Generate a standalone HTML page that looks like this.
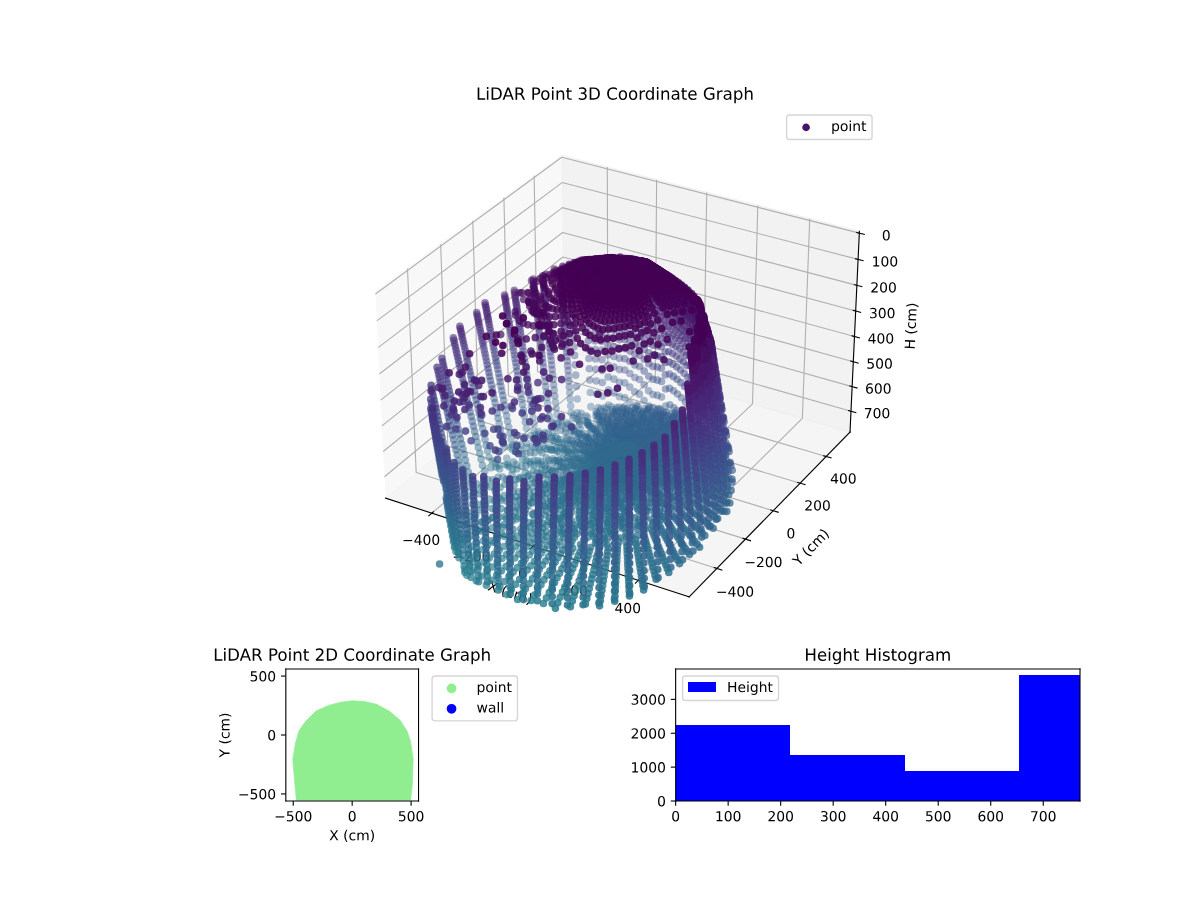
<!DOCTYPE html>
<html><head><meta charset="utf-8"><title>LiDAR Point Graphs</title><style>html,body{margin:0;padding:0;background:#fff;font-family:"Liberation Sans",sans-serif}svg{display:block}</style></head><body>
<svg width="1200" height="900" viewBox="0 0 864 648">
<defs>
<style type="text/css">*{stroke-linejoin:round}</style>
</defs>
<g id="figure_1">
<g id="patch_1">
<path d="M 0 648
L 864 648
L 864 0
L 0 0
z
" style="fill: #ffffff"/>
</g>
<g id="patch_2">
<path d="M 252.72 457.92
L 632.88 457.92
L 632.88 77.76
L 252.72 77.76
z
" style="fill: #ffffff"/>
</g>
<g id="pane3d_1">
<g id="patch_3">
<path d="M 270.252972 210.28506
L 404.455451 111.951293
L 406.092304 251.611507
L 277.550821 358.622367
" style="fill: #f2f2f2; opacity: 0.5; stroke: #f2f2f2; stroke-linejoin: miter"/>
</g>
</g>
<g id="pane3d_2">
<g id="patch_4">
<path d="M 404.455451 111.951293
L 618.766281 166.533927
L 612.009988 311.104854
L 406.092304 251.611507
" style="fill: #e6e6e6; opacity: 0.5; stroke: #e6e6e6; stroke-linejoin: miter"/>
</g>
</g>
<g id="pane3d_3">
<g id="patch_5">
<path d="M 277.550821 358.622367
L 496.12531 429.770374
L 612.009988 311.104854
L 406.092304 251.611507
" style="fill: #ececec; opacity: 0.5; stroke: #ececec; stroke-linejoin: miter"/>
</g>
</g>
<g id="grid3d_1">
<g id="Line3DCollection_1">
<path d="M 310.93676 369.489797
L 437.66829 260.734381
L 437.263356 120.307109
" style="fill: none; stroke: #b0b0b0; stroke-width: 0.8"/>
<path d="M 347.080576 381.254942
L 471.802367 270.596334
L 472.751577 129.345572
" style="fill: none; stroke: #b0b0b0; stroke-width: 0.8"/>
<path d="M 383.888085 393.236124
L 506.509634 280.623892
L 508.859638 138.541902
" style="fill: none; stroke: #b0b0b0; stroke-width: 0.8"/>
<path d="M 421.377734 405.43935
L 541.804652 290.821262
L 545.60392 147.900271
" style="fill: none; stroke: #b0b0b0; stroke-width: 0.8"/>
<path d="M 459.568666 417.87085
L 577.702479 301.192794
L 583.00139 157.424999
" style="fill: none; stroke: #b0b0b0; stroke-width: 0.8"/>
</g>
</g>
<g id="grid3d_2">
<g id="Line3DCollection_2">
<path d="M 293.392906 193.329808
L 299.649288 340.22538
L 516.124182 409.291597
" style="fill: none; stroke: #b0b0b0; stroke-width: 0.8"/>
<path d="M 317.262119 175.840193
L 322.472684 321.224889
L 536.745739 388.175191
" style="fill: none; stroke: #b0b0b0; stroke-width: 0.8"/>
<path d="M 340.395406 158.889812
L 344.620042 302.787201
L 556.72414 367.717376
" style="fill: none; stroke: #b0b0b0; stroke-width: 0.8"/>
<path d="M 362.826284 142.454104
L 366.120959 284.887675
L 576.089012 347.887813
" style="fill: none; stroke: #b0b0b0; stroke-width: 0.8"/>
<path d="M 384.586267 126.509979
L 387.003331 267.503088
L 594.868188 328.658
" style="fill: none; stroke: #b0b0b0; stroke-width: 0.8"/>
</g>
</g>
<g id="grid3d_3">
<g id="Line3DCollection_3">
<path d="M 618.70413 167.863834
L 404.470479 113.233505
L 270.320211 211.651759
" style="fill: none; stroke: #b0b0b0; stroke-width: 0.8"/>
<path d="M 617.82117 186.757385
L 404.684034 131.454529
L 271.275233 231.063703
" style="fill: none; stroke: #b0b0b0; stroke-width: 0.8"/>
<path d="M 616.947294 205.456561
L 404.8955 149.497386
L 272.22004 250.268012
" style="fill: none; stroke: #b0b0b0; stroke-width: 0.8"/>
<path d="M 616.082362 223.964346
L 405.10491 167.364677
L 273.154795 269.268
" style="fill: none; stroke: #b0b0b0; stroke-width: 0.8"/>
<path d="M 615.226237 242.283663
L 405.312291 185.058952
L 274.079658 288.066911
" style="fill: none; stroke: #b0b0b0; stroke-width: 0.8"/>
<path d="M 614.378787 260.417377
L 405.517674 202.582713
L 274.994784 306.667921
" style="fill: none; stroke: #b0b0b0; stroke-width: 0.8"/>
<path d="M 613.539879 278.368293
L 405.721087 219.938411
L 275.900327 325.074137
" style="fill: none; stroke: #b0b0b0; stroke-width: 0.8"/>
<path d="M 612.709386 296.139162
L 405.922559 237.128453
L 276.796436 343.288604
" style="fill: none; stroke: #b0b0b0; stroke-width: 0.8"/>
</g>
</g>
<g id="axis3d_1">
<g id="line2d_1">
<path d="M 277.550821 358.622367
L 496.12531 429.770374
" style="fill: none; stroke: #000000; stroke-width: 0.8; stroke-linecap: square"/>
</g>
<g id="xtick_1">
<g id="line2d_2">
<path d="M 312.042892 368.540564
L 308.719614 371.392454
" style="fill: none; stroke: #000000; stroke-width: 0.8; stroke-linecap: square"/>
</g>
<g id="text_1">
<!-- −400 -->
<g transform="translate(289.473596 392.335025) scale(0.1 -0.1)">
<defs>
<path id="DejaVuSans-2212" d="M 678 2272
L 4684 2272
L 4684 1741
L 678 1741
L 678 2272
z
" transform="scale(0.015625)"/>
<path id="DejaVuSans-34" d="M 2419 4116
L 825 1625
L 2419 1625
L 2419 4116
z
M 2253 4666
L 3047 4666
L 3047 1625
L 3713 1625
L 3713 1100
L 3047 1100
L 3047 0
L 2419 0
L 2419 1100
L 313 1100
L 313 1709
L 2253 4666
z
" transform="scale(0.015625)"/>
<path id="DejaVuSans-30" d="M 2034 4250
Q 1547 4250 1301 3770
Q 1056 3291 1056 2328
Q 1056 1369 1301 889
Q 1547 409 2034 409
Q 2525 409 2770 889
Q 3016 1369 3016 2328
Q 3016 3291 2770 3770
Q 2525 4250 2034 4250
z
M 2034 4750
Q 2819 4750 3233 4129
Q 3647 3509 3647 2328
Q 3647 1150 3233 529
Q 2819 -91 2034 -91
Q 1250 -91 836 529
Q 422 1150 422 2328
Q 422 3509 836 4129
Q 1250 4750 2034 4750
z
" transform="scale(0.015625)"/>
</defs>
<use href="#DejaVuSans-2212"/>
<use href="#DejaVuSans-34" transform="translate(83.789062 0)"/>
<use href="#DejaVuSans-30" transform="translate(147.412109 0)"/>
<use href="#DejaVuSans-30" transform="translate(211.035156 0)"/>
</g>
</g>
</g>
<g id="xtick_2">
<g id="line2d_3">
<path d="M 348.169993 380.288364
L 344.896892 383.192402
" style="fill: none; stroke: #000000; stroke-width: 0.8; stroke-linecap: square"/>
</g>
<g id="text_2">
<!-- −200 -->
<g transform="translate(325.653964 404.274148) scale(0.1 -0.1)">
<defs>
<path id="DejaVuSans-32" d="M 1228 531
L 3431 531
L 3431 0
L 469 0
L 469 531
Q 828 903 1448 1529
Q 2069 2156 2228 2338
Q 2531 2678 2651 2914
Q 2772 3150 2772 3378
Q 2772 3750 2511 3984
Q 2250 4219 1831 4219
Q 1534 4219 1204 4116
Q 875 4013 500 3803
L 500 4441
Q 881 4594 1212 4672
Q 1544 4750 1819 4750
Q 2544 4750 2975 4387
Q 3406 4025 3406 3419
Q 3406 3131 3298 2873
Q 3191 2616 2906 2266
Q 2828 2175 2409 1742
Q 1991 1309 1228 531
z
" transform="scale(0.015625)"/>
</defs>
<use href="#DejaVuSans-2212"/>
<use href="#DejaVuSans-32" transform="translate(83.789062 0)"/>
<use href="#DejaVuSans-30" transform="translate(147.412109 0)"/>
<use href="#DejaVuSans-30" transform="translate(211.035156 0)"/>
</g>
</g>
</g>
<g id="xtick_3">
<g id="line2d_4">
<path d="M 384.959982 392.251723
L 381.739471 395.209351
" style="fill: none; stroke: #000000; stroke-width: 0.8; stroke-linecap: square"/>
</g>
<g id="text_3">
<!-- 0 -->
<g transform="translate(373.053026 416.433159) scale(0.1 -0.1)">
<use href="#DejaVuSans-30"/>
</g>
</g>
</g>
<g id="xtick_4">
<g id="line2d_5">
<path d="M 422.431274 404.436628
L 419.265875 407.449344
" style="fill: none; stroke: #000000; stroke-width: 0.8; stroke-linecap: square"/>
</g>
<g id="text_4">
<!-- 200 -->
<g transform="translate(404.222173 428.818189) scale(0.1 -0.1)">
<use href="#DejaVuSans-32"/>
<use href="#DejaVuSans-30" transform="translate(63.623047 0)"/>
<use href="#DejaVuSans-30" transform="translate(127.246094 0)"/>
</g>
</g>
</g>
<g id="xtick_5">
<g id="line2d_6">
<path d="M 460.602972 416.84929
L 457.495319 419.918647
" style="fill: none; stroke: #000000; stroke-width: 0.8; stroke-linecap: square"/>
</g>
<g id="text_5">
<!-- 400 -->
<g transform="translate(442.458025 441.435599) scale(0.1 -0.1)">
<use href="#DejaVuSans-34"/>
<use href="#DejaVuSans-30" transform="translate(63.623047 0)"/>
<use href="#DejaVuSans-30" transform="translate(127.246094 0)"/>
</g>
</g>
</g>
<g id="text_6">
<!-- X (cm) -->
<g transform="translate(350.613529 424.771398) rotate(-341.969455) scale(0.1 -0.1)">
<defs>
<path id="DejaVuSans-58" d="M 403 4666
L 1081 4666
L 2241 2931
L 3406 4666
L 4084 4666
L 2584 2425
L 4184 0
L 3506 0
L 2194 1984
L 872 0
L 191 0
L 1856 2491
L 403 4666
z
" transform="scale(0.015625)"/>
<path id="DejaVuSans-20" transform="scale(0.015625)"/>
<path id="DejaVuSans-28" d="M 1984 4856
Q 1566 4138 1362 3434
Q 1159 2731 1159 2009
Q 1159 1288 1364 580
Q 1569 -128 1984 -844
L 1484 -844
Q 1016 -109 783 600
Q 550 1309 550 2009
Q 550 2706 781 3412
Q 1013 4119 1484 4856
L 1984 4856
z
" transform="scale(0.015625)"/>
<path id="DejaVuSans-63" d="M 3122 3366
L 3122 2828
Q 2878 2963 2633 3030
Q 2388 3097 2138 3097
Q 1578 3097 1268 2742
Q 959 2388 959 1747
Q 959 1106 1268 751
Q 1578 397 2138 397
Q 2388 397 2633 464
Q 2878 531 3122 666
L 3122 134
Q 2881 22 2623 -34
Q 2366 -91 2075 -91
Q 1284 -91 818 406
Q 353 903 353 1747
Q 353 2603 823 3093
Q 1294 3584 2113 3584
Q 2378 3584 2631 3529
Q 2884 3475 3122 3366
z
" transform="scale(0.015625)"/>
<path id="DejaVuSans-6d" d="M 3328 2828
Q 3544 3216 3844 3400
Q 4144 3584 4550 3584
Q 5097 3584 5394 3201
Q 5691 2819 5691 2113
L 5691 0
L 5113 0
L 5113 2094
Q 5113 2597 4934 2840
Q 4756 3084 4391 3084
Q 3944 3084 3684 2787
Q 3425 2491 3425 1978
L 3425 0
L 2847 0
L 2847 2094
Q 2847 2600 2669 2842
Q 2491 3084 2119 3084
Q 1678 3084 1418 2786
Q 1159 2488 1159 1978
L 1159 0
L 581 0
L 581 3500
L 1159 3500
L 1159 2956
Q 1356 3278 1631 3431
Q 1906 3584 2284 3584
Q 2666 3584 2933 3390
Q 3200 3197 3328 2828
z
" transform="scale(0.015625)"/>
<path id="DejaVuSans-29" d="M 513 4856
L 1013 4856
Q 1481 4119 1714 3412
Q 1947 2706 1947 2009
Q 1947 1309 1714 600
Q 1481 -109 1013 -844
L 513 -844
Q 928 -128 1133 580
Q 1338 1288 1338 2009
Q 1338 2731 1133 3434
Q 928 4138 513 4856
z
" transform="scale(0.015625)"/>
</defs>
<use href="#DejaVuSans-58"/>
<use href="#DejaVuSans-20" transform="translate(68.505859 0)"/>
<use href="#DejaVuSans-28" transform="translate(100.292969 0)"/>
<use href="#DejaVuSans-63" transform="translate(139.306641 0)"/>
<use href="#DejaVuSans-6d" transform="translate(194.287109 0)"/>
<use href="#DejaVuSans-29" transform="translate(291.699219 0)"/>
</g>
</g>
</g>
<g id="axis3d_2">
<g id="line2d_7">
<path d="M 612.009988 311.104854
L 496.12531 429.770374
" style="fill: none; stroke: #000000; stroke-width: 0.8; stroke-linecap: square"/>
</g>
<g id="xtick_6">
<g id="line2d_8">
<path d="M 514.298548 408.709129
L 519.780241 410.458061
" style="fill: none; stroke: #000000; stroke-width: 0.8; stroke-linecap: square"/>
</g>
<g id="text_7">
<!-- −400 -->
<g transform="translate(515.49067 429.591965) scale(0.1 -0.1)">
<use href="#DejaVuSans-2212"/>
<use href="#DejaVuSans-34" transform="translate(83.789062 0)"/>
<use href="#DejaVuSans-30" transform="translate(147.412109 0)"/>
<use href="#DejaVuSans-30" transform="translate(211.035156 0)"/>
</g>
</g>
</g>
<g id="xtick_7">
<g id="line2d_9">
<path d="M 534.940145 387.611028
L 540.361591 389.304976
" style="fill: none; stroke: #000000; stroke-width: 0.8; stroke-linecap: square"/>
</g>
<g id="text_8">
<!-- −200 -->
<g transform="translate(535.918658 408.259775) scale(0.1 -0.1)">
<use href="#DejaVuSans-2212"/>
<use href="#DejaVuSans-32" transform="translate(83.789062 0)"/>
<use href="#DejaVuSans-30" transform="translate(147.412109 0)"/>
<use href="#DejaVuSans-30" transform="translate(211.035156 0)"/>
</g>
</g>
</g>
<g id="xtick_8">
<g id="line2d_10">
<path d="M 554.938234 367.170667
L 560.300495 368.812185
" style="fill: none; stroke: #000000; stroke-width: 0.8; stroke-linecap: square"/>
</g>
<g id="text_9">
<!-- 0 -->
<g transform="translate(566.261442 387.593351) scale(0.1 -0.1)">
<use href="#DejaVuSans-30"/>
</g>
</g>
</g>
<g id="xtick_9">
<g id="line2d_11">
<path d="M 574.322444 347.357761
L 579.62657 348.949245
" style="fill: none; stroke: #000000; stroke-width: 0.8; stroke-linecap: square"/>
</g>
<g id="text_10">
<!-- 200 -->
<g transform="translate(579.081222 367.562007) scale(0.1 -0.1)">
<use href="#DejaVuSans-32"/>
<use href="#DejaVuSans-30" transform="translate(63.623047 0)"/>
<use href="#DejaVuSans-30" transform="translate(127.246094 0)"/>
</g>
</g>
</g>
<g id="xtick_10">
<g id="line2d_12">
<path d="M 593.120615 328.143855
L 598.367644 329.687558
" style="fill: none; stroke: #000000; stroke-width: 0.8; stroke-linecap: square"/>
</g>
<g id="text_11">
<!-- 400 -->
<g transform="translate(597.682951 348.136911) scale(0.1 -0.1)">
<use href="#DejaVuSans-34"/>
<use href="#DejaVuSans-30" transform="translate(63.623047 0)"/>
<use href="#DejaVuSans-30" transform="translate(127.246094 0)"/>
</g>
</g>
</g>
<g id="text_12">
<!-- Y (cm) -->
<g transform="translate(575.075775 407.921094) rotate(-45.67927) scale(0.1 -0.1)">
<defs>
<path id="DejaVuSans-59" d="M -13 4666
L 666 4666
L 1959 2747
L 3244 4666
L 3922 4666
L 2272 2222
L 2272 0
L 1638 0
L 1638 2222
L -13 4666
z
" transform="scale(0.015625)"/>
</defs>
<use href="#DejaVuSans-59"/>
<use href="#DejaVuSans-20" transform="translate(61.083984 0)"/>
<use href="#DejaVuSans-28" transform="translate(92.871094 0)"/>
<use href="#DejaVuSans-63" transform="translate(131.884766 0)"/>
<use href="#DejaVuSans-6d" transform="translate(186.865234 0)"/>
<use href="#DejaVuSans-29" transform="translate(284.277344 0)"/>
</g>
</g>
</g>
<g id="axis3d_3">
<g id="line2d_13">
<path d="M 612.009988 311.104854
L 618.766281 166.533927
" style="fill: none; stroke: #000000; stroke-width: 0.8; stroke-linecap: square"/>
</g>
<g id="xtick_11">
<g id="line2d_14">
<path d="M 616.900727 167.403959
L 622.3155 168.784746
" style="fill: none; stroke: #000000; stroke-width: 0.8; stroke-linecap: square"/>
</g>
<g id="text_13">
<!-- 0 -->
<g transform="translate(634.933428 173.022584) scale(0.1 -0.1)">
<use href="#DejaVuSans-30"/>
</g>
</g>
</g>
<g id="xtick_12">
<g id="line2d_15">
<path d="M 616.027458 186.291969
L 621.413111 187.689389
" style="fill: none; stroke: #000000; stroke-width: 0.8; stroke-linecap: square"/>
</g>
<g id="text_14">
<!-- 100 -->
<g transform="translate(627.58979 191.886713) scale(0.1 -0.1)">
<defs>
<path id="DejaVuSans-31" d="M 794 531
L 1825 531
L 1825 4091
L 703 3866
L 703 4441
L 1819 4666
L 2450 4666
L 2450 531
L 3481 531
L 3481 0
L 794 0
L 794 531
z
" transform="scale(0.015625)"/>
</defs>
<use href="#DejaVuSans-31"/>
<use href="#DejaVuSans-30" transform="translate(63.623047 0)"/>
<use href="#DejaVuSans-30" transform="translate(127.246094 0)"/>
</g>
</g>
</g>
<g id="xtick_13">
<g id="line2d_16">
<path d="M 615.163169 204.985741
L 620.520012 206.39938
" style="fill: none; stroke: #000000; stroke-width: 0.8; stroke-linecap: square"/>
</g>
<g id="text_15">
<!-- 200 -->
<g transform="translate(626.618725 210.557197) scale(0.1 -0.1)">
<use href="#DejaVuSans-32"/>
<use href="#DejaVuSans-30" transform="translate(63.623047 0)"/>
<use href="#DejaVuSans-30" transform="translate(127.246094 0)"/>
</g>
</g>
</g>
<g id="xtick_14">
<g id="line2d_17">
<path d="M 614.307722 223.488257
L 619.636063 224.91771
" style="fill: none; stroke: #000000; stroke-width: 0.8; stroke-linecap: square"/>
</g>
<g id="text_16">
<!-- 300 -->
<g transform="translate(625.657576 229.037005) scale(0.1 -0.1)">
<defs>
<path id="DejaVuSans-33" d="M 2597 2516
Q 3050 2419 3304 2112
Q 3559 1806 3559 1356
Q 3559 666 3084 287
Q 2609 -91 1734 -91
Q 1441 -91 1130 -33
Q 819 25 488 141
L 488 750
Q 750 597 1062 519
Q 1375 441 1716 441
Q 2309 441 2620 675
Q 2931 909 2931 1356
Q 2931 1769 2642 2001
Q 2353 2234 1838 2234
L 1294 2234
L 1294 2753
L 1863 2753
Q 2328 2753 2575 2939
Q 2822 3125 2822 3475
Q 2822 3834 2567 4026
Q 2313 4219 1838 4219
Q 1578 4219 1281 4162
Q 984 4106 628 3988
L 628 4550
Q 988 4650 1302 4700
Q 1616 4750 1894 4750
Q 2613 4750 3031 4423
Q 3450 4097 3450 3541
Q 3450 3153 3228 2886
Q 3006 2619 2597 2516
z
" transform="scale(0.015625)"/>
</defs>
<use href="#DejaVuSans-33"/>
<use href="#DejaVuSans-30" transform="translate(63.623047 0)"/>
<use href="#DejaVuSans-30" transform="translate(127.246094 0)"/>
</g>
</g>
</g>
<g id="xtick_15">
<g id="line2d_18">
<path d="M 613.460983 241.802437
L 618.761122 243.247309
" style="fill: none; stroke: #000000; stroke-width: 0.8; stroke-linecap: square"/>
</g>
<g id="text_17">
<!-- 400 -->
<g transform="translate(624.706194 247.329042) scale(0.1 -0.1)">
<use href="#DejaVuSans-34"/>
<use href="#DejaVuSans-30" transform="translate(63.623047 0)"/>
<use href="#DejaVuSans-30" transform="translate(127.246094 0)"/>
</g>
</g>
</g>
<g id="xtick_16">
<g id="line2d_19">
<path d="M 612.62282 259.931141
L 617.895053 261.391048
" style="fill: none; stroke: #000000; stroke-width: 0.8; stroke-linecap: square"/>
</g>
<g id="text_18">
<!-- 500 -->
<g transform="translate(623.76443 265.436156) scale(0.1 -0.1)">
<defs>
<path id="DejaVuSans-35" d="M 691 4666
L 3169 4666
L 3169 4134
L 1269 4134
L 1269 2991
Q 1406 3038 1543 3061
Q 1681 3084 1819 3084
Q 2600 3084 3056 2656
Q 3513 2228 3513 1497
Q 3513 744 3044 326
Q 2575 -91 1722 -91
Q 1428 -91 1123 -41
Q 819 9 494 109
L 494 744
Q 775 591 1075 516
Q 1375 441 1709 441
Q 2250 441 2565 725
Q 2881 1009 2881 1497
Q 2881 1984 2565 2268
Q 2250 2553 1709 2553
Q 1456 2553 1204 2497
Q 953 2441 691 2322
L 691 4666
z
" transform="scale(0.015625)"/>
</defs>
<use href="#DejaVuSans-35"/>
<use href="#DejaVuSans-30" transform="translate(63.623047 0)"/>
<use href="#DejaVuSans-30" transform="translate(127.246094 0)"/>
</g>
</g>
</g>
<g id="xtick_17">
<g id="line2d_20">
<path d="M 611.793102 277.877173
L 617.037722 279.351739
" style="fill: none; stroke: #000000; stroke-width: 0.8; stroke-linecap: square"/>
</g>
<g id="text_19">
<!-- 600 -->
<g transform="translate(622.832139 283.361136) scale(0.1 -0.1)">
<defs>
<path id="DejaVuSans-36" d="M 2113 2584
Q 1688 2584 1439 2293
Q 1191 2003 1191 1497
Q 1191 994 1439 701
Q 1688 409 2113 409
Q 2538 409 2786 701
Q 3034 994 3034 1497
Q 3034 2003 2786 2293
Q 2538 2584 2113 2584
z
M 3366 4563
L 3366 3988
Q 3128 4100 2886 4159
Q 2644 4219 2406 4219
Q 1781 4219 1451 3797
Q 1122 3375 1075 2522
Q 1259 2794 1537 2939
Q 1816 3084 2150 3084
Q 2853 3084 3261 2657
Q 3669 2231 3669 1497
Q 3669 778 3244 343
Q 2819 -91 2113 -91
Q 1303 -91 875 529
Q 447 1150 447 2328
Q 447 3434 972 4092
Q 1497 4750 2381 4750
Q 2619 4750 2861 4703
Q 3103 4656 3366 4563
z
" transform="scale(0.015625)"/>
</defs>
<use href="#DejaVuSans-36"/>
<use href="#DejaVuSans-30" transform="translate(63.623047 0)"/>
<use href="#DejaVuSans-30" transform="translate(127.246094 0)"/>
</g>
</g>
</g>
<g id="xtick_18">
<g id="line2d_21">
<path d="M 610.971702 295.64328
L 616.188997 297.132138
" style="fill: none; stroke: #000000; stroke-width: 0.8; stroke-linecap: square"/>
</g>
<g id="text_20">
<!-- 700 -->
<g transform="translate(621.909178 301.106717) scale(0.1 -0.1)">
<defs>
<path id="DejaVuSans-37" d="M 525 4666
L 3525 4666
L 3525 4397
L 1831 0
L 1172 0
L 2766 4134
L 525 4134
L 525 4666
z
" transform="scale(0.015625)"/>
</defs>
<use href="#DejaVuSans-37"/>
<use href="#DejaVuSans-30" transform="translate(63.623047 0)"/>
<use href="#DejaVuSans-30" transform="translate(127.246094 0)"/>
</g>
</g>
</g>
<g id="text_21">
<!-- H (cm) -->
<g transform="translate(658.561219 251.728954) rotate(-87.324319) scale(0.1 -0.1)">
<defs>
<path id="DejaVuSans-48" d="M 628 4666
L 1259 4666
L 1259 2753
L 3553 2753
L 3553 4666
L 4184 4666
L 4184 0
L 3553 0
L 3553 2222
L 1259 2222
L 1259 0
L 628 0
L 628 4666
z
" transform="scale(0.015625)"/>
</defs>
<use href="#DejaVuSans-48"/>
<use href="#DejaVuSans-20" transform="translate(75.195312 0)"/>
<use href="#DejaVuSans-28" transform="translate(106.982422 0)"/>
<use href="#DejaVuSans-63" transform="translate(145.996094 0)"/>
<use href="#DejaVuSans-6d" transform="translate(200.976562 0)"/>
<use href="#DejaVuSans-29" transform="translate(298.388672 0)"/>
</g>
</g>
</g>
<g id="axes_1">
<defs>
<path id="C0_0_6719e13be9" d="M 0 2.236068
C 0.593012 2.236068 1.161816 2.000462 1.581139 1.581139
C 2.000462 1.161816 2.236068 0.593012 2.236068 -0
C 2.236068 -0.593012 2.000462 -1.161816 1.581139 -1.581139
C 1.161816 -2.000462 0.593012 -2.236068 0 -2.236068
C -0.593012 -2.236068 -1.161816 -2.000462 -1.581139 -1.581139
C -2.000462 -1.161816 -2.236068 -0.593012 -2.236068 0
C -2.236068 0.593012 -2.000462 1.161816 -1.581139 1.581139
C -1.161816 2.000462 -0.593012 2.236068 0 2.236068
z
"/>
</defs><g stroke-width="5.47" stroke-linecap="round" fill="none"><path d="M411.2 297.1h0M403.3 301.4h0M397.2 303.4h0M418.4 297.6h0M415.2 301.5h0M384.5 305.4h0M408 304.4h0M423 300.5h0M379 308.3h0M400.1 307.9h0" stroke="#31678e" stroke-opacity="0.36"/><path d="M415.6 297.3h0M400.9 298.7h0M398.3 304.8h0M395.4 299.6h0M412.5 301.2h0M404.5 304.7h0M421.8 299.4h0M383.9 300.8h0" stroke="#31678e" stroke-opacity="0.36"/><path d="M413.1 299h0M401.7 304.6h0" stroke="#31678e" stroke-opacity="0.36"/><path d="M417.2 299.9h0M400.7 305.3h0" stroke="#31678e" stroke-opacity="0.36"/><path d="M416.4 302.6h0M404.9 306.5h0" stroke="#31678e" stroke-opacity="0.36"/><path d="M425.4 292.8h0M430.8 293.4h0M410.9 292.1h0M438.2 291.6h0M400.4 293.9h0M394.9 295h0M444 293.5h0M435.1 296.5h0" stroke="#33638d" stroke-opacity="0.36"/><path d="M432.6 294.3h0M440.2 292.9h0M445.7 293.1h0M394.3 290.5h0" stroke="#33638d" stroke-opacity="0.36"/><path d="M435.6 293.4h0M429.1 296.3h0M440.9 294.9h0" stroke="#33638d" stroke-opacity="0.36"/><path d="M436.7 294.5h0M429.7 297.6h0" stroke="#33638d" stroke-opacity="0.36"/><path d="M432.2 295.9h0" stroke="#33638d" stroke-opacity="0.36"/><path d="M430.4 298.1h0" stroke="#33638d" stroke-opacity="0.36"/><path d="M415.6 287.3h0M410.5 287.3h0M433.9 285.2h0M425 282.6h0M399.9 289.4h0M453.4 290h0M446 285.6h0" stroke="#355e8d" stroke-opacity="0.36"/><path d="M429.6 283.7h0M410.2 282.8h0" stroke="#355e8d" stroke-opacity="0.36"/><path d="M384.5 310.5h0M378 314.7h0" stroke="#2f6c8e" stroke-opacity="0.36"/><path d="M387.6 310.5h0M382 313.7h0" stroke="#2f6c8e" stroke-opacity="0.36"/><path d="M429.1 299.4h0M449 293.3h0M443.8 294.9h0M437 297.4h0M458.3 291.9h0M383.2 296.4h0M377.5 299.5h0M453.9 296.3h0M447.9 298.4h0M433.7 303h0M440.8 302.1h0M463.6 296.3h0M365.5 303.3h0M452.4 301.3h0M437.8 306h0M447.7 304.1h0M460.9 301.3h0M359.4 305h0" stroke="#33628d" stroke-opacity="0.41"/><path d="M431.6 299.2h0M441 296.3h0M448.3 294.1h0M455.3 293.4h0M376.9 295.3h0M437.1 301.8h0M460 295.4h0M444.3 300.5h0M451.1 298.7h0M466.3 295.9h0M457.1 299.7h0M441.1 304.9h0M448.9 303.2h0M364.8 299.3h0M463.5 300.8h0" stroke="#33628d" stroke-opacity="0.41"/><path d="M430.8 300.3h0M443 296.6h0M450.4 294.6h0M459.3 292.6h0M438 300h0M454.5 297.7h0M447.8 299.8h0M434.4 304.2h0M462.4 297h0M444.1 303.4h0M451.7 302.8h0M438.4 307.2h0M456.7 302.6h0" stroke="#33628d" stroke-opacity="0.41"/><path d="M445 296.1h0M435.1 299.5h0M451.6 294.4h0M457.5 294h0M440.2 299.4h0M445.3 301.7h0M450.3 300.2h0M437.5 304.6h0M462.2 297.7h0M456.9 301.1h0M443.5 306.4h0" stroke="#33628d" stroke-opacity="0.41"/><path d="M434.2 299.8h0M441.8 297.5h0M448.7 296.2h0M457.4 294.7h0M445.5 301.7h0M454.8 299.1h0M440.1 303.8h0M461.9 298.4h0M452.4 304.2h0" stroke="#33628d" stroke-opacity="0.41"/><path d="M443.2 297.9h0M433.4 301.6h0M452.9 295.7h0M459 295.4h0M450 301.6h0M438.5 305.7h0M465.9 297.3h0M455.1 301.9h0M445.4 305.9h0" stroke="#33628d" stroke-opacity="0.41"/><path d="M447.1 297.2h0M432.6 302.7h0M440.2 300.8h0M457.1 296.9h0M445.4 303.1h0M466.3 298.9h0M453.9 303.3h0M442.1 307.5h0" stroke="#33628d" stroke-opacity="0.41"/><path d="M448.4 297.6h0M437.7 303h0M456.8 298.3h0M443.3 305h0M449.1 304.5h0M464.1 300.1h0" stroke="#33628d" stroke-opacity="0.41"/><path d="M444.1 299.2h0M451.2 297.3h0M437.2 304.7h0M461.4 299.1h0" stroke="#33628d" stroke-opacity="0.41"/><path d="M451.2 298.7h0M450.9 300.1h0M454.1 300.5h0M460.1 299.8h0M441.7 306.2h0M458 302.6h0M440 308.1h0" stroke="#33628d" stroke-opacity="0.41"/><path d="M409.3 305.6h0M417.3 303.9h0M378.2 303.8h0M403.4 309.8h0M423.1 303.7h0M430 302.1h0M412.9 309h0M367.2 311.7h0M418.2 309.3h0M426.9 308.5h0M408.2 314.5h0M361.1 313.2h0M432.4 307.4h0M422.1 312.3h0M416.8 314.3h0M438.6 308.6h0" stroke="#31678e" stroke-opacity="0.41"/><path d="M421.4 303h0M410.7 306.6h0M407.2 311.3h0M431.8 304.5h0M424.6 306.8h0M413.8 310.4h0M366.3 307.4h0M418.8 312.8h0M360.3 309h0M408.6 316.5h0M436.1 308.1h0M430 310.2h0" stroke="#31678e" stroke-opacity="0.41"/><path d="M417.4 305.6h0M407.6 308.8h0M412.4 307.4h0M422.5 304.5h0M432.2 305.9h0M413.1 313.1h0M427.1 308.8h0" stroke="#31678e" stroke-opacity="0.41"/><path d="M423.6 305.2h0M411.3 310.2h0M417.2 312h0M428.5 309.3h0M435 307.8h0M410.9 316.8h0" stroke="#31678e" stroke-opacity="0.41"/><path d="M423.3 305.8h0M413.6 310.6h0M425.5 311.5h0M436.1 308.9h0" stroke="#31678e" stroke-opacity="0.41"/><path d="M424.1 306.6h0M416.9 312.2h0M429.1 311.1h0" stroke="#31678e" stroke-opacity="0.41"/><path d="M426.7 306.9h0" stroke="#31678e" stroke-opacity="0.41"/><path d="M425.4 308.1h0" stroke="#31678e" stroke-opacity="0.41"/><path d="M442.1 282.9h0M449.8 286.4h0M399.5 285.1h0M393.8 286.3h0M382.6 292.3h0M463.7 288.4h0M467.3 292.3h0M376.2 291.3h0M474 294.2h0M479.3 292.3h0M470.8 298.2h0M364 295.5h0" stroke="#355e8d" stroke-opacity="0.41"/><path d="M382 288.2h0M464.2 294.2h0M470.2 293.4h0M375.6 287.5h0M475.4 294.6h0M471.2 298.4h0" stroke="#355e8d" stroke-opacity="0.41"/><path d="M467.6 293.8h0M472.4 295.4h0" stroke="#355e8d" stroke-opacity="0.41"/><path d="M467.1 294.5h0M474.8 296.1h0" stroke="#355e8d" stroke-opacity="0.41"/><path d="M466.1 295.1h0M472.2 297h0" stroke="#355e8d" stroke-opacity="0.41"/><path d="M469.4 296.4h0" stroke="#355e8d" stroke-opacity="0.41"/><path d="M385.4 313.2h0M392.4 311.4h0M398.1 311.4h0M369.2 320.4h0M379.1 319.2h0M362.9 322h0M392.7 317.2h0M374.8 323.8h0M401.3 316h0M385.2 322.2h0M392.7 323h0" stroke="#2f6d8e" stroke-opacity="0.41"/><path d="M388.4 312.4h0M394.7 311.9h0M368 316.2h0M372.3 320.3h0M400.2 314.4h0M362 317.5h0M379.5 322.4h0M388 322.2h0M375.9 326.6h0M404.7 318.6h0M396 322.1h0" stroke="#2f6d8e" stroke-opacity="0.41"/><path d="M387.4 314.1h0M392.6 314.5h0M375.1 320.5h0M383.1 321.3h0M398.3 317.1h0M403.5 316.4h0M391.4 321.2h0M378.8 326.6h0" stroke="#2f6d8e" stroke-opacity="0.41"/><path d="M389 315.3h0M397.1 314.8h0M402.1 318.6h0M382 325.9h0M388.6 324.2h0" stroke="#2f6d8e" stroke-opacity="0.41"/><path d="M396.8 315.8h0" stroke="#2f6d8e" stroke-opacity="0.41"/><path d="M399.8 318.3h0" stroke="#2f6d8e" stroke-opacity="0.41"/><path d="M438.1 280.8h0M415 278.3h0M409.9 278.5h0M399 280.9h0M433.7 275.4h0M424.6 273.6h0M393.4 282.2h0M446 275.2h0M457 282.1h0M453.5 278.7h0M381.4 284.4h0M467 281.4h0M375 283.8h0M473.3 284.7h0" stroke="#38588c" stroke-opacity="0.41"/><path d="M429.3 274.3h0M409.6 274.4h0M398.6 277h0M392.9 278.4h0M460.4 283.8h0M449.8 275.7h0M380.9 280.7h0M470.2 284h0M374.4 280.2h0M476.3 285.8h0" stroke="#38588c" stroke-opacity="0.41"/><path d="M367.3 321.8h0M371.1 325h0M354.4 331.7h0M364.9 330h0" stroke="#2d718e" stroke-opacity="0.41"/><path d="M368.9 323.7h0M356.8 333.4h0M352.1 329.2h0" stroke="#2d718e" stroke-opacity="0.41"/><path d="M414.5 270.1h0M409.3 270.5h0M437.9 271.4h0M398.2 273.2h0M424.3 265.5h0M433.6 266.7h0M392.5 274.6h0M391.6 267.6h0M380.4 277.1h0M457.1 271.8h0M463.8 277h0M379.4 270.3h0M373.8 276.8h0" stroke="#3b528b" stroke-opacity="0.41"/><path d="M442.1 273h0M409 266.8h0M429 265.9h0M397.9 269.6h0M392.1 271.1h0M453.5 268.9h0M460.5 273.2h0M379.8 273.7h0" stroke="#3b528b" stroke-opacity="0.41"/><path d="M414.1 262.7h0M408.7 263.3h0M397.5 266.1h0M437.8 263h0M446 266.1h0M424 258.1h0M433.4 259h0M391.3 264.3h0M396.9 259.5h0" stroke="#3e4c8a" stroke-opacity="0.41"/><path d="M442 264.3h0M408.5 259.9h0M428.8 258.4h0M397.2 262.8h0M449.8 266.4h0M390.9 261.1h0" stroke="#3e4c8a" stroke-opacity="0.41"/><path d="M413.7 255.9h0M408.2 256.6h0M437.7 255.5h0M423.8 251.5h0M396.5 256.4h0M446 258h0M433.3 252h0M407.8 250.5h0" stroke="#404688" stroke-opacity="0.41"/><path d="M408 253.5h0M428.6 251.6h0M442 256.6h0" stroke="#404688" stroke-opacity="0.41"/><path d="M413.3 249.7h0" stroke="#414287" stroke-opacity="0.41"/><path d="M431.2 311.2h0M418.2 315.3h0M436.1 310.4h0M412.2 318h0M423.5 315.2h0M441.7 310.5h0M350.1 320.5h0M429 317h0M435.6 315.4h0M420.1 320.5h0M440.5 315.4h0M447.8 315.3h0M344.4 322.2h0M424.7 323.3h0M434.5 320.6h0M419.8 325.5h0M443.2 319.6h0" stroke="#31678e" stroke-opacity="0.46"/><path d="M421.7 314.7h0M429.5 312.6h0M415.8 316.9h0M438 310.4h0M411.2 319.7h0M434.6 314.3h0M443.6 312.8h0M349.2 316.4h0M423 319.4h0M429.9 318.2h0M417.1 323.5h0M440.8 317.6h0M448 316h0M434.2 320.8h0M427.2 323h0M343.5 318.2h0M422.6 325.5h0" stroke="#31678e" stroke-opacity="0.46"/><path d="M421.6 314.7h0M431.1 312.9h0M436.7 311.7h0M416.3 318.8h0M442.6 313.1h0M426.7 318.8h0M434.7 316.3h0M421.7 321.4h0M431.8 320.8h0M446.1 317.1h0M440.4 319.3h0M451.1 317h0M421.5 326.4h0" stroke="#31678e" stroke-opacity="0.46"/><path d="M422.9 315.7h0M429.7 314.2h0M439 311.4h0M413.6 319.8h0M444.8 313.9h0M436.4 316.6h0M423.9 321h0M431.8 318.8h0M419.1 323.9h0M441.7 318.7h0M450 316.4h0M428.8 323.9h0" stroke="#31678e" stroke-opacity="0.46"/><path d="M433.7 313.1h0M425.4 315.8h0M441.2 312.1h0M418.3 319.3h0M423.8 321.7h0M438.4 317.2h0M430.5 319.8h0M445.4 315.9h0M434.9 322.3h0M450.1 317.8h0" stroke="#31678e" stroke-opacity="0.46"/><path d="M424 316.9h0M431.9 314.6h0M437 313.1h0M418.1 320.1h0M442.5 314.6h0M429 319h0M437 318.4h0M421 324.5h0M447.7 316.7h0M433.5 323h0" stroke="#31678e" stroke-opacity="0.46"/><path d="M428.2 315.6h0M439.2 312.9h0M433.6 315.3h0M420.7 319.3h0M414.7 321.3h0M445.2 314.5h0M426.7 320.5h0M438.5 318.7h0M431.7 322.6h0M449.6 317.2h0M424.9 325.4h0" stroke="#31678e" stroke-opacity="0.46"/><path d="M425 318.1h0M438.5 313.9h0M444.7 315.3h0M434 319h0M439.3 320.4h0" stroke="#31678e" stroke-opacity="0.46"/><path d="M441.5 313.5h0M435.6 317.5h0M428.1 321.5h0M445.2 318.1h0" stroke="#31678e" stroke-opacity="0.46"/><path d="M439.6 315h0M440.6 316.1h0M443.9 315.6h0M441.4 316.5h0M444.8 316.8h0M443.6 317.2h0M443 317.4h0M430.3 321.6h0M438 319.5h0M444.5 318.3h0M443 318.9h0M436.4 321h0M448.9 317.2h0M445.9 318.6h0M447 318.3h0M441 320.6h0" stroke="#31678e" stroke-opacity="0.46"/><path d="M462.8 301.4h0M469.5 299.5h0M448.8 306h0M455.6 304h0M442 308.9h0M358.6 301.1h0M453.2 309h0M466.1 305.2h0M447.8 311.1h0M475.6 302.4h0M461.5 307.3h0M348.3 312.4h0M457.8 311.4h0M473.1 306.9h0M452 314.1h0M479.5 305.7h0M465.5 311h0" stroke="#33638d" stroke-opacity="0.46"/><path d="M461.7 302.1h0M445 307.4h0M451 305.7h0M467.4 300.7h0M456.3 305.4h0M472.8 300.5h0M462 307.4h0M448.2 311.7h0M470.1 305.6h0M454.1 311.2h0M475.9 304.5h0M347.5 308.6h0M467 309.8h0M458.8 313.2h0M451.5 315.6h0M480.9 306.8h0M475.7 309.8h0" stroke="#33638d" stroke-opacity="0.46"/><path d="M445.9 307.2h0M454.7 304.7h0M459.7 303.4h0M471.1 299.9h0M465.8 301.9h0M450.9 308.5h0M475.8 302.5h0M459.3 308.5h0M446.4 312.8h0M467.5 307.3h0M453.7 312.6h0M472.6 307.7h0M464 311.3h0M479 307.6h0M458.7 314.8h0M469.2 311.9h0" stroke="#33638d" stroke-opacity="0.46"/><path d="M442.8 308.7h0M459.3 304.1h0M450.1 307.2h0M469.6 301.2h0M465.2 303.3h0M455.1 306.8h0M474.3 303.7h0M447.3 312.6h0M461.7 309h0M452.6 311.9h0M469 306.9h0M457.7 313h0M477.1 308.5h0M467.2 311.8h0" stroke="#33638d" stroke-opacity="0.46"/><path d="M443.8 309.2h0M463.6 303.1h0M453.8 306.2h0M458.7 305.5h0M468.8 302.6h0M449.4 308.7h0M454.3 311.2h0M477.2 304.2h0M465.5 308.3h0M447.8 313.9h0M461 310.4h0M471.4 308.1h0M453.8 316.3h0M480.1 308.6h0" stroke="#33638d" stroke-opacity="0.46"/><path d="M447.4 308.3h0M452.2 307h0M459.9 304.9h0M472.2 302h0M467.3 303.8h0M456.9 309.1h0M450.7 312.8h0M476.6 305.9h0M469.1 308.8h0M462.7 310.8h0M456 314.3h0" stroke="#33638d" stroke-opacity="0.46"/><path d="M444.2 309.8h0M462.3 304.4h0M455.8 306.8h0M470.4 303.1h0M449.6 310.1h0M459.7 310.2h0M467.5 308.1h0M454 312.6h0M475 307h0M449.8 315.7h0M464.3 312.3h0" stroke="#33638d" stroke-opacity="0.46"/><path d="M453.4 307.6h0M444.1 310.5h0M459.6 306.3h0M465.5 305h0M471.7 304.4h0M448.3 313.1h0M456.1 312h0M465.3 310h0M477.4 306.5h0M470.8 310.8h0M461.4 313.9h0" stroke="#33638d" stroke-opacity="0.46"/><path d="M448 309.6h0M454.2 308.3h0M462.3 305.9h0M469 304.3h0M452.2 313.4h0M460.3 311.9h0M475.9 307.7h0M468.4 310.4h0" stroke="#33638d" stroke-opacity="0.46"/><path d="M444.4 311.1h0M457.8 307.7h0M445.8 311.5h0M456.3 308.3h0M451.3 309.9h0M463.9 306.2h0M467.5 305.5h0M454.4 309.7h0M465.1 306.5h0M454.8 309.7h0M452.3 310.5h0M450.4 311.4h0M463.3 307.7h0M472.9 304.9h0M462.1 309h0M457.6 310.6h0M448.9 314.4h0M450.7 314.2h0M470.8 308.7h0M451.3 314.9h0M456 313.5h0M461 312h0M454.5 314.1h0M474 308.6h0M453 315.5h0M456.8 314.4h0M455.1 314.9h0M462.7 312.6h0M460.3 313.6h0M455 315.7h0M462.8 313.5h0M466.7 312.5h0M473.5 310.5h0M459.2 314.9h0M463.3 313.8h0M465.7 313h0" stroke="#33638d" stroke-opacity="0.46"/><path d="M477.6 297h0M482.3 291.4h0M363.3 291.8h0M487 295.6h0M357.9 297.3h0M484.1 300.1h0M491.5 298.6h0M478.9 303.2h0M486.8 304.4h0M495.5 302.1h0M346.6 304.9h0" stroke="#355e8d" stroke-opacity="0.46"/><path d="M479.7 296.9h0M474.3 299.3h0M485.2 293.6h0M487.7 298.1h0M357.1 293.7h0M483.1 301.6h0M492.9 299.7h0M489.3 304.1h0M497.9 301.8h0" stroke="#355e8d" stroke-opacity="0.46"/><path d="M476.5 298.3h0M486.1 297.2h0M481.3 302.5h0M490.9 300.4h0M486.9 304.5h0" stroke="#355e8d" stroke-opacity="0.46"/><path d="M475.8 298.9h0M483 298.5h0M488.4 300.9h0M481.9 305.1h0M495.1 301.7h0M488.3 305.9h0" stroke="#355e8d" stroke-opacity="0.46"/><path d="M478.4 298.2h0M485.7 299h0M482 303h0M490.8 302.9h0M486.4 306.6h0" stroke="#355e8d" stroke-opacity="0.46"/><path d="M475.8 300.7h0M480.7 299.2h0M488.5 300.9h0M482 305.2h0M493.5 302.8h0" stroke="#355e8d" stroke-opacity="0.46"/><path d="M478.3 299.9h0M484.6 300.4h0M493.7 303.1h0M483.4 306.4h0" stroke="#355e8d" stroke-opacity="0.46"/><path d="M477.9 301.7h0M484.5 302.5h0" stroke="#355e8d" stroke-opacity="0.46"/><path d="M487 302.1h0" stroke="#355e8d" stroke-opacity="0.46"/><path d="M484.8 305.2h0" stroke="#355e8d" stroke-opacity="0.46"/><path d="M390.5 258.1h0M396.2 253.5h0M449.8 258.3h0M389.8 252.2h0M378 261h0M457.1 254.9h0M377.1 255.2h0M371.3 261.2h0M463.9 258.7h0M470.2 263.8h0M476.2 265.1h0M358.4 265.9h0" stroke="#404688" stroke-opacity="0.46"/><path d="M453.5 260.3h0M390.2 255.1h0M377.5 258.1h0M460.6 255.9h0M467.1 261.9h0M370.8 258.3h0M473.3 264.3h0" stroke="#404688" stroke-opacity="0.46"/><path d="M406.7 319.2h0M384.7 326.1h0M394.3 323.6h0M351.1 324.8h0M400.7 322.7h0M346.4 330.6h0M406.3 324.4h0M384.4 331.7h0M412.3 323.6h0M393.3 329.7h0M417.4 325.7h0M390.2 334.4h0M398.9 331.8h0M405.8 329.9h0" stroke="#2e6d8e" stroke-opacity="0.46"/><path d="M408.7 319.7h0M396.8 323.7h0M390.1 326h0M403.6 322.2h0M387.2 331.6h0M409 324.9h0M345.4 326.3h0M398.2 330.4h0M414.7 326.3h0M392.6 335.1h0" stroke="#2e6d8e" stroke-opacity="0.46"/><path d="M397.2 324.1h0M405.3 323.2h0M389.5 332.4h0M410.1 326.2h0M395.2 331.4h0M400.2 331.6h0" stroke="#2e6d8e" stroke-opacity="0.46"/><path d="M399.1 324h0M407.7 323.3h0M413.7 325.1h0M387.6 334h0M401.4 331.7h0M408.4 329.6h0M395.6 334.1h0" stroke="#2e6d8e" stroke-opacity="0.46"/><path d="M401 324.9h0M408 325.5h0M402.8 331.5h0" stroke="#2e6d8e" stroke-opacity="0.46"/><path d="M402.7 326.3h0M412.1 326.8h0" stroke="#2e6d8e" stroke-opacity="0.46"/><path d="M378.9 267.1h0M457.1 262.8h0M467.1 270.9h0M463.8 267.2h0M372.8 270.3h0M371.8 264.1h0M360.1 274.9h0M479.1 269.8h0M359 268.9h0M353.8 277.1h0" stroke="#3d4c8a" stroke-opacity="0.46"/><path d="M378.4 264h0M460.5 263.9h0M372.3 267.1h0M359.5 271.8h0M482 269.3h0" stroke="#3d4c8a" stroke-opacity="0.46"/><path d="M407.6 247.6h0M423.6 245.4h0M395.9 250.6h0M437.7 248.8h0M413 244h0M433.2 245.7h0M446 250.9h0M389.5 249.4h0M395.4 245.1h0M453.6 252.8h0M376.7 252.5h0M453.6 246.1h0M370.4 255.6h0M375.9 247.2h0M460.6 248.8h0M467.1 254h0M369.5 250.2h0" stroke="#424086" stroke-opacity="0.46"/><path d="M428.5 245.4h0M407.4 244.8h0M441.9 249.7h0M395.7 247.8h0M449.9 251h0M389.2 246.7h0M376.3 249.8h0M457.2 247.9h0M369.9 252.9h0M463.9 251.2h0M470.2 255.7h0" stroke="#424086" stroke-opacity="0.46"/><path d="M373.3 273.5h0M470.2 273.1h0M479.2 280.1h0M476.3 274.6h0M361.3 281.3h0M485 281.4h0M355.1 283.4h0M490.7 286.4h0" stroke="#3b528b" stroke-opacity="0.46"/><path d="M473.3 273.7h0M360.7 278.1h0M482.1 279.5h0M487.8 283.7h0M354.4 280.2h0" stroke="#3b528b" stroke-opacity="0.46"/><path d="M359.2 335h0M353.5 336.8h0M369.6 332.7h0M364.2 334.6h0M376.4 330.9h0M347.4 335.1h0M381.4 332.3h0M369 338h0M358.6 343.6h0M378.2 340.1h0" stroke="#2c728e" stroke-opacity="0.46"/><path d="M357.1 336.2h0M349.1 339.1h0M365.7 334.7h0M378.9 331.6h0M371.8 334.4h0M384.6 334.8h0M361.9 343.5h0M368.7 341.6h0" stroke="#2c728e" stroke-opacity="0.46"/><path d="M359.7 337.6h0M366.6 336.2h0M375.8 335.7h0M382.1 334h0" stroke="#2c728e" stroke-opacity="0.46"/><path d="M378.8 335.3h0M372.1 337.7h0" stroke="#2c728e" stroke-opacity="0.46"/><path d="M362.6 288.2h0M356.4 290.1h0M493.5 289.5h0" stroke="#39578c" stroke-opacity="0.46"/><path d="M362 284.7h0M355.7 286.7h0" stroke="#39578c" stroke-opacity="0.46"/><path d="M407.2 242.1h0M423.4 239.8h0M412.6 238.6h0M428.3 239.8h0M437.6 242.7h0M395.1 242.5h0M406.8 236.9h0M388.9 244.1h0M446 244.5h0M394.6 237.4h0M437.5 237.1h0M388.3 239.1h0M446 238.7h0M375.6 244.7h0M453.6 240.1h0M369.1 247.7h0M374.8 239.8h0" stroke="#443983" stroke-opacity="0.46"/><path d="M407 239.5h0M433 240h0M441.9 243.4h0M394.9 239.9h0M388.6 241.6h0M449.9 244.5h0M441.8 237.8h0M449.9 238.7h0M375.2 242.2h0M457.2 241.7h0" stroke="#443983" stroke-opacity="0.46"/><path d="M388 236.7h0" stroke="#443983" stroke-opacity="0.46"/><path d="M423.2 234.7h0M406.6 234.5h0M412.3 233.6h0M428.2 234.5h0M394.4 235h0M406.1 227.6h0M437.5 232h0M432.9 229.8h0M387.8 234.3h0M393.7 228.2h0M445.9 233.4h0" stroke="#46337f" stroke-opacity="0.46"/><path d="M406.5 232.1h0M432.9 234.7h0M423 229.8h0M412.1 229h0M394.1 232.7h0M428 229.7h0M441.8 232.6h0M387.5 232h0" stroke="#46337f" stroke-opacity="0.46"/><path d="M406.3 229.8h0M393.9 230.4h0M387.2 229.8h0" stroke="#46337f" stroke-opacity="0.46"/><path d="M351.3 345.5h0M343.4 348.6h0" stroke="#2b768e" stroke-opacity="0.46"/><path d="M354.8 345.5h0M339.3 348.6h0" stroke="#2b768e" stroke-opacity="0.46"/><path d="M406 225.4h0M411.8 224.6h0M422.8 225.4h0M427.9 225.2h0M393.5 226h0M437.4 227.3h0M387 227.6h0M405.6 219.6h0" stroke="#472c7b" stroke-opacity="0.46"/><path d="M405.8 223.3h0M432.8 225.3h0M411.6 220.4h0M422.7 221.1h0M393.2 223.9h0M441.8 227.8h0" stroke="#472c7b" stroke-opacity="0.46"/><path d="M405.7 221.2h0" stroke="#472c7b" stroke-opacity="0.46"/><path d="M449.9 233.4h0M374.5 237.4h0M457.2 236.1h0M367.9 240.3h0M464 238.8h0M366.7 233.4h0M470.2 242.4h0M470.2 236.8h0M476 243.4h0M353.9 242.6h0M481.5 246.6h0M475.9 237.8h0" stroke="#46337f" stroke-opacity="0.51"/><path d="M453.6 234.6h0M374.1 235.1h0M460.7 236.8h0M367.5 238h0M467.1 241h0M467.1 235.5h0M473.1 242.8h0M353.5 240.3h0M473.1 237.2h0" stroke="#46337f" stroke-opacity="0.51"/><path d="M373.8 232.8h0M367.1 235.7h0M353.1 238h0" stroke="#46337f" stroke-opacity="0.51"/><path d="M471.5 311.3h0M453 317h0M482.4 308.1h0M342.6 314.3h0M461.5 314.9h0M476.5 310.5h0M466.9 314.8h0M457.3 319.8h0M473.4 316.1h0M487.6 311.7h0M481.8 314h0M463.4 319.8h0M469.5 319.8h0M478 318.5h0M492.1 314.3h0M462.9 324.8h0M484.4 318.4h0M333.3 323.4h0M473.3 322.9h0" stroke="#33638d" stroke-opacity="0.51"/><path d="M473.9 310.7h0M456.9 316h0M465.5 313.9h0M483.3 309.1h0M341.7 310.6h0M470.3 315.4h0M461.8 318.2h0M479.1 313.5h0M489.4 313.1h0M475.5 317.8h0M467.5 320.6h0M461.6 323.2h0M484 316.7h0M494.6 315.8h0" stroke="#33638d" stroke-opacity="0.51"/><path d="M457 316h0M469.6 312.2h0M478.4 309.6h0M462.8 315.5h0M486.6 310.1h0M474.6 314.3h0M469.4 317.5h0M459 321h0M479.8 314.8h0M464.3 321.4h0M473.9 319.8h0M486 316.1h0M469.1 323h0M492.6 316.3h0" stroke="#33638d" stroke-opacity="0.51"/><path d="M453.9 317.1h0M459.5 315.9h0M472.4 312h0M466.1 314.3h0M481.4 310h0M477.2 314.3h0M463.2 319.5h0M469.9 318.3h0M487.4 313.8h0M482 317.3h0M476.1 319.7h0M467 323.2h0" stroke="#33638d" stroke-opacity="0.51"/><path d="M453.4 317.8h0M458.5 316.5h0M464 315.2h0M475.3 312h0M469.5 314.5h0M484.7 310.9h0M473.9 316.8h0M463.8 320.4h0M481.5 315.8h0M469.8 320.9h0M488 315.5h0M478.3 319.8h0M464.9 325.4h0" stroke="#33638d" stroke-opacity="0.51"/><path d="M455.3 317.3h0M468.7 313.9h0M462.3 316.3h0M478 312h0M485.6 312.5h0M459.3 321.3h0M467.9 319.1h0M473.4 318.4h0M479.8 317.4h0M490.1 314.9h0M463.9 323.6h0M471.2 322.9h0" stroke="#33638d" stroke-opacity="0.51"/><path d="M456 317.5h0M471.2 313.4h0M461.3 316.7h0M480 311.4h0M467.1 317.8h0M476.1 316.6h0M459.7 321.8h0M485.4 314.5h0M471.7 319.9h0M465.9 322.7h0M482.4 318.9h0M490.5 316.8h0M477.4 321.5h0" stroke="#33638d" stroke-opacity="0.51"/><path d="M457 317.8h0M473.4 312.9h0M464.9 315.8h0M482.8 311.8h0M461.2 320.4h0M477.9 315.6h0M472.3 318.5h0M467.7 321.1h0M486.5 317.8h0" stroke="#33638d" stroke-opacity="0.51"/><path d="M458.9 317.5h0M471.7 314h0M466 316.7h0M480.9 312.6h0M460.1 322.4h0M477.5 317.1h0M471.6 319.5h0M465.9 322.8h0M488.5 317.3h0" stroke="#33638d" stroke-opacity="0.51"/><path d="M458.9 317.5h0M455 318.9h0M460.6 317.4h0M455.8 319.1h0M476.1 312.9h0M457.4 318.8h0M463.5 317.1h0M457.6 318.9h0M463.8 317.3h0M468.2 316.1h0M472.5 314.8h0M466.2 316.8h0M459.6 319h0M461.9 318.3h0M459.8 319.1h0M464.3 317.8h0M470.7 315.9h0M468.8 316.7h0M475.3 315.2h0M460.7 319.8h0M458.5 320.6h0M471.4 316.7h0M460.9 320h0M465.3 318.9h0M483.7 313.3h0M465.6 319.2h0M468 319.1h0M465.9 319.8h0M461.9 321.3h0M459.9 322.1h0M483.5 315.1h0M479.5 316.5h0M465.4 321.1h0M462.3 322.1h0M463.5 322.1h0M461.6 323.2h0M463.7 323h0M470 321.5h0M480.2 318.6h0M464.9 323.6h0M468 322.8h0M472.1 321.6h0M475.3 321.3h0M474.3 321.6h0M476.3 321.2h0M464.9 324.9h0M471.2 323.6h0M467 324.9h0M467 325h0" stroke="#33638d" stroke-opacity="0.51"/><path d="M427.8 221h0M393 221.9h0M386.7 225.5h0M445.9 228.6h0M437.4 223h0M373.5 230.6h0M453.7 229.7h0M449.9 224.1h0M372.6 224.6h0M460.7 231.7h0M366.4 231.2h0M365.4 225.2h0M467.1 230.6h0M352.6 235.8h0" stroke="#472c7b" stroke-opacity="0.51"/><path d="M432.7 221.1h0M386.5 223.4h0M441.8 223.5h0M449.9 228.6h0M373.2 228.4h0M457.2 231.1h0M453.7 225.2h0M464 233.5h0M366 229h0M460.7 227h0M470.1 231.8h0" stroke="#472c7b" stroke-opacity="0.51"/><path d="M386.3 221.7h0M445.9 224.1h0M372.8 226.3h0M457.3 226.4h0M365.7 226.9h0M464 228.7h0" stroke="#472c7b" stroke-opacity="0.51"/><path d="M438 321.7h0M431.1 323.9h0M446 319.3h0M423.5 327h0M452.4 318.5h0M435.2 326.6h0M444.1 323.9h0M429.4 328.6h0M449.3 323h0M456.7 321.6h0M335.1 331.3h0M440.4 328.1h0M453.3 326.1h0M434.2 332.1h0M446.1 328.7h0M461.8 324.3h0M458.2 327.7h0M443 332.6h0" stroke="#31678e" stroke-opacity="0.51"/><path d="M444.5 319.8h0M427.2 325.4h0M436.6 322.9h0M450.8 318.5h0M432.6 326.4h0M455.6 320h0M442.2 324.3h0M448.7 323h0M425.6 330.4h0M438.2 328.4h0M430.6 331.1h0M454 324.9h0M445.8 327.7h0M459.4 323.5h0M334.2 327.3h0M435.2 333h0M442 332.1h0M451.7 329.4h0" stroke="#31678e" stroke-opacity="0.51"/><path d="M444.3 319.9h0M449.2 318.6h0M433.3 324h0M439.3 322.6h0M425.6 327.1h0M454.2 320.4h0M443.8 325h0M448.9 323.7h0M430.2 329.8h0M436 328.3h0M458.2 323.5h0M441 330.2h0M446.7 329h0M454.3 326.9h0M434.1 333.5h0M462.8 325.3h0" stroke="#31678e" stroke-opacity="0.51"/><path d="M448.9 318.7h0M440.8 321.2h0M429.3 325.6h0M435 323.9h0M453.9 318.7h0M424.9 328.7h0M446.7 323.5h0M439.4 326.8h0M432.5 329.3h0M452 323.3h0M457.5 322.4h0M444.1 328.3h0M429.6 333.5h0M449.8 327.9h0M437.4 332h0M456.3 327.2h0M462.8 325.7h0" stroke="#31678e" stroke-opacity="0.51"/><path d="M446.7 319.8h0M442 321.7h0M453.6 318.6h0M428 326.8h0M434.6 325h0M450.7 323h0M440.8 327.1h0M446.4 325.9h0M455.6 323.4h0M432.9 331.1h0M460.8 324.9h0M452 327.8h0M438.7 332h0M444.1 331h0" stroke="#31678e" stroke-opacity="0.51"/><path d="M448 319.5h0M438.8 323.1h0M430.4 326.4h0M453.1 320.2h0M444 324.4h0M449 324.5h0M428.3 331h0M434.7 329.1h0M457.8 322.8h0M439.7 329.3h0M446.2 328.8h0M454.4 326.4h0M433 333.9h0M460.5 327.1h0" stroke="#31678e" stroke-opacity="0.51"/><path d="M443.7 320.9h0M450 319.3h0M436.7 324.5h0M431 326.3h0M456.4 320.4h0M447.6 323.9h0M442.1 326h0M435.2 329.8h0M430.1 332.6h0M454.2 325.1h0M459.6 324.5h0M446.6 329h0M440.7 330.9h0M451.7 329.4h0" stroke="#31678e" stroke-opacity="0.51"/><path d="M446.3 320.7h0M452 319.3h0M441.3 322.6h0M433.5 325.8h0M427.4 328.2h0M438.6 327.2h0M457 321.9h0M449.7 324.5h0M444.9 326h0M432.3 331.3h0M454.4 326.2h0M441.2 331.5h0M460.8 325.4h0M448.9 329.5h0M436.3 334.5h0" stroke="#31678e" stroke-opacity="0.51"/><path d="M445.7 320.8h0M450.9 320h0M441 323.3h0M434.7 326.6h0M455.8 321.1h0M427.9 329.9h0M447.5 325.5h0M439.2 328.5h0M453.2 325.7h0M432 332.9h0M458.6 325.1h0M444.2 329.9h0M436.9 333.5h0M449.7 329.9h0" stroke="#31678e" stroke-opacity="0.51"/><path d="M444.3 321.4h0M448.4 320.2h0M449.4 320h0M450.4 320h0M446.9 321.2h0M447.2 321.1h0M444.6 322h0M443 322.8h0M449.9 320.7h0M452.7 320.1h0M446.7 322h0M440 324.1h0M446 322.2h0M445.3 322.5h0M448.1 321.7h0M448.8 321.6h0M436.6 325.4h0M451.6 320.8h0M442.5 323.6h0M438.5 325h0M450.3 321.5h0M450.7 321.5h0M447.4 322.5h0M447.7 322.5h0M438.9 325.3h0M445.1 323.4h0M454.7 320.6h0M449.5 322.2h0M451.8 321.6h0M441.6 324.8h0M440.5 325.3h0M452.4 321.7h0M446.2 323.6h0M452.5 321.7h0M447.9 323.2h0M445.8 323.8h0M437.5 326.4h0M450.9 322.3h0M431.7 328.2h0M436.7 326.9h0M454.4 321.4h0M449.8 323h0M453.5 322h0M440.4 326.1h0M447.4 324h0M455 321.7h0M446 324.5h0M443.2 325.5h0M451.1 323.1h0M445.2 324.9h0M433.8 328.6h0M451.5 323.2h0M453 322.8h0M449.9 323.7h0M453.2 322.8h0M445.4 325.3h0M454.5 322.5h0M447.1 324.8h0M446.9 324.9h0M446.5 325.1h0M442.4 326.4h0M448.1 324.6h0M448.5 324.5h0M449.3 324.5h0M454.9 322.8h0M441.4 327.1h0M451.4 324h0M444.9 326.1h0M443.9 326.4h0M452.9 323.7h0M450.2 324.6h0M455.3 323h0M447.8 325.4h0M451.7 324.2h0M446.8 325.7h0M450.4 324.6h0M448.5 325.3h0M450.5 324.7h0M444.3 326.7h0M453.2 324h0M437 329h0M449.2 325.3h0M443.5 327.1h0M442.8 327.4h0M453.4 324.1h0M446.3 326.4h0M453.5 324.2h0M447.6 326.2h0M447.4 326.2h0M451.3 325h0M447.4 326.2h0M450 325.4h0M448.1 326.1h0M448.2 326h0M442.6 327.8h0M451.4 325.1h0M448.4 326h0M437.5 329.4h0M448.6 326h0M455.9 323.8h0M445.7 326.9h0M450.2 325.5h0M455.9 323.8h0M453.7 324.5h0M458 323.1h0M446.5 326.7h0M446.4 326.8h0M441.4 328.4h0M449 326h0M449 326.1h0M451.6 325.3h0M449.1 326.1h0M444.9 327.4h0M451.7 325.3h0M445.5 327.3h0M434.6 330.7h0M449.3 326.1h0M446.1 327.1h0M451.8 325.5h0M444.7 327.7h0M449.6 326.3h0M443.6 328.1h0M439.1 329.6h0M449.7 326.3h0M449.7 326.4h0M456.2 324.4h0M452 325.7h0M457.3 324.1h0M449.8 326.5h0M441.9 328.9h0M441.4 329.2h0M452.1 325.9h0M436.9 330.6h0M449.9 326.6h0M455.3 324.9h0M450 326.7h0M450 326.8h0M446.3 327.9h0M443.6 328.8h0M451.1 326.5h0M445.8 328.1h0M453.2 325.8h0M459.5 323.9h0M451.1 326.6h0M455.4 325.2h0M445.3 328.4h0M457.5 324.7h0M443.1 329.2h0M445.8 328.3h0M451.2 326.7h0M450.1 327.1h0M444.8 328.9h0M450.1 327.3h0M438.7 330.8h0M443.8 329.3h0M450.1 327.3h0M455.4 325.7h0M452.3 326.8h0M436.6 331.6h0M450.1 327.4h0M444.9 329h0M450 327.6h0M457.6 325.2h0M445 329.1h0M450 327.6h0M452.2 326.9h0M441.7 330.3h0M449.9 327.7h0M442.8 329.9h0M452.2 327.1h0M442.9 330h0M439.5 331.1h0M449.7 328h0M452.2 327.3h0M456.5 326h0M452.1 327.5h0M445.5 329.6h0M447 329.1h0M445.6 329.6h0M447.3 329.1h0M443.2 330.4h0M447.4 329.1h0M444.4 330h0M445.7 329.6h0M447.5 329.1h0M448.9 328.7h0M447.6 329.1h0M448.8 328.7h0M456.5 326.4h0M447.9 329h0M448.5 328.9h0M454.3 327.1h0M448.1 329h0M448.3 328.9h0M448.3 329h0M451.9 327.9h0M441 331.3h0M450.5 328.4h0M450.5 328.4h0M458.6 326h0M450.2 328.7h0M446.4 329.8h0M446.4 329.8h0M450.2 328.7h0M451.7 328.2h0M456.4 326.8h0M454.2 327.5h0M442.4 331.1h0M443.7 330.8h0M451.7 328.3h0M436.6 333h0M438.9 332.3h0M458.6 326.2h0M442.5 331.2h0M431.9 334.5h0M449.9 328.9h0M445.1 330.4h0M449.8 329h0M454.1 327.7h0M449.6 329.1h0M443.9 330.9h0M439 332.4h0M445.6 330.6h0M460.7 325.9h0M453.9 328.2h0M452.4 328.7h0M453.8 328.3h0M440.5 332.4h0M446.2 330.7h0M458.5 326.9h0M456.2 327.6h0M446.7 330.7h0M437.1 333.7h0M452.2 329h0M447 330.7h0M440.8 332.6h0M447.3 330.6h0M447.3 330.6h0M445.1 331.3h0M449.6 329.9h0M432.4 335.3h0M447.8 330.6h0M453.4 328.8h0M458.3 327.3h0M448 330.5h0M443.7 331.9h0M438.5 333.5h0M456 328.1h0M448.9 330.3h0M448.8 330.3h0M448.5 330.4h0M434.9 334.6h0M434.9 334.6h0M455.9 328.2h0M442.4 332.4h0M445.7 331.4h0M444 332h0M451.1 329.9h0M432.7 335.7h0M450.8 330.1h0M460.4 327.2h0M450.6 330.3h0M454.2 329.2h0" stroke="#31678e" stroke-opacity="0.51"/><path d="M345.8 301.3h0M490.6 305.5h0M499.7 304.1h0M485.5 308.7h0M340.9 306.9h0M495.3 308.6h0M505.3 307.5h0M491.4 312.4h0M500.2 311.9h0M505 313.2h0" stroke="#355e8d" stroke-opacity="0.51"/><path d="M493.3 305.7h0M487.7 308.2h0M503.1 305.5h0M340.1 303.4h0M499.3 309.6h0M493.4 311.7h0M504.3 310.6h0M498.8 314.7h0M509.2 312.1h0" stroke="#355e8d" stroke-opacity="0.51"/><path d="M497.9 305h0M492.2 307.5h0M503.3 308.2h0M497.3 310.3h0M508.4 309.4h0M496.7 315.3h0M502.9 313.7h0" stroke="#355e8d" stroke-opacity="0.51"/><path d="M496 305.8h0M490.3 308.4h0M501.1 306.3h0M495.3 311h0M502.2 311.3h0M507.1 312.6h0" stroke="#355e8d" stroke-opacity="0.51"/><path d="M494.1 306.7h0M488.5 309.2h0M499.2 307.1h0M494.1 313.7h0M506.3 310h0M500.8 314.2h0" stroke="#355e8d" stroke-opacity="0.51"/><path d="M497.2 307.8h0M491.4 310.2h0M496.1 313.1h0" stroke="#355e8d" stroke-opacity="0.51"/><path d="M493.4 309.4h0M501.3 308.9h0" stroke="#355e8d" stroke-opacity="0.51"/><path d="M489.5 310.9h0M498.2 312.5h0" stroke="#355e8d" stroke-opacity="0.51"/><path d="M496.4 293.2h0M345 297.8h0M501.8 296.7h0M339.3 299.9h0M507 299.6h0" stroke="#38578c" stroke-opacity="0.51"/><path d="M344.3 294.4h0M499 292.2h0M504.4 296.6h0M338.5 296.6h0" stroke="#38578c" stroke-opacity="0.51"/><path d="M460.6 242.4h0M368.7 245.1h0M467.1 247.1h0M473.2 249.1h0M355.3 249.9h0M354.4 245h0M481.6 253.1h0M349.2 254.7h0M478.8 246.7h0M348.2 249.7h0M487 256.3h0" stroke="#443a83" stroke-opacity="0.51"/><path d="M463.9 244.6h0M368.3 242.7h0M470.2 248.6h0M476.1 249.7h0M354.9 247.4h0M484.3 254.6h0M348.7 252.2h0" stroke="#443a83" stroke-opacity="0.51"/><path d="M338.2 344h0M364.9 345h0M384.1 339.2h0M389.9 338.4h0M374.5 343.7h0M379.9 342.9h0M370.2 349.2h0M334 348h0M394.5 341.9h0M385.9 344.7h0M382.3 348.6h0M394.5 346.9h0M388.8 349.3h0M373.2 354.1h0" stroke="#2c728e" stroke-opacity="0.51"/><path d="M386.8 340.1h0M337.1 339.7h0M371.2 345.2h0M380.7 342.4h0M363.6 348.7h0M391.7 342.6h0M333 343.7h0M396.9 343.9h0M385.3 347.5h0M379.4 350.8h0M369.7 353.9h0M391.7 348.3h0" stroke="#2c728e" stroke-opacity="0.51"/><path d="M373.6 344.9h0M367 347.4h0M388.9 341.1h0M382.9 344.6h0" stroke="#2c728e" stroke-opacity="0.51"/><path d="M376.8 344.2h0" stroke="#2c728e" stroke-opacity="0.51"/><path d="M405.4 218h0M411.3 216.5h0M422.5 217.2h0M392.9 220.2h0M427.7 217h0M386.1 220.1h0M437.3 218.9h0M405 212h0M392.2 214h0M432.6 213.4h0M445.9 220h0M385.4 213.9h0M441.7 215.6h0M372.3 223h0M453.7 221h0M449.9 216.2h0M371.4 216.6h0M365.1 223.5h0M460.7 222.8h0M364.3 218.7h0M467.1 226.1h0" stroke="#482576" stroke-opacity="0.51"/><path d="M405.3 216.5h0M392.7 218.6h0M411.1 212.7h0M432.6 217.1h0M422.4 213.4h0M427.6 213.3h0M385.9 218.5h0M441.7 219.4h0M392.1 212.5h0M437.3 215.1h0M449.9 220h0M445.9 216.2h0M372.1 221.3h0M457.3 222.2h0M364.9 221.9h0M464 224.3h0" stroke="#482576" stroke-opacity="0.51"/><path d="M405.2 214.9h0M392.6 217.1h0M385.7 216.9h0M371.9 219.7h0M453.7 217.2h0M364.6 220.3h0M460.7 218.9h0" stroke="#482576" stroke-opacity="0.51"/><path d="M405.1 213.4h0M392.4 215.5h0M385.6 215.4h0M371.6 218.1h0M457.3 218.3h0" stroke="#482576" stroke-opacity="0.51"/><path d="M410.4 330.7h0M403.6 332.9h0M415.3 330.1h0M392.7 337.8h0M422.6 329h0M398 338.9h0M336.1 335.4h0M408.6 336.6h0M413.7 335.3h0M423 334.1h0M427.7 332.6h0M399.7 343.7h0M418 338.4h0M405.3 342.6h0M332 339.4h0M413.2 340.7h0" stroke="#2f6c8e" stroke-opacity="0.51"/><path d="M412.8 330.6h0M405.9 333.3h0M420 330h0M401 336h0M395.4 338.4h0M416.3 334.1h0M410.6 336.2h0M425.9 332.1h0M407.8 341.4h0M422.9 336.9h0M430.8 334.8h0M402.9 344.5h0M416.6 340.4h0" stroke="#2f6c8e" stroke-opacity="0.51"/><path d="M408.7 332.1h0M413.9 330.8h0M403.6 335.9h0M423.4 330.2h0M397.3 339.4h0M418.7 333.4h0M408 338.7h0M415.3 338.4h0M427.5 335h0M423.1 338.8h0" stroke="#2f6c8e" stroke-opacity="0.51"/><path d="M416.3 330.5h0M411.1 332.3h0M406.1 336.1h0M423.6 332.1h0M400 339.7h0M415.6 336.1h0M421.1 337.4h0M428.4 335.5h0M410.7 341.7h0" stroke="#2f6c8e" stroke-opacity="0.51"/><path d="M417.6 330.1h0M411.3 334.7h0M405.4 337.1h0M425.3 332.7h0M418.1 335.1h0M411.4 341.5h0M430.1 336.1h0M425.3 337.7h0M418 340.2h0" stroke="#2f6c8e" stroke-opacity="0.51"/><path d="M418.4 331.6h0M413.1 335.6h0M402.7 339.1h0M425.3 336.1h0M420.5 337.7h0M430.3 336.5h0" stroke="#2f6c8e" stroke-opacity="0.51"/><path d="M420.8 331.1h0M423.6 336.9h0M418.7 338.6h0" stroke="#2f6c8e" stroke-opacity="0.51"/><path d="M421.1 333.5h0M426 336.3h0" stroke="#2f6c8e" stroke-opacity="0.51"/><path d="M420.6 334.9h0M427.9 337.2h0" stroke="#2f6c8e" stroke-opacity="0.51"/><path d="M428 337.3h0" stroke="#2f6c8e" stroke-opacity="0.51"/><path d="M349.6 349.6h0M341.6 353.3h0M335.1 352.5h0M337.2 357.3h0M360 351.1h0M340.2 363.1h0M352.1 359.9h0M363 356.8h0" stroke="#2a778e" stroke-opacity="0.51"/><path d="M346.6 350.9h0M353.1 350.4h0M344.4 363.2h0" stroke="#2a778e" stroke-opacity="0.51"/><path d="M345.2 355.5h0M356.4 352.9h0M348.3 362h0" stroke="#2a778e" stroke-opacity="0.51"/><path d="M473.2 256.2h0M356.8 257.7h0M481.8 260.7h0M355.8 252.4h0M478.9 253.4h0M350.3 259.9h0" stroke="#424086" stroke-opacity="0.51"/><path d="M476.1 256.9h0M356.3 255h0M484.5 262.2h0M349.7 257.3h0" stroke="#424086" stroke-opacity="0.51"/><path d="M357.9 263.1h0M479 261h0M352 268.2h0M350.8 262.6h0M487.2 264.1h0M492.6 268.8h0M340.1 275.8h0" stroke="#404587" stroke-opacity="0.51"/><path d="M357.3 260.4h0M351.4 265.4h0M489.9 266.2h0M495.2 271.7h0" stroke="#404587" stroke-opacity="0.51"/><path d="M353.1 274h0M484.8 271h0M490.3 275.5h0M495.8 281.5h0M341.4 281.7h0M501 284.9h0" stroke="#3d4c8a" stroke-opacity="0.51"/><path d="M352.5 271.1h0M487.5 273.1h0M493 278.3h0M498.2 280.9h0M340.8 278.7h0" stroke="#3d4c8a" stroke-opacity="0.51"/><path d="M404.9 210.5h0M410.9 209.2h0M422.3 209.8h0M391.9 211h0M427.5 209.8h0M404.5 204.9h0M432.5 209.9h0M385.2 212.4h0M437.2 211.5h0M391.4 205.3h0M384.5 206.5h0M445.9 212.6h0M441.7 208.6h0M437.2 205.6h0M371.2 215h0M453.7 213.6h0M449.9 209.3h0M364.1 217.1h0M370.3 209h0" stroke="#481e70" stroke-opacity="0.51"/><path d="M404.8 209.1h0M410.7 205.7h0M391.8 209.6h0M422.2 206.4h0M427.5 206.4h0M385 210.9h0M441.7 212h0M432.5 206.6h0M437.2 208.2h0M449.9 212.7h0M445.9 209.2h0M370.9 213.5h0M457.3 214.7h0M363.8 215.5h0" stroke="#481e70" stroke-opacity="0.51"/><path d="M404.7 207.7h0M410.7 204.4h0M391.7 208.1h0M422.1 205.1h0M427.4 205.1h0M384.9 209.4h0M432.4 205.3h0M437.2 206.9h0M445.9 207.9h0M370.7 211.9h0" stroke="#481e70" stroke-opacity="0.51"/><path d="M404.6 206.3h0M391.5 206.7h0M384.7 208h0M441.7 207.3h0M370.5 210.4h0M449.9 208.1h0" stroke="#481e70" stroke-opacity="0.51"/><path d="M343.5 291.1h0M342.1 284.7h0M337.8 293.3h0" stroke="#3b528b" stroke-opacity="0.51"/><path d="M342.8 287.9h0M337 290.2h0" stroke="#3b528b" stroke-opacity="0.51"/><path d="M404.4 203.6h0M410.6 203.1h0M422.1 203.8h0M427.4 203.8h0M391.2 203.9h0M432.4 204h0M404.1 198.4h0M410.3 198h0M384.4 205.1h0M421.9 198.9h0M390.7 198.5h0M441.7 206.1h0M427.2 197.8h0M437.1 201.9h0M432.3 198h0" stroke="#48186a" stroke-opacity="0.51"/><path d="M404.3 202.3h0M410.5 201.8h0M422 202.6h0M427.4 202.6h0M391.1 202.6h0M404 197.1h0M432.4 202.8h0M410.2 196.7h0M384.2 203.7h0M437.2 204.3h0M421.8 196.5h0M445.9 206.7h0M437.1 198.4h0M441.6 201.2h0" stroke="#48186a" stroke-opacity="0.51"/><path d="M404.2 201h0M410.4 200.5h0M422 201.3h0M427.3 201.4h0M391 201.2h0M432.4 201.6h0M384 202.3h0M437.2 203.1h0M445.9 205.4h0" stroke="#48186a" stroke-opacity="0.51"/><path d="M404.2 199.7h0M410.4 199.2h0M422 200.1h0M427.3 200.1h0M390.8 199.9h0M432.4 200.4h0M383.9 201h0M441.7 204.8h0" stroke="#48186a" stroke-opacity="0.51"/><path d="M421.9 197.7h0M427.3 199h0M432.3 199.2h0M437.1 200.7h0M441.7 203.6h0" stroke="#48186a" stroke-opacity="0.51"/><path d="M437.1 199.6h0M441.6 202.4h0" stroke="#48186a" stroke-opacity="0.51"/><path d="M445.9 204.2h0" stroke="#48186a" stroke-opacity="0.51"/><path d="M403.9 195.9h0M410.1 195.5h0M421.8 195.3h0M427.2 196.6h0M432.3 196.9h0" stroke="#471265" stroke-opacity="0.51"/><path d="M403.8 194.7h0M410.1 194.3h0M421.8 194.2h0M427.2 195.5h0M432.3 195.8h0" stroke="#471265" stroke-opacity="0.51"/><path d="M410 193.1h0M421.7 193.1h0M427.2 194.4h0" stroke="#471265" stroke-opacity="0.51"/><path d="M421.7 191.9h0M427.1 193.3h0" stroke="#471265" stroke-opacity="0.51"/><path d="M421.7 190.8h0" stroke="#471265" stroke-opacity="0.51"/><path d="M432.3 194.7h0M427.1 192.2h0M437.1 197.3h0M445.9 198.6h0M437 192h0M441.6 194.7h0M453.7 200.8h0M449.9 195.7h0M460.7 202.5h0M393.1 197.5h0M457.3 196.7h0M467 204.1h0M463.9 198.7h0M382.7 202h0" stroke="#471063" stroke-opacity="0.55"/><path d="M432.2 193.6h0M427.1 191.1h0M437.1 196.2h0M437 191h0M445.9 197.5h0M441.6 193.6h0M453.7 199.8h0M449.9 193.7h0M460.7 201.4h0M457.3 195.8h0M467 203h0" stroke="#471063" stroke-opacity="0.55"/><path d="M432.2 192.5h0M427.1 190h0M437.1 195.1h0M441.6 197.9h0M449.9 199.9h0M441.6 192.6h0M445.9 195.4h0M457.3 201.9h0M453.7 196.7h0M464 203.7h0M460.7 197.4h0" stroke="#471063" stroke-opacity="0.55"/><path d="M432.2 191.5h0M437.1 194.1h0M441.6 196.8h0M449.9 198.8h0M441.6 191.6h0M457.3 200.8h0M449.9 192.8h0M457.3 194.8h0M464 202.7h0M463.9 197.7h0" stroke="#471063" stroke-opacity="0.55"/><path d="M432.2 190.4h0M437.1 193h0M441.6 195.7h0M449.9 197.8h0M445.9 192.4h0M457.3 199.7h0M453.7 193.8h0M463.9 201.6h0M460.7 195.5h0" stroke="#471063" stroke-opacity="0.55"/><path d="M445.9 196.4h0M453.7 198.7h0M460.7 200.4h0M467 202h0" stroke="#471063" stroke-opacity="0.55"/><path d="M445.9 194.4h0M453.7 197.7h0M460.7 199.4h0" stroke="#471063" stroke-opacity="0.55"/><path d="M445.9 193.4h0M449.9 196.7h0M457.3 198.7h0M463.9 200.6h0" stroke="#471063" stroke-opacity="0.55"/><path d="M449.9 194.7h0M457.3 197.7h0M463.9 199.6h0" stroke="#471063" stroke-opacity="0.55"/><path d="M453.7 195.7h0M453.7 194.7h0M460.7 198.4h0M460.7 196.5h0" stroke="#471063" stroke-opacity="0.55"/><path d="M359.6 358.6h0M366.8 357.3h0M349.6 363.8h0M329.5 365.5h0M357.9 364h0M370.5 360.6h0M375.5 362.8h0M368.7 365.4h0M327.3 370.7h0M380.3 363.9h0M354.8 372.5h0" stroke="#2a768e" stroke-opacity="0.55"/><path d="M356.1 360.7h0M367.8 357.8h0M346.1 367.1h0M328.4 360.9h0M354.4 366.2h0M374.4 360.6h0M360.6 366.1h0M365.5 367.5h0M326.3 366.1h0" stroke="#2a768e" stroke-opacity="0.55"/><path d="M360.8 360.1h0M371.5 357.7h0M356.8 367.1h0M365.4 367.2h0M372.6 365h0" stroke="#2a768e" stroke-opacity="0.55"/><path d="M364.8 360.8h0" stroke="#2a768e" stroke-opacity="0.55"/><path d="M449.6 330.8h0M440.5 333.6h0M462.6 326.8h0M455.4 329h0M331 335.4h0M434.8 336.2h0M445.4 335.4h0M467.9 328.8h0M460.6 332h0M454 334.3h0M439 339.2h0M444.2 340.3h0M465.7 333.7h0M449.2 339.4h0M459.3 337.2h0M471.2 333.7h0M454.8 339.8h0" stroke="#31688e" stroke-opacity="0.55"/><path d="M439.2 334h0M455.4 329.1h0M445.3 332.2h0M464.8 326.3h0M450.2 331.3h0M330.1 331.4h0M460.7 330.6h0M437 338.6h0M443.6 337.1h0M455.7 334.1h0M469.4 330h0M448.7 336.5h0M461.3 335.7h0M441.6 342.1h0M467.3 334.4h0M447.2 341.5h0M453.3 339.6h0M473.1 334.1h0M458.7 340.4h0" stroke="#31688e" stroke-opacity="0.55"/><path d="M440.7 333.7h0M457.9 328.4h0M445.7 332.2h0M450.9 330.9h0M434.9 336.3h0M464.4 327.4h0M456.4 333.6h0M441.5 338.6h0M448.8 336.4h0M469 330.7h0M461.9 333h0M454.1 338.4h0M445.4 341.8h0M461.1 337.9h0M474.2 334.1h0M467.5 336.7h0" stroke="#31688e" stroke-opacity="0.55"/><path d="M453.7 329.7h0M442.2 333.3h0M462.5 327.1h0M437.1 335.1h0M447.2 332.2h0M459.3 330.9h0M467.8 329.2h0M451.4 334.7h0M443.6 338.7h0M464.2 333h0M456.6 335.4h0M448.7 339.6h0M470.2 333.6h0M461.6 337.5h0M475.3 334h0M444.9 343.5h0M455.4 340.4h0" stroke="#31688e" stroke-opacity="0.55"/><path d="M453.6 329.9h0M446.1 332.2h0M460.1 328h0M441.4 334h0M436.6 336.1h0M466.4 327.6h0M451.2 335.6h0M458.5 334h0M441.2 339.5h0M446.7 338.4h0M463.8 333.4h0M470.8 331.3h0M455.7 338.5h0M445.7 343.4h0M467 337.1h0M451.9 341.8h0M472.7 336.1h0" stroke="#31688e" stroke-opacity="0.55"/><path d="M444.4 332.9h0M452.8 330.5h0M438.7 335h0M459.8 328.6h0M465.9 328.7h0M449.5 334.7h0M457.1 333h0M444.3 338.7h0M462.6 334.6h0M468.6 332.9h0M456.1 338.3h0M449.1 341.1h0" stroke="#31688e" stroke-opacity="0.55"/><path d="M446.8 332.2h0M457.4 329.2h0M452.5 330.8h0M462.2 327.9h0M439.3 335.3h0M444.2 337.1h0M467.2 330.2h0M451.8 336.2h0M457.6 334.7h0M442.9 342h0M464 335.5h0M449.3 341h0M472 334.1h0M456.1 340.9h0" stroke="#31688e" stroke-opacity="0.55"/><path d="M444.6 333h0M449.6 331.5h0M457.2 329.4h0M439.5 335.4h0M464.2 328h0M454.7 334.7h0M461.4 333.5h0M445.3 338.6h0M468.4 331.6h0M450.3 339.1h0M465.3 336.5h0M457.1 339.5h0" stroke="#31688e" stroke-opacity="0.55"/><path d="M447.7 332.1h0M455.7 330h0M461.9 328.6h0M441.4 335h0M453.2 334.7h0M446.6 336.9h0M466.3 331.6h0M441.6 340.4h0M459.9 334.8h0M450.7 340.6h0M465.2 336.6h0M470.5 335.9h0" stroke="#31688e" stroke-opacity="0.55"/><path d="M447.9 332h0M448.5 331.9h0M449.2 331.7h0M443.3 333.6h0M452.2 331h0M451.6 331.4h0M455.5 330.2h0M444.4 333.8h0M450.5 332h0M459.5 329.2h0M444.9 333.8h0M437 336.4h0M443.1 334.5h0M454.8 330.9h0M446 333.8h0M446.1 333.8h0M443.8 334.6h0M451.7 332.1h0M454.2 331.4h0M459 330h0M442.1 335.2h0M446.9 333.7h0M454.1 331.5h0M450.9 332.6h0M447.4 333.7h0M457.3 330.6h0M453.7 331.8h0M450.2 332.9h0M448.2 333.5h0M449.4 333.2h0M449 333.3h0M461.4 329.5h0M439.5 336.4h0M453.2 332.1h0M457 331h0M456.8 331.2h0M441.6 336h0M438.4 337h0M443.7 335.4h0M463.5 329.4h0M451 333.3h0M440.3 336.6h0M444.7 335.4h0M465.8 329h0M455.7 332.2h0M442.9 336.2h0M455.6 332.3h0M437.9 337.9h0M446 335.4h0M446.3 335.3h0M463.1 330.2h0M452.3 333.5h0M452 333.7h0M455 332.8h0M447.2 335.2h0M458.5 331.8h0M448.2 335h0M450.6 334.3h0M465.4 329.7h0M440.1 337.5h0M449.4 334.7h0M458.4 331.9h0M454.3 333.2h0M442.5 337h0M438.9 338.2h0M461 331.4h0M462.3 331.3h0M441.4 337.8h0M445.1 337h0M464.4 331.2h0M463 331.7h0M459.9 332.7h0M447.4 336.7h0M449.7 336.2h0M454.3 335.8h0M456.9 335.1h0M453.5 336.3h0M447.3 338.3h0M452.2 336.8h0M451.1 337.2h0M448.8 338h0M449.5 337.8h0M441.8 340.4h0M459.5 335.2h0M466.2 333.2h0M452.6 337.5h0M459 335.5h0M443.6 340.4h0M455 337.1h0M454.8 337.3h0M446.1 340.1h0M469.7 332.8h0M446.8 340h0M452.6 338.3h0M456.7 337.1h0M461.3 335.7h0M463.5 335.9h0M444.7 341.9h0M457.9 338.1h0M468.9 335.2h0M459.8 338.8h0M446.6 343.2h0M453.4 341.2h0M448.6 342.8h0M450.1 342.4h0M463 338.4h0M462.6 338.7h0" stroke="#31688e" stroke-opacity="0.55"/><path d="M469.1 324.8h0M479.5 321.6h0M485.7 319.8h0M332.4 319.7h0M491.9 318.6h0M475.3 324.5h0M498.3 319.7h0M483.3 325.1h0M329.2 327.5h0M472.1 328.8h0M489.6 324.6h0M480 329.4h0M495.8 324.7h0M502.2 324.3h0M486.3 329.3h0M476.1 332.8h0" stroke="#33638d" stroke-opacity="0.55"/><path d="M481.6 321h0M469.1 324.9h0M487.7 319.4h0M475.4 323.3h0M494 318.1h0M500.4 319.3h0M491.9 322.8h0M485.4 325.1h0M474.2 328.6h0M328.3 323.8h0M480.5 328.2h0M497.9 324.6h0M504.3 324.2h0M490.7 328.4h0M477.7 333.7h0" stroke="#33638d" stroke-opacity="0.55"/><path d="M473.3 323.7h0M483.6 320.7h0M489.8 319h0M466.8 326.4h0M496 317.7h0M479.4 324.2h0M494 322.5h0M471.6 329.7h0M487.4 325.5h0M500.3 321.9h0M482.4 328.6h0M477.6 330.1h0M506.5 324.1h0M497.4 327.1h0M487.8 330.7h0" stroke="#33638d" stroke-opacity="0.55"/><path d="M473.2 324.2h0M479.5 322.4h0M468.8 326.3h0M485.7 321.5h0M492 320.6h0M476.4 328.1h0M483 326.6h0M498.2 322.1h0M472.8 331.4h0M489.1 326.9h0M495.3 327.1h0M480 333.4h0M501.6 327.1h0" stroke="#33638d" stroke-opacity="0.55"/><path d="M471.1 324.9h0M481.6 322h0M487.8 321.3h0M477.2 325.1h0M494.1 320.3h0M485.1 326.5h0M473.2 330.6h0M491.6 324.9h0M502.5 321.6h0M479 331.5h0M499.5 327.1h0" stroke="#33638d" stroke-opacity="0.55"/><path d="M477.4 323.6h0M483.6 322.3h0M470.7 326.7h0M489.9 321h0M496.2 320h0M476 329.2h0M487.2 326h0M493.7 324.8h0M500 324.4h0M483.9 330h0" stroke="#33638d" stroke-opacity="0.55"/><path d="M472.9 326.1h0M468.3 327.9h0M487.8 322.2h0M481.4 324.2h0M496.1 322.3h0M491.2 326.8h0M474.5 332h0M481.3 331.1h0" stroke="#33638d" stroke-opacity="0.55"/><path d="M470.7 326.8h0M477.1 325.7h0M483.5 324h0M489.8 323h0M493.2 327.1h0M478.8 331.9h0M483.6 330.5h0" stroke="#33638d" stroke-opacity="0.55"/><path d="M474.9 326.4h0M470.2 328.3h0M485.6 323.7h0M488.2 329.6h0M482.4 333h0" stroke="#33638d" stroke-opacity="0.55"/><path d="M479.1 325.6h0M472.4 327.8h0M481.3 325.2h0M474.5 327.8h0M478.6 327.5h0M478.4 328.1h0M475.9 329.5h0" stroke="#33638d" stroke-opacity="0.55"/><path d="M347.7 247.3h0M478.7 240.8h0M484.1 247.9h0M346.3 240.2h0M484 242h0M489 245.2h0M334.9 252.1h0M493.8 249.5h0" stroke="#46327f" stroke-opacity="0.55"/><path d="M347.2 244.9h0M481.4 240.7h0M486.5 243.5h0M491.4 247.2h0M334.4 249.7h0" stroke="#46327f" stroke-opacity="0.55"/><path d="M346.7 242.6h0" stroke="#46327f" stroke-opacity="0.55"/><path d="M449.9 206.8h0M441.6 200.1h0M445.9 203.1h0M457.3 208.8h0M453.7 203h0M464 210.7h0M460.7 204.7h0M470 213.1h0M467 206.2h0M475.5 214.3h0" stroke="#48176a" stroke-opacity="0.55"/><path d="M441.6 199h0M449.9 205.6h0M445.9 201.9h0M457.3 207.6h0M453.7 201.9h0M464 209.4h0M460.7 203.6h0M470 211.9h0M467 205.1h0" stroke="#48176a" stroke-opacity="0.55"/><path d="M449.9 204.4h0M445.9 200.8h0M453.7 207.7h0M460.7 209.3h0M457.3 204.1h0M467.1 212.1h0M464 204.8h0M472.8 213.6h0M470 207.2h0" stroke="#48176a" stroke-opacity="0.55"/><path d="M449.9 203.2h0M445.9 199.6h0M453.7 206.5h0M460.7 208.1h0M457.3 202.9h0M467.1 210.9h0M472.8 212.4h0M470 206.1h0" stroke="#48176a" stroke-opacity="0.55"/><path d="M449.9 202.1h0M453.7 205.3h0M460.7 206.9h0M467.1 209.7h0M472.8 211.2h0" stroke="#48176a" stroke-opacity="0.55"/><path d="M449.9 201h0M453.7 204.2h0M460.7 205.8h0M467 208.5h0" stroke="#48176a" stroke-opacity="0.55"/><path d="M457.3 206.4h0M464 208.2h0M470 210.7h0" stroke="#48176a" stroke-opacity="0.55"/><path d="M457.3 205.2h0M464 207.1h0M470 209.5h0" stroke="#48176a" stroke-opacity="0.55"/><path d="M464 205.9h0M470 208.3h0" stroke="#48176a" stroke-opacity="0.55"/><path d="M467 207.4h0" stroke="#48176a" stroke-opacity="0.55"/><path d="M453.7 210.3h0M363.6 214h0M460.7 215.2h0M467.1 218.2h0M349.9 221.3h0M472.9 219.7h0M478.3 222.6h0M475.6 215.6h0" stroke="#481e6f" stroke-opacity="0.55"/><path d="M453.7 209h0M363.3 212.4h0M464 216.6h0M460.7 211.9h0M470.1 219.3h0M349.5 219.6h0M475.7 220.3h0M472.9 214.9h0" stroke="#481e6f" stroke-opacity="0.55"/><path d="M457.3 211.3h0M464 213.2h0M470 215.8h0M349.2 218h0M475.6 216.9h0" stroke="#481e6f" stroke-opacity="0.55"/><path d="M457.3 210h0M464 211.9h0M470 214.4h0M478.2 219h0" stroke="#481e6f" stroke-opacity="0.55"/><path d="M460.7 210.6h0M467.1 214.8h0M472.9 216.2h0" stroke="#481e6f" stroke-opacity="0.55"/><path d="M467.1 213.4h0" stroke="#481e6f" stroke-opacity="0.55"/><path d="M430.6 336.9h0M414.5 342h0M425.8 338.5h0M406.8 344.8h0M421.1 340.5h0M435.8 338.1h0M412.5 346.5h0M430 342.3h0M423.5 344.8h0M417.9 346.6h0M409.1 350.9h0M435.3 343.2h0M415.4 351.1h0M428.4 347.4h0M440.4 343.8h0M326.5 352.1h0M422.3 350.8h0" stroke="#2f6c8e" stroke-opacity="0.55"/><path d="M415.8 341.7h0M409.5 344.1h0M428.6 338.2h0M421.2 340.7h0M404.2 346h0M434.5 337.4h0M426.9 343h0M412.5 348.6h0M421.4 346.2h0M438.5 340.9h0M432.5 343.3h0M417.1 350.7h0M443.2 343.7h0M427.2 349.2h0M413.1 354.1h0" stroke="#2f6c8e" stroke-opacity="0.55"/><path d="M413.3 342.7h0M430.1 338.1h0M424 340.2h0M408.5 345.3h0M419 342.1h0M436.5 339.4h0M415.3 347.7h0M428.4 343.9h0M423 346h0M410.7 350.5h0M433.3 344.7h0M440 343.8h0M419.1 351.9h0" stroke="#2f6c8e" stroke-opacity="0.55"/><path d="M432.7 337.3h0M424.1 340.4h0M406 346.4h0M411.6 345.2h0M417.3 344h0M437.4 339.7h0M430.9 342.7h0M419.9 348.2h0M424.8 347h0M413.2 352.6h0M437.6 345.4h0M432 348.4h0" stroke="#2f6c8e" stroke-opacity="0.55"/><path d="M433.3 337.8h0M427 340h0M422.1 341.8h0M414.5 344.7h0M407.1 348.4h0M436.7 341.5h0M432.1 344.3h0M427.3 345.8h0M421.6 347.9h0M414.9 352.2h0M440.6 345.5h0" stroke="#2f6c8e" stroke-opacity="0.55"/><path d="M431.5 339.3h0M426.7 341.3h0M417.4 344.2h0M412.6 346.6h0M439.2 341h0M417.2 349.3h0M430 345.8h0M422.7 348.5h0M435.5 346.1h0" stroke="#2f6c8e" stroke-opacity="0.55"/><path d="M429 340.2h0M424.2 342.3h0M433.9 339.4h0M415.4 345.9h0M410.2 347.9h0M439.5 342h0M429.3 346.6h0M420.6 350h0M435.5 346.1h0" stroke="#2f6c8e" stroke-opacity="0.55"/><path d="M433.1 339h0M420.6 344h0M427.8 342.2h0M411.2 349.1h0M437.3 342.6h0M426.2 347.7h0M431.4 346.2h0" stroke="#2f6c8e" stroke-opacity="0.55"/><path d="M429.2 340.4h0M434.4 339.7h0M424.7 342.8h0M419.8 344.9h0M436.4 344.3h0M424.8 349.5h0" stroke="#2f6c8e" stroke-opacity="0.55"/><path d="M431.2 340.4h0M422.3 343.9h0M433 341.3h0M435.3 341.1h0M433.9 341.7h0M425.1 344.5h0M434 342.8h0M429.3 344.3h0M437.6 342.7h0M437.2 344.4h0M440.8 345.5h0M433.8 347.7h0" stroke="#2f6c8e" stroke-opacity="0.55"/><path d="M376.6 353.7h0M392.7 348.9h0M401.3 346.5h0M386.9 351h0M398.3 350.5h0M405 350.3h0M390.2 354.9h0M384.3 357.6h0M327.4 356.4h0M378.8 361.5h0M409.6 353.1h0M399.2 356.9h0M390.5 360.8h0M405.6 356.9h0" stroke="#2c728e" stroke-opacity="0.55"/><path d="M398.6 347.5h0M380.9 353.6h0M390.2 351.2h0M375.1 357.7h0M404 348.8h0M396.4 353.3h0M387.5 356.7h0M381.4 359.1h0M402.8 354.4h0M409.1 352.7h0M392.7 358.7h0" stroke="#2c728e" stroke-opacity="0.55"/><path d="M395.9 348.8h0M378.1 355.9h0M384.5 354h0M392.4 352.4h0M401.4 350h0M388.1 357.6h0M383 361.8h0M406.9 354.4h0M396.3 358.1h0M401.9 357.5h0" stroke="#2c728e" stroke-opacity="0.55"/><path d="M400.7 348.7h0M395.1 351h0M376.9 357.6h0M405.3 350.6h0M390.7 355.8h0M384.4 357.8h0M401 354.4h0M408.6 355.7h0" stroke="#2c728e" stroke-opacity="0.55"/><path d="M398.6 351.2h0M393.9 355.1h0M383.1 361.9h0" stroke="#2c728e" stroke-opacity="0.55"/><path d="M403.3 352.7h0" stroke="#2c728e" stroke-opacity="0.55"/><path d="M473.1 232.2h0M352.2 233.5h0M478.6 235.5h0M345.8 238h0M483.8 236.8h0M488.7 239.8h0" stroke="#472c7a" stroke-opacity="0.55"/><path d="M351.8 231.3h0M475.9 232.8h0M345.4 235.7h0M481.2 235.5h0M486.3 238.2h0" stroke="#472c7a" stroke-opacity="0.55"/><path d="M351.5 229.6h0M344.9 233.5h0" stroke="#472c7a" stroke-opacity="0.55"/><path d="M464 220.3h0M470.1 227.2h0M351.1 227.9h0M475.8 228.2h0M350.2 222.9h0M344.6 231.8h0M481.1 230.9h0M343.5 226.7h0M486.1 233.4h0" stroke="#482676" stroke-opacity="0.55"/><path d="M467.1 222h0M473 227.6h0M350.8 226.2h0M478.5 230.8h0M344.2 230.1h0M343.2 225h0M483.6 232h0" stroke="#482676" stroke-opacity="0.55"/><path d="M470.1 223.1h0M350.5 224.6h0M475.7 224.1h0M343.9 228.3h0M481 226.6h0" stroke="#482676" stroke-opacity="0.55"/><path d="M473 223.5h0M478.4 226.5h0M483.5 227.8h0" stroke="#482676" stroke-opacity="0.55"/><path d="M339.5 272.9h0M497.6 271.3h0M334.3 278.2h0M502.5 275.3h0M333 272.6h0" stroke="#404588" stroke-opacity="0.55"/><path d="M338.9 270.1h0M500.2 274.9h0M333.7 275.4h0M505 277.8h0" stroke="#404588" stroke-opacity="0.55"/><path d="M489.6 258.3h0M338.3 267.4h0M494.7 263.2h0M337.1 262.1h0M499.6 266.4h0M332.4 269.9h0" stroke="#433f85" stroke-opacity="0.55"/><path d="M492.1 260.6h0M337.7 264.7h0M497 263.1h0M331.8 267.2h0M501.8 266.9h0" stroke="#433f85" stroke-opacity="0.55"/><path d="M336.3 287.1h0M503.4 285.1h0M335 281.1h0M508.2 288.8h0" stroke="#3d4d8a" stroke-opacity="0.55"/><path d="M335.6 284h0M505.9 287.8h0" stroke="#3d4d8a" stroke-opacity="0.55"/><path d="M509.5 300.4h0M512.4 307h0M329.9 309.1h0M325.8 313.2h0" stroke="#38588c" stroke-opacity="0.55"/><path d="M514.4 306.2h0M329.1 305.7h0" stroke="#38588c" stroke-opacity="0.55"/><path d="M516.6 308.5h0" stroke="#38588c" stroke-opacity="0.55"/><path d="M498.1 317.3h0M331.5 316.1h0M504.4 316h0M510.8 314.7h0M515.4 317h0M504.6 321.4h0M327.5 320.2h0M511.1 320.7h0" stroke="#355e8d" stroke-opacity="0.55"/><path d="M500.2 316.9h0M506.5 315.6h0M512.9 314.3h0M330.7 312.5h0M506.7 321.2h0M513.3 320.4h0M326.6 316.6h0" stroke="#355e8d" stroke-opacity="0.55"/><path d="M502.3 316.4h0M508.7 315.1h0M513.3 317.3h0M508.9 320.9h0M517.7 320h0" stroke="#355e8d" stroke-opacity="0.55"/><path d="M502.5 319h0M508.9 318h0M515.5 320.2h0M508.6 323.9h0" stroke="#355e8d" stroke-opacity="0.55"/><path d="M504.6 318.7h0M511.1 317.6h0M510.8 323.8h0" stroke="#355e8d" stroke-opacity="0.55"/><path d="M506.8 318.3h0" stroke="#355e8d" stroke-opacity="0.55"/><path d="M332.2 369.3h0M338.4 371.9h0M328.4 375.5h0M333 377.9h0" stroke="#297b8e" stroke-opacity="0.55"/><path d="M336.6 368.6h0M342.6 370.6h0M337.7 377.1h0" stroke="#297b8e" stroke-opacity="0.55"/><path d="M333.6 371.4h0M341.2 373.5h0" stroke="#297b8e" stroke-opacity="0.55"/><path d="M432.2 189.4h0M422.4 189.2h0M441.6 190.6h0M449.9 191.8h0M410.1 190.8h0M415.4 189.6h0M399.2 193.8h0M457.3 193.9h0" stroke="#460a5d" stroke-opacity="0.55"/><path d="M437 190h0M428 188.5h0M445.9 191.4h0M453.7 192.8h0M442.1 187.5h0M460.7 194.6h0" stroke="#460a5d" stroke-opacity="0.55"/><path d="M437 189h0M445.9 190.5h0M453.7 191.9h0M425.4 187.8h0M460.7 193.7h0" stroke="#460a5d" stroke-opacity="0.55"/><path d="M441.6 189.7h0M433.1 188h0M449.9 190.9h0M457.3 193h0" stroke="#460a5d" stroke-opacity="0.55"/><path d="M441.6 188.7h0M449.9 190h0M457.3 192.1h0" stroke="#460a5d" stroke-opacity="0.55"/><path d="M445.9 189.5h0M437.8 187.6h0M453.7 191h0" stroke="#460a5d" stroke-opacity="0.55"/><path d="M445.9 188.6h0M453.7 190.1h0" stroke="#460a5d" stroke-opacity="0.55"/><path d="M449.9 188.6h0M457.3 191.2h0" stroke="#460a5d" stroke-opacity="0.55"/><path d="M457.3 190.3h0" stroke="#460a5d" stroke-opacity="0.55"/><path d="M486.7 249.5h0M491.8 253.5h0M336.5 259.5h0M335.4 254.5h0M496.5 256h0M331.2 264.6h0" stroke="#453882" stroke-opacity="0.55"/><path d="M489.3 251.3h0M494.3 255.9h0M336 257h0M499 259h0" stroke="#453882" stroke-opacity="0.55"/><path d="M511 294.6h0M328.4 302.4h0" stroke="#3b528b" stroke-opacity="0.55"/><path d="M327.6 299.2h0" stroke="#3b528b" stroke-opacity="0.55"/><path d="M472.8 210h0M478.2 216.3h0M478 210.3h0M483.1 217.7h0M482.8 211.8h0M487.7 220.4h0" stroke="#48176a" stroke-opacity="0.60"/><path d="M472.8 208.9h0M475.5 213h0M480.7 216.6h0M480.5 210.7h0M485.4 219h0M485.1 213h0M489.9 221.9h0" stroke="#48176a" stroke-opacity="0.60"/><path d="M472.8 207.8h0M478.1 215.1h0M478 209.2h0M483 216.5h0M487.6 219.1h0" stroke="#48176a" stroke-opacity="0.60"/><path d="M475.5 211.8h0M480.6 215.4h0M485.4 217.7h0M489.8 220.6h0" stroke="#48176a" stroke-opacity="0.60"/><path d="M475.5 210.7h0M480.6 214.2h0M485.3 216.5h0" stroke="#48176a" stroke-opacity="0.60"/><path d="M475.5 209.5h0M478.1 213.8h0M483 215.2h0M487.6 217.8h0" stroke="#48176a" stroke-opacity="0.60"/><path d="M475.4 208.4h0M478.1 212.6h0M482.9 214h0M487.5 216.6h0" stroke="#48176a" stroke-opacity="0.60"/><path d="M478.1 211.5h0M482.9 212.9h0M487.4 215.5h0" stroke="#48176a" stroke-opacity="0.60"/><path d="M480.5 213h0M485.3 215.3h0" stroke="#48176a" stroke-opacity="0.60"/><path d="M480.5 211.8h0M485.2 214.1h0" stroke="#48176a" stroke-opacity="0.60"/><path d="M428.8 349.7h0M325.5 347.9h0M423.6 351.4h0M443.9 345.3h0M438.5 347.2h0M417.5 353.8h0M433.4 351.5h0M448.8 347.7h0M324.4 357.3h0M422.2 356.8h0M443.2 350.4h0M429.5 355.1h0M438.3 352.6h0M434.4 356.4h0M454 351.2h0M429.1 360.1h0M444.1 355.6h0M449.8 354.3h0" stroke="#2f6d8e" stroke-opacity="0.60"/><path d="M420.4 352.5h0M445.2 345.1h0M438.6 347.2h0M426.3 351.2h0M414.8 355.1h0M432.8 349.5h0M443.3 350.4h0M449.6 349.1h0M420.5 358.7h0M427.1 356.8h0M435.1 354.5h0M323.6 353.1h0M446.8 355h0M454.2 352.9h0M438.9 358.1h0M433.4 360.2h0M428.5 362.1h0" stroke="#2f6d8e" stroke-opacity="0.60"/><path d="M436.3 348h0M418.4 354.2h0M423.8 352.7h0M443.8 347h0M431.6 351.3h0M450.5 348.9h0M439.8 352.5h0M446.1 351.7h0M424.5 358.5h0M431.8 356.3h0M453.7 353h0M442.2 357.7h0" stroke="#2f6d8e" stroke-opacity="0.60"/><path d="M440.2 347.2h0M435.5 348.9h0M428 351.7h0M421.4 354.2h0M445.9 346.6h0M433 353.4h0M443.1 352.2h0M449 351h0M437.9 354.5h0M429.5 357.1h0M423.1 359.3h0M444.4 357.3h0" stroke="#2f6d8e" stroke-opacity="0.60"/><path d="M434.4 349.7h0M446.2 346.6h0M440.6 349h0M429.1 353h0M417.9 356.6h0M451.2 350.4h0M442.7 354h0M428.7 359.1h0" stroke="#2f6d8e" stroke-opacity="0.60"/><path d="M439.2 349h0M427.5 353.7h0M444.4 348.6h0M421.4 356.6h0M435.3 352.6h0M445.2 353.6h0M451.8 351.9h0M424.3 360.6h0M439 356.2h0M433.3 358.3h0" stroke="#2f6d8e" stroke-opacity="0.60"/><path d="M442.6 348.8h0M436.5 350.8h0M427.3 354.7h0M446.5 353.3h0M439.6 356.2h0M433.4 358.3h0M428.1 361.1h0" stroke="#2f6d8e" stroke-opacity="0.60"/><path d="M447.1 348.1h0M438.7 350.8h0M425.7 355.4h0M435.2 354.5h0M449.5 352.6h0M444.8 357.2h0" stroke="#2f6d8e" stroke-opacity="0.60"/><path d="M439.4 350.8h0M446.7 349.9h0" stroke="#2f6d8e" stroke-opacity="0.60"/><path d="M443.3 352.2h0" stroke="#2f6d8e" stroke-opacity="0.60"/><path d="M469.4 337.1h0M458.1 340.7h0M475.2 335.7h0M446.8 344.8h0M464.2 339.5h0M453.1 343h0M324.6 343.9h0M468.3 342.5h0M482 338.4h0M463.6 344.8h0M453 348.1h0M458 346.9h0M473.4 342.6h0M479.9 343.4h0M322.7 349.1h0M470.4 347.1h0M485.7 342.5h0M461.2 350.7h0" stroke="#31688e" stroke-opacity="0.60"/><path d="M460.5 340.2h0M448.2 344.5h0M471.1 337.8h0M476.4 337h0M465.5 340.5h0M455 343.9h0M323.7 340h0M470.2 343.1h0M459.7 347h0M479.5 341.4h0M455.2 349h0M484.8 340.7h0M465.4 347.5h0M474.3 346.2h0M321.9 345.1h0M458.8 352.8h0" stroke="#31688e" stroke-opacity="0.60"/><path d="M451.9 343.4h0M463.9 339.7h0M456.9 342.2h0M473.4 337.8h0M468.1 342.6h0M478.5 339.9h0M454.1 349.4h0M462.9 347h0M473.8 344.5h0M482 343.9h0M487.3 343.3h0" stroke="#31688e" stroke-opacity="0.60"/><path d="M450 344h0M460.7 341h0M467.5 338.9h0M475.7 337.8h0M455.6 344.5h0M471.8 341.7h0M465 344.8h0M482.6 340.5h0M461.2 348h0M476.6 344.2h0M470.1 347.3h0M486.5 344.3h0" stroke="#31688e" stroke-opacity="0.60"/><path d="M462.2 340.9h0M449.8 345.7h0M468.7 340.1h0M458.4 344h0M476.7 339.3h0M454.5 347.5h0M466.5 345.8h0M462.1 349.3h0M478.6 344.8h0M472 348h0M483.6 344.8h0" stroke="#31688e" stroke-opacity="0.60"/><path d="M458.7 342.2h0M465.3 340.7h0M450.2 345.6h0M472 339.2h0M478.3 340.1h0M471.1 344.5h0M457.9 348.7h0M467.3 348.2h0M477.1 346.2h0M462.6 351h0M483.2 345.2h0" stroke="#31688e" stroke-opacity="0.60"/><path d="M451.5 345.2h0M461.7 342.2h0M471.6 339.6h0M466.9 341.5h0M475.7 342.7h0M470.5 345h0M457.8 349.6h0M480.6 345.2h0" stroke="#31688e" stroke-opacity="0.60"/><path d="M463.3 342.1h0M455.4 345.4h0M450.5 347.2h0M473.5 340.2h0M468.4 344.5h0M458.2 350.3h0M471.2 348.6h0" stroke="#31688e" stroke-opacity="0.60"/><path d="M452.4 346.6h0M465.4 342.6h0M476.2 339.9h0M459.3 345.4h0M458.5 351.1h0" stroke="#31688e" stroke-opacity="0.60"/><path d="M462.4 343.6h0M456.3 345.9h0M463.8 343.7h0M468.7 346.3h0" stroke="#31688e" stroke-opacity="0.60"/><path d="M326.9 296.1h0M324.3 306.6h0M322.9 300.2h0" stroke="#3b518b" stroke-opacity="0.60"/><path d="M323.6 303.3h0" stroke="#3b518b" stroke-opacity="0.60"/><path d="M430.3 187.3h0M460.7 192.8h0M446.1 187.4h0M453.4 188.8h0M467 197.2h0M414.5 189.3h0M400.2 194.9h0M405.2 191.8h0M472.6 198.8h0M391.7 198.7h0M477.8 201.3h0M471.6 194h0" stroke="#46095c" stroke-opacity="0.60"/><path d="M460.7 191.9h0M463.9 195.9h0M469.9 198.2h0M475.3 200.5h0M405.6 193h0M388.9 200.6h0M480.2 202.7h0" stroke="#46095c" stroke-opacity="0.60"/><path d="M463.9 195h0M460.3 190.6h0M469.9 197.3h0M475.2 199.6h0M480.2 201.8h0" stroke="#46095c" stroke-opacity="0.60"/><path d="M463.9 194.1h0M469.9 196.4h0M475.2 198.7h0M480.1 200.9h0" stroke="#46095c" stroke-opacity="0.60"/><path d="M463.9 193.2h0M469.8 195.6h0M475.2 197.8h0" stroke="#46095c" stroke-opacity="0.60"/><path d="M463.9 192.3h0M467 196.3h0M472.6 198h0M477.7 200.4h0" stroke="#46095c" stroke-opacity="0.60"/><path d="M467 195.4h0M462.9 191h0M472.6 197.1h0M477.7 199.6h0" stroke="#46095c" stroke-opacity="0.60"/><path d="M467 194.6h0M472.6 196.2h0M477.7 198.7h0" stroke="#46095c" stroke-opacity="0.60"/><path d="M467 193.7h0M472.6 195.4h0M477.7 197.9h0" stroke="#46095c" stroke-opacity="0.60"/><path d="M466.9 192.9h0M469.8 194.7h0M469.4 193.4h0M475.2 197h0M475.2 196.2h0M477.6 197h0" stroke="#46095c" stroke-opacity="0.60"/><path d="M513 323.7h0M519.7 323.3h0M518.2 330.6h0M321.3 328.8h0" stroke="#355f8d" stroke-opacity="0.60"/><path d="M515.2 323.5h0M519.1 326.9h0M522.8 330.8h0" stroke="#355f8d" stroke-opacity="0.60"/><path d="M517.5 323.4h0M512.4 327h0M521.4 326.9h0" stroke="#355f8d" stroke-opacity="0.60"/><path d="M514.6 326.9h0M520.5 330.7h0" stroke="#355f8d" stroke-opacity="0.60"/><path d="M516.9 326.9h0" stroke="#355f8d" stroke-opacity="0.60"/><path d="M354.8 372.7h0M373.8 366.9h0M363.8 372h0M326 376h0M373.2 372h0M383.7 370.2h0M358.5 378.5h0M368.7 375.3h0M389 372.2h0M380.6 376.4h0M325.5 381.2h0" stroke="#2a778e" stroke-opacity="0.60"/><path d="M350.9 374.1h0M370.8 368.9h0M359.4 372.5h0M378.4 367h0M364.7 373.4h0M383.8 370.2h0M325.2 372.3h0M377.6 373.9h0M362.2 379.7h0" stroke="#2a778e" stroke-opacity="0.60"/><path d="M351.2 374.8h0M368.4 371.9h0M378 369.4h0M363 377.6h0M384.4 374.9h0M376.7 377.7h0" stroke="#2a778e" stroke-opacity="0.60"/><path d="M372.2 373.6h0M366.5 378.5h0" stroke="#2a778e" stroke-opacity="0.60"/><path d="M480.9 222.8h0M478.2 217.7h0M485.7 225.2h0M485.5 220.3h0M490.3 228.3h0" stroke="#481d6f" stroke-opacity="0.60"/><path d="M483.3 223.9h0M480.7 219.3h0M488 226.7h0M487.8 221.7h0M492.5 230.2h0" stroke="#481d6f" stroke-opacity="0.60"/><path d="M480.7 217.9h0M485.6 221.6h0M490.1 224.6h0M494.6 230.7h0" stroke="#481d6f" stroke-opacity="0.60"/><path d="M483.2 220.4h0M487.9 223h0M492.3 226.4h0" stroke="#481d6f" stroke-opacity="0.60"/><path d="M483.1 219h0M490 223.3h0" stroke="#481d6f" stroke-opacity="0.60"/><path d="M492.2 225h0" stroke="#481d6f" stroke-opacity="0.60"/><path d="M479.6 334.1h0M484.8 332.4h0M494.5 329.6h0M503.7 327h0M510.2 327h0M490.8 333.3h0M499.7 332.7h0M486.7 338.2h0M322.9 336.1h0M506.1 333.3h0M516 330.5h0M492.4 338.2h0M498.8 338.8h0" stroke="#33638d" stroke-opacity="0.60"/><path d="M492 330.7h0M484.3 333.5h0M505.9 327h0M498.7 329.7h0M479.4 336h0M488.4 337.4h0M511.6 330.3h0M496.3 335.2h0M503.9 333.1h0M322.1 332.4h0M494.6 340h0M514.8 334.1h0M500.8 339.2h0M508.9 337.1h0" stroke="#33638d" stroke-opacity="0.60"/><path d="M489.4 331.7h0M496.6 329.7h0M481.1 335.1h0M508.1 327h0M502.9 329.9h0M491.1 336.7h0M513.8 330.4h0M498.4 335.5h0M508.2 333.5h0M490.6 342.4h0M517 334.4h0M495.9 341.5h0" stroke="#33638d" stroke-opacity="0.60"/><path d="M494 330.8h0M483.4 335h0M500.8 329.8h0M488.4 333.7h0M507.2 330.1h0M493.6 336.2h0M488.1 339.4h0M500.4 335.8h0M512.6 333.9h0M506.7 336.8h0" stroke="#33638d" stroke-opacity="0.60"/><path d="M491.6 331.6h0M485.7 334.7h0M481.1 336.7h0M505 330h0M497.6 332.5h0M495 337.6h0M510.4 333.7h0M502.5 336.1h0M489.7 340.3h0" stroke="#33638d" stroke-opacity="0.60"/><path d="M495.6 332.2h0M487.7 335h0M509.4 330.2h0M501.8 332.9h0M496.8 338.3h0" stroke="#33638d" stroke-opacity="0.60"/><path d="M484.8 336.1h0M491.9 335.4h0M504.6 336.5h0" stroke="#33638d" stroke-opacity="0.60"/><path d="M483.3 336.7h0M492.3 340h0" stroke="#33638d" stroke-opacity="0.60"/><path d="M485.3 337h0" stroke="#33638d" stroke-opacity="0.60"/><path d="M333.8 247.3h0M496.1 249.7h0M329.5 257h0M328.4 252.1h0M500.5 253.2h0M504.7 256.7h0" stroke="#46327f" stroke-opacity="0.60"/><path d="M498.4 252.5h0M328.9 254.5h0M502.7 255.4h0" stroke="#46327f" stroke-opacity="0.60"/><path d="M327.9 249.7h0" stroke="#46327f" stroke-opacity="0.60"/><path d="M491.1 241.7h0M333.3 245h0M331.9 238.6h0M495.7 244.2h0M327.3 247.4h0M500 247.6h0" stroke="#472c7b" stroke-opacity="0.60"/><path d="M493.5 243.9h0M332.8 242.7h0M493.1 238.8h0M497.9 246.8h0M326.8 245.1h0M502.1 249.7h0" stroke="#472c7b" stroke-opacity="0.60"/><path d="M332.3 240.4h0M497.5 241.7h0M326.4 243.2h0" stroke="#472c7b" stroke-opacity="0.60"/><path d="M507.2 278.9h0M509.8 284.2h0M324.8 287.1h0M323.5 281.4h0M320.8 291.2h0" stroke="#404688" stroke-opacity="0.60"/><path d="M511.6 284.2h0M324.1 284.2h0" stroke="#404688" stroke-opacity="0.60"/><path d="M513.7 286.6h0" stroke="#404688" stroke-opacity="0.60"/><path d="M467 201h0M469.9 205h0M463.9 196.8h0M475.4 207.4h0M472.7 200.7h0M480.4 209.6h0M477.8 202.2h0M485.1 211.9h0" stroke="#471063" stroke-opacity="0.60"/><path d="M467 200h0M469.9 204h0M475.4 206.3h0M472.6 199.7h0M480.4 208.6h0M480.2 203.6h0M485 210.8h0" stroke="#471063" stroke-opacity="0.60"/><path d="M467 199.1h0M472.7 206.7h0M472.7 201.6h0M478 208.2h0M477.8 203.2h0M482.8 210.7h0M482.6 205.6h0" stroke="#471063" stroke-opacity="0.60"/><path d="M469.9 203h0M467 198.1h0M475.4 205.3h0M480.4 207.5h0M485 209.8h0" stroke="#471063" stroke-opacity="0.60"/><path d="M469.9 202h0M475.3 204.3h0M480.3 206.5h0" stroke="#471063" stroke-opacity="0.60"/><path d="M472.7 205.6h0M469.9 201h0M477.9 207.1h0M482.8 209.6h0" stroke="#471063" stroke-opacity="0.60"/><path d="M472.7 204.6h0M469.9 200.1h0M477.9 206.1h0M482.7 208.6h0" stroke="#471063" stroke-opacity="0.60"/><path d="M472.7 203.6h0M469.9 199.1h0M477.9 205.1h0M482.7 207.6h0" stroke="#471063" stroke-opacity="0.60"/><path d="M472.7 202.6h0M477.9 204.1h0M482.6 206.6h0" stroke="#471063" stroke-opacity="0.60"/><path d="M475.3 203.3h0M475.3 202.3h0M475.3 201.4h0M480.3 205.5h0M480.3 204.6h0" stroke="#471063" stroke-opacity="0.60"/><path d="M399.5 359.2h0M407.7 356.8h0M388.2 363.1h0M325.4 361.6h0M394.9 363h0M414.3 357.6h0M404.7 361.3h0M386.8 368.5h0M400 365h0M411.2 361.7h0M393.6 367.8h0M418.9 360.6h0M324.5 368.6h0M407.8 365.9h0M424 362.8h0M399.5 371.2h0" stroke="#2c728e" stroke-opacity="0.60"/><path d="M396.8 360.7h0M412 356.4h0M405.4 358.5h0M391.1 363.8h0M396 365.8h0M403.4 363.7h0M417.1 360h0M387.6 369.2h0M410.3 364.1h0M392.6 370.8h0M422.1 362.4h0M323.8 365.1h0M407.1 368.4h0M417.8 365.1h0" stroke="#2c728e" stroke-opacity="0.60"/><path d="M397 360.9h0M404.6 359.6h0M387.9 365.1h0M410.8 358.7h0M414.8 361.8h0M403.5 366.9h0M410.9 365.6h0" stroke="#2c728e" stroke-opacity="0.60"/><path d="M401.2 360.6h0M392.1 364.7h0M415.5 358.2h0M408.7 360.5h0M399.8 368.1h0M414.2 364.1h0M419.3 363h0M408.9 367.7h0" stroke="#2c728e" stroke-opacity="0.60"/><path d="M389.5 366.6h0M396.6 364.4h0M414.2 360.2h0M407 362.6h0" stroke="#2c728e" stroke-opacity="0.60"/><path d="M403.8 364h0" stroke="#2c728e" stroke-opacity="0.60"/><path d="M330.6 262h0M501.1 259.6h0M505.5 263.2h0M507.8 267.6h0" stroke="#453882" stroke-opacity="0.60"/><path d="M330.1 259.5h0M503.4 261.9h0" stroke="#453882" stroke-opacity="0.60"/><path d="M346.9 375.9h0M326.8 379.8h0M330.2 384.2h0M339.8 381.9h0M344.9 381.4h0M354.5 380h0M326.9 389h0M337.3 386.9h0M333.6 390.2h0" stroke="#287c8e" stroke-opacity="0.60"/><path d="M347 376.1h0M336.1 384.9h0M345.5 382.5h0M326.2 385h0M328.5 391.6h0" stroke="#287c8e" stroke-opacity="0.60"/><path d="M331.6 386.9h0M350.2 381.4h0M342.1 385.5h0" stroke="#287c8e" stroke-opacity="0.60"/><path d="M512.9 294.3h0M326.2 293h0M517 299.5h0M322.2 297.1h0" stroke="#3d4d8a" stroke-opacity="0.60"/><path d="M325.5 290h0M515 296.7h0M321.5 294.1h0M518.9 302.8h0" stroke="#3d4d8a" stroke-opacity="0.60"/><path d="M488.5 235h0M485.9 229.1h0M331.5 236.8h0M495.3 239.2h0M499.5 242.5h0" stroke="#482676" stroke-opacity="0.60"/><path d="M490.8 236.8h0M488.3 230.6h0M331.1 235h0M497.1 237.1h0" stroke="#482676" stroke-opacity="0.60"/><path d="M490.6 232.4h0M494.9 234.7h0" stroke="#482676" stroke-opacity="0.60"/><path d="M492.8 234.3h0" stroke="#482676" stroke-opacity="0.60"/><path d="M504.1 269.3h0M508.7 275.3h0M322.9 278.6h0M321.6 273.2h0" stroke="#423f85" stroke-opacity="0.60"/><path d="M506.3 270.5h0M322.2 275.9h0M510.5 275.6h0" stroke="#423f85" stroke-opacity="0.60"/><path d="M434.7 186.9h0M449.7 187.5h0M419 188.3h0M442.7 186.5h0M427.8 186.8h0M456.4 189.1h0M465.2 191.4h0M409.8 190.3h0" stroke="#440255" stroke-opacity="0.60"/><path d="M438.8 186.6h0M432 186.3h0M446.2 186.5h0M452.9 187.7h0M459.1 189.4h0M421.9 187.2h0M467.4 191.9h0" stroke="#440255" stroke-opacity="0.60"/><path d="M436 186h0M449.5 186.6h0M417.9 188.1h0M443.1 185.7h0M455.7 188h0M461.5 189.8h0" stroke="#440255" stroke-opacity="0.60"/><path d="M439.7 185.8h0M446.4 185.7h0M452.5 186.9h0" stroke="#440255" stroke-opacity="0.60"/><path d="M325.1 309.8h0M518.7 311.4h0M522.5 318.6h0" stroke="#38588c" stroke-opacity="0.60"/><path d="M520.7 314.8h0" stroke="#38588c" stroke-opacity="0.60"/><path d="M489.8 219.4h0M487.4 214.3h0M494.1 224.2h0M498.1 227.3h0" stroke="#48176a" stroke-opacity="0.64"/><path d="M492.1 223.7h0M489.7 218.1h0M495.6 220.1h0M497.9 226h0" stroke="#48176a" stroke-opacity="0.64"/><path d="M492 222.3h0M489.6 217h0M496.2 226.4h0M497.4 221h0" stroke="#48176a" stroke-opacity="0.64"/><path d="M491.9 221.1h0M489.5 215.8h0M496 225h0M500 229.1h0" stroke="#48176a" stroke-opacity="0.64"/><path d="M491.8 219.8h0M495.9 223.7h0M499.8 227.8h0" stroke="#48176a" stroke-opacity="0.64"/><path d="M491.7 218.6h0M495.8 222.5h0M499.7 226.5h0" stroke="#48176a" stroke-opacity="0.64"/><path d="M494 222.9h0M491.6 217.5h0" stroke="#48176a" stroke-opacity="0.64"/><path d="M493.9 221.7h0M497.8 224.7h0" stroke="#48176a" stroke-opacity="0.64"/><path d="M493.8 220.5h0" stroke="#48176a" stroke-opacity="0.64"/><path d="M493.7 219.3h0M493.6 218.1h0M495.7 221.2h0M497.7 223.4h0M497.6 222.2h0" stroke="#48176a" stroke-opacity="0.64"/><path d="M395.8 372.6h0M422.3 364.7h0M406.7 369.6h0M411.6 368.5h0M417.4 367.4h0M402.1 373.7h0M324.1 373.8h0M428.2 368.4h0M420.9 371.4h0M411.5 374.9h0M403.4 379.9h0M418.4 375.8h0M432.3 372.5h0M427.9 374.9h0M324.6 378.8h0M411.5 380.1h0" stroke="#2c728e" stroke-opacity="0.64"/><path d="M405.4 370.6h0M420.9 366.8h0M426.5 365.2h0M400.8 374.8h0M416.9 370.9h0M323.4 370.3h0M431.8 368.3h0M426.4 370.5h0M409.9 375.9h0M423.6 374.9h0M414.5 377.9h0M405.5 381.8h0" stroke="#2c728e" stroke-opacity="0.64"/><path d="M417 368.5h0M403.4 372.7h0M410.3 370.8h0M425.2 367.2h0M397.3 376.5h0M432 370.4h0M426.4 372.7h0" stroke="#2c728e" stroke-opacity="0.64"/><path d="M406.1 372.2h0M421.6 369.2h0M416.9 373.3h0M404.7 377.4h0M427.2 370.5h0" stroke="#2c728e" stroke-opacity="0.64"/><path d="M408.8 373h0M417.5 373.4h0M404.7 377.4h0M429.5 372.6h0" stroke="#2c728e" stroke-opacity="0.64"/><path d="M482.6 204.7h0M487.3 213.2h0M487 208.1h0M374 210.8h0M491.6 216.3h0M493 210.8h0M497.3 219.9h0" stroke="#471063" stroke-opacity="0.64"/><path d="M484.9 208.8h0M489.5 214.7h0M491 209.1h0M495.5 218.9h0M495 213.6h0" stroke="#471063" stroke-opacity="0.64"/><path d="M484.9 207.8h0M487.2 212.1h0M491.5 215.2h0" stroke="#471063" stroke-opacity="0.64"/><path d="M484.8 206.8h0M489.4 213.6h0M493.5 217h0" stroke="#471063" stroke-opacity="0.64"/><path d="M487.2 211.1h0M484.8 205.9h0M491.4 214.1h0M495.4 217.8h0" stroke="#471063" stroke-opacity="0.64"/><path d="M487.1 210.1h0M491.3 213.1h0M495.3 216.7h0" stroke="#471063" stroke-opacity="0.64"/><path d="M487.1 209.1h0M491.2 212.1h0M495.2 215.6h0" stroke="#471063" stroke-opacity="0.64"/><path d="M489.3 212.5h0M487 207.1h0M493.4 215.9h0" stroke="#471063" stroke-opacity="0.64"/><path d="M489.2 211.5h0M493.3 214.8h0" stroke="#471063" stroke-opacity="0.64"/><path d="M489.2 210.5h0M489.1 209.5h0M489.1 208.6h0M491.2 211.1h0M491.1 210.1h0M493.2 213.8h0M493.2 212.8h0M493.1 211.8h0M495.1 214.6h0" stroke="#471063" stroke-opacity="0.64"/><path d="M480.1 200.1h0M473.7 194.7h0M398.3 196.2h0M484.7 204.9h0M489 207.6h0M386.5 202.6h0" stroke="#46095c" stroke-opacity="0.64"/><path d="M480.1 199.2h0M482.5 203.8h0M395.9 197.9h0M486.9 206.2h0M383.9 206.3h0M492.9 209.9h0" stroke="#46095c" stroke-opacity="0.64"/><path d="M482.5 202.9h0M479.7 197.9h0M486.8 205.3h0M490.9 208.2h0" stroke="#46095c" stroke-opacity="0.64"/><path d="M482.4 202h0M486.8 204.4h0M490.9 207.3h0" stroke="#46095c" stroke-opacity="0.64"/><path d="M482.4 201.1h0M486.7 203.6h0M490.8 206.4h0" stroke="#46095c" stroke-opacity="0.64"/><path d="M482.4 200.3h0M486.7 202.7h0M490.7 205.6h0" stroke="#46095c" stroke-opacity="0.64"/><path d="M484.7 204h0M481.3 198.8h0M488.9 206.7h0" stroke="#46095c" stroke-opacity="0.64"/><path d="M484.7 203.2h0M488.9 205.8h0M492.8 208.9h0" stroke="#46095c" stroke-opacity="0.64"/><path d="M484.6 202.3h0M488.8 204.9h0M492.8 208h0" stroke="#46095c" stroke-opacity="0.64"/><path d="M484.6 201.4h0M482.9 199.7h0M488.7 204.1h0M484.6 200.8h0M486.4 202.1h0" stroke="#46095c" stroke-opacity="0.64"/><path d="M474.6 348.2h0M466.3 350.8h0M459.5 353.4h0M484.7 346.2h0M471.4 352.6h0M479.8 350.7h0M321.8 355h0M490.8 347.9h0M468.6 357.4h0M486.8 351.9h0M475.8 356h0M496.8 349.7h0M481 356.7h0M492.5 354.3h0M321.6 360.1h0" stroke="#31688e" stroke-opacity="0.64"/><path d="M465.3 351.4h0M477.7 347.9h0M471.6 350.4h0M487.4 346h0M483.8 349.6h0M493.9 347.2h0M469.2 355h0M321.1 351.8h0M478.3 354.2h0M488.6 352.7h0M483.2 355h0M474.6 357.9h0M498.7 350.5h0M493.9 352.9h0" stroke="#31688e" stroke-opacity="0.64"/><path d="M468.6 351.4h0M476 349.3h0M462.7 353.7h0M489.4 346.6h0M481.6 349.2h0M473.1 354.6h0M495 348.9h0M469.1 359.1h0M491.3 352.7h0M500.6 351.4h0M476 359.2h0M482.8 357.7h0" stroke="#31688e" stroke-opacity="0.64"/><path d="M466.1 352.9h0M479.4 348.7h0M485.6 347.9h0M471.2 353.8h0M492 349.3h0M482.4 353.3h0M476.2 357.9h0M488 355.8h0M495.7 353.9h0" stroke="#31688e" stroke-opacity="0.64"/><path d="M477.5 350.3h0M468.7 353.3h0M487.9 348.2h0M474.1 355h0M482.1 358.2h0" stroke="#31688e" stroke-opacity="0.64"/><path d="M465.8 355h0M473.4 353.4h0M489.8 348.9h0M472.4 359.3h0" stroke="#31688e" stroke-opacity="0.64"/><path d="M485.5 350.5h0M474.7 355.7h0" stroke="#31688e" stroke-opacity="0.64"/><path d="M455 354.3h0M323.1 361.7h0M438 360h0M433.5 362.2h0M444.5 359.1h0M428.1 364.2h0M450.7 357.6h0M460.9 356.5h0M455.3 359.7h0M437.5 365.9h0M445.1 364.6h0M322.8 366.8h0M464.6 360.6h0M453.1 364.3h0M460.5 363.4h0M438.2 371.8h0M469.2 362.2h0" stroke="#2e6d8e" stroke-opacity="0.64"/><path d="M453.8 354.8h0M438.9 359.9h0M446.4 358.7h0M430.3 364.2h0M322.4 358.3h0M458.8 356.5h0M443.8 362.9h0M436.7 365.9h0M455 361.7h0M463.3 359.2h0M447.9 365.8h0M322.2 363.4h0" stroke="#2e6d8e" stroke-opacity="0.64"/><path d="M450.5 355.8h0M458.4 354.8h0M437.4 362h0M444.3 361h0M429.5 366.3h0M462.7 357.5h0M454.6 361.9h0M436 368h0M442.3 367.1h0M459.7 361.8h0M448.5 365.7h0M466.2 361.8h0" stroke="#2e6d8e" stroke-opacity="0.64"/><path d="M455.7 355.9h0M440.2 361.7h0M434.9 364.1h0M447.1 360.4h0M461 359.3h0M439.2 367.6h0M458.3 364.4h0M449.3 367.4h0" stroke="#2e6d8e" stroke-opacity="0.64"/><path d="M454.2 356.4h0M439.2 363.7h0M432.6 366.2h0M446.7 362.3h0M463.1 360.3h0M435.8 370.1h0M443.9 368.7h0M452.6 366.4h0" stroke="#2e6d8e" stroke-opacity="0.64"/><path d="M455.3 357.9h0M447.8 362h0M440.5 365.4h0" stroke="#2e6d8e" stroke-opacity="0.64"/><path d="M450.9 359.3h0M458.6 358.4h0M447.9 363.9h0M439.9 369.5h0" stroke="#2e6d8e" stroke-opacity="0.64"/><path d="M451.3 359.2h0M458.3 358.6h0" stroke="#2e6d8e" stroke-opacity="0.64"/><path d="M519.2 334.6h0M502.9 339.7h0M511 337.5h0M497.9 342h0M491.6 344h0M321 341.3h0M522.2 339.2h0M513.5 342h0M505.9 344.4h0M501.5 347.2h0M320.5 348.7h0M507.5 349.4h0M524.7 344.5h0M516.5 347.4h0" stroke="#33638d" stroke-opacity="0.64"/><path d="M521.5 334.8h0M505 340.1h0M513.2 337.8h0M499.9 342.6h0M493.1 345.1h0M320.3 337.5h0M515.6 342.5h0M508 345h0M503.4 347.9h0M319.9 345.6h0M522.4 344h0" stroke="#33638d" stroke-opacity="0.64"/><path d="M523.8 335h0M507 340.6h0M515.4 338.2h0M495.7 345h0M501.9 343.2h0M517.9 343h0M510.1 345.6h0M505.4 348.6h0M319.3 342.6h0" stroke="#33638d" stroke-opacity="0.64"/><path d="M509.2 341.1h0M517.6 338.5h0M503.9 343.8h0M497.6 345.7h0M520.1 343.5h0M512.2 346.2h0" stroke="#33638d" stroke-opacity="0.64"/><path d="M519.9 338.9h0M511.3 341.5h0M499.5 346.5h0M514.4 346.8h0" stroke="#33638d" stroke-opacity="0.64"/><path d="M320.5 325.2h0M526.2 335.3h0M319.5 333.8h0" stroke="#355d8d" stroke-opacity="0.64"/><path d="M318.8 330.3h0M527.2 338.6h0" stroke="#355d8d" stroke-opacity="0.64"/><path d="M369.4 381.3h0M388.2 375.4h0M375 380.9h0M324.8 377.5h0M381.5 379.1h0M394.9 375.4h0M390.6 380.2h0M372.6 386h0M325.9 386.3h0M380 386.1h0M387.4 385.7h0M399.9 381.9h0M374.2 391.1h0" stroke="#2a778e" stroke-opacity="0.64"/><path d="M384.3 376.9h0M390.7 376.8h0M378.6 381.3h0M368.3 385.3h0M398.5 378.5h0M389.9 383.3h0M325.2 382.5h0M377.2 388.5h0M384.8 388.2h0" stroke="#2a778e" stroke-opacity="0.64"/><path d="M388.2 379.1h0M375.7 383.6h0M393.7 378.2h0M382.8 383.7h0M369.5 388.4h0" stroke="#2a778e" stroke-opacity="0.64"/><path d="M385.5 381.3h0M393.3 383h0" stroke="#2a778e" stroke-opacity="0.64"/><path d="M449.4 185.9h0M458.2 188.4h0M463.7 190.2h0M420.6 187.2h0M469.5 192.5h0M413.5 189.1h0M475.3 195.3h0M403.5 194.3h0M479.8 197.8h0M393.4 199.8h0" stroke="#440154" stroke-opacity="0.64"/><path d="M455.1 187.2h0M446.5 185.1h0M460.4 188.8h0M409.9 191.5h0M465.8 190.7h0M471.5 193.2h0M476.8 196h0M416.5 188.1h0M401.3 195.8h0M481.4 198.8h0" stroke="#440154" stroke-opacity="0.64"/><path d="M452.1 186.2h0M457.4 187.6h0M462.5 189.3h0M467.7 191.3h0M472.9 193.8h0M413.3 190.2h0M478.3 196.9h0M418.9 187.3h0M407.6 192.8h0" stroke="#440154" stroke-opacity="0.64"/><path d="M454.5 186.5h0M459.5 188h0M464.4 189.8h0M469.6 191.9h0M474.4 194.5h0M416.1 189.2h0" stroke="#440154" stroke-opacity="0.64"/><path d="M456.7 186.9h0M461.5 188.4h0M466.3 190.3h0M471 192.6h0M475.8 195.3h0" stroke="#440154" stroke-opacity="0.64"/><path d="M458.7 187.3h0M468 190.9h0M472.4 193.3h0" stroke="#440154" stroke-opacity="0.64"/><path d="M463.3 188.9h0" stroke="#440154" stroke-opacity="0.64"/><path d="M460.6 187.7h0" stroke="#440154" stroke-opacity="0.64"/><path d="M465 189.5h0" stroke="#440154" stroke-opacity="0.64"/><path d="M321 270.6h0M509.6 268.1h0M317.6 277.3h0M513.2 273h0" stroke="#443983" stroke-opacity="0.64"/><path d="M320.4 268h0M511.4 270.4h0M317 274.6h0M514.8 276h0" stroke="#443983" stroke-opacity="0.64"/><path d="M316.4 272h0" stroke="#443983" stroke-opacity="0.64"/><path d="M320.1 288.3h0M515.6 289.3h0M519 296.1h0" stroke="#404688" stroke-opacity="0.64"/><path d="M319.5 285.5h0M517.3 292.5h0M520.4 300.1h0" stroke="#404688" stroke-opacity="0.64"/><path d="M507 260.8h0M319.8 265.5h0M318.7 260.5h0M315.9 269.4h0M512.2 266.3h0" stroke="#463480" stroke-opacity="0.64"/><path d="M319.3 263h0M508.7 261.5h0M315.3 266.9h0" stroke="#463480" stroke-opacity="0.64"/><path d="M510.5 263.7h0" stroke="#463480" stroke-opacity="0.64"/><path d="M361.3 384.6h0M343.2 390.8h0M348.1 389.4h0M327.2 394.1h0M354.2 389.3h0M347.8 395.6h0M337.5 398.9h0M366.3 390.9h0M359.5 396.2h0" stroke="#287c8e" stroke-opacity="0.64"/><path d="M357.6 386.7h0M363.3 386.3h0M339.5 393.9h0M326.5 390.1h0M351.1 392.4h0M343.7 398.1h0M362.9 393.5h0M328.2 397h0" stroke="#287c8e" stroke-opacity="0.64"/><path d="M357.7 386.8h0" stroke="#287c8e" stroke-opacity="0.64"/><path d="M355.7 390.6h0" stroke="#287c8e" stroke-opacity="0.64"/><path d="M512.5 277.9h0M318.9 282.7h0M516 283.7h0" stroke="#423f85" stroke-opacity="0.64"/><path d="M514.3 280.6h0M318.2 280h0" stroke="#423f85" stroke-opacity="0.64"/><path d="M496.8 233h0M494.3 227h0M502.5 237.1h0" stroke="#481e6f" stroke-opacity="0.64"/><path d="M494.2 225.6h0M498.7 233.9h0M498.2 228.7h0M504.5 240.3h0" stroke="#481e6f" stroke-opacity="0.64"/><path d="M496.4 229.2h0M500.7 235.8h0" stroke="#481e6f" stroke-opacity="0.64"/><path d="M496.3 227.7h0M500.3 231.9h0" stroke="#481e6f" stroke-opacity="0.64"/><path d="M498.3 230.1h0" stroke="#481e6f" stroke-opacity="0.64"/><path d="M500.1 230.5h0" stroke="#481e6f" stroke-opacity="0.64"/><path d="M502.1 233.3h0" stroke="#481e6f" stroke-opacity="0.64"/><path d="M524.1 323h0M319.8 321.8h0M318 326.8h0" stroke="#38578c" stroke-opacity="0.64"/><path d="M319 318.4h0M524.5 322.5h0M317.3 323.4h0" stroke="#38578c" stroke-opacity="0.64"/><path d="M501.6 244.6h0M499.1 238h0M507.3 250.4h0" stroke="#482676" stroke-opacity="0.64"/><path d="M501.1 240h0M503.5 245.9h0" stroke="#482676" stroke-opacity="0.64"/><path d="M503 241.3h0" stroke="#482676" stroke-opacity="0.64"/><path d="M505 244.7h0" stroke="#482676" stroke-opacity="0.64"/><path d="M504.1 251h0M318.2 258h0M507.9 255.6h0" stroke="#472d7b" stroke-opacity="0.64"/><path d="M506.3 254.8h0M505.6 249.5h0" stroke="#472d7b" stroke-opacity="0.64"/><path d="M509.7 257.8h0" stroke="#472d7b" stroke-opacity="0.64"/><path d="M520.6 306.5h0M318.3 315.1h0" stroke="#3b518b" stroke-opacity="0.64"/><path d="M522.1 310.7h0M317.6 311.9h0" stroke="#3b518b" stroke-opacity="0.64"/><path d="M330 398.2h0" stroke="#277f8e" stroke-opacity="0.64"/><path d="M316.9 308.7h0" stroke="#3d4d8a" stroke-opacity="0.64"/><path d="M316.3 305.6h0" stroke="#3d4d8a" stroke-opacity="0.64"/><path d="M418 378.2h0M430.3 374.8h0M424.5 377.2h0M436.2 374.2h0M324 375.2h0M413.8 382.9h0M439.8 377.9h0M326.5 385.4h0M432.2 381.3h0M426.2 384.2h0M437.3 382.8h0M448.1 380.3h0M420.8 389.4h0" stroke="#2c728e" stroke-opacity="0.69"/><path d="M413.6 380.3h0M425.8 377.2h0M419.2 379.5h0M439 373.7h0M431.3 376.9h0M411.1 385.3h0M437.2 378.3h0M428.4 384h0M325.9 381.8h0M423.1 386.8h0M434.5 385.5h0" stroke="#2c728e" stroke-opacity="0.69"/><path d="M437 376.2h0M419.5 381.9h0M428.3 379.4h0M413.6 386.8h0M439.5 382.4h0M427.5 386.4h0" stroke="#2c728e" stroke-opacity="0.69"/><path d="M437.9 376.1h0M428.9 379.3h0M415.3 384.3h0M424.5 381.9h0" stroke="#2c728e" stroke-opacity="0.69"/><path d="M432.7 381.2h0" stroke="#2c728e" stroke-opacity="0.69"/><path d="M437.6 380.5h0" stroke="#2c728e" stroke-opacity="0.69"/><path d="M517.5 287.2h0M313.8 293.8h0M312.6 288.2h0M519.4 291.9h0" stroke="#423f85" stroke-opacity="0.69"/><path d="M518.9 291h0M313.2 291h0" stroke="#423f85" stroke-opacity="0.69"/><path d="M462.3 188.2h0M405.6 194.1h0M469.4 191.5h0M477.2 196.2h0M418.5 188.4h0M411 191.5h0M483 199.9h0M398.9 197.6h0M488.6 204.2h0M391.4 204.9h0M396.9 202.2h0" stroke="#440154" stroke-opacity="0.69"/><path d="M466.7 190h0M473.8 194h0M478.7 197.1h0M409.2 192.7h0M420.5 187.6h0M484.7 201.2h0M413.8 190.4h0M397.2 200.4h0M403.3 195.8h0M490.9 206.1h0M392.5 207.4h0" stroke="#440154" stroke-opacity="0.69"/><path d="M464 188.7h0M470.7 192.2h0M475.1 194.8h0M480.2 198.1h0M486.6 202.6h0M422.2 187h0M412.1 191.6h0M401.8 198.4h0M406.9 194.3h0M416.8 189.8h0" stroke="#440154" stroke-opacity="0.69"/><path d="M468 190.7h0M476.5 195.7h0M416.2 189.6h0M481.8 199.3h0M405.6 196.7h0M409.9 193.1h0M487.2 203.7h0M421.6 187.6h0" stroke="#440154" stroke-opacity="0.69"/><path d="M465.6 189.3h0M472 192.9h0M477.9 196.7h0M414.6 190.6h0M483.5 200.6h0M420 188.1h0M408.8 195.2h0M489.3 205.5h0" stroke="#440154" stroke-opacity="0.69"/><path d="M469.3 191.3h0M464.6 188.6h0M474.6 194.5h0M418.2 188.8h0M479.3 197.7h0M485.2 202h0M412.5 192.1h0M422.9 187h0" stroke="#440154" stroke-opacity="0.69"/><path d="M466.8 189.9h0M473.3 193.7h0M480.8 198.9h0M418.6 189.1h0" stroke="#440154" stroke-opacity="0.69"/><path d="M470.5 192h0M465.8 189.2h0M475.9 195.4h0M482.4 200.2h0M420.3 188.4h0" stroke="#440154" stroke-opacity="0.69"/><path d="M468.1 190.5h0M473 193.5h0M477.2 196.4h0" stroke="#440154" stroke-opacity="0.69"/><path d="M471.7 192.7h0M469.2 191.2h0M467 189.8h0M464.9 188.6h0M470.4 191.9h0M468.1 190.5h0M466 189.2h0M474.2 194.3h0M465.2 188.7h0M471.6 192.6h0M467.1 189.8h0M469.2 191.1h0M478.6 197.5h0M466.2 189.3h0M475.4 195.2h0M468.2 190.5h0M472.7 193.4h0M470.3 191.8h0" stroke="#440154" stroke-opacity="0.69"/><path d="M499.5 225.2h0M501.7 230.5h0M505.1 234.4h0" stroke="#48176a" stroke-opacity="0.69"/><path d="M499.4 224h0M501.6 229.1h0M505 233h0" stroke="#48176a" stroke-opacity="0.69"/><path d="M499.3 222.8h0M501.4 227.8h0M503.6 233.4h0" stroke="#48176a" stroke-opacity="0.69"/><path d="M501.3 226.5h0M503.4 232h0M506.7 236.4h0" stroke="#48176a" stroke-opacity="0.69"/><path d="M501.1 225.3h0M503.3 230.6h0M506.5 235h0" stroke="#48176a" stroke-opacity="0.69"/><path d="M503.1 229.3h0M506.3 233.6h0" stroke="#48176a" stroke-opacity="0.69"/><path d="M502.9 228h0M506.1 232.3h0" stroke="#48176a" stroke-opacity="0.69"/><path d="M502.8 226.8h0M504.8 231.7h0" stroke="#48176a" stroke-opacity="0.69"/><path d="M504.6 230.4h0" stroke="#48176a" stroke-opacity="0.69"/><path d="M504.4 229.1h0M504.3 227.8h0" stroke="#48176a" stroke-opacity="0.69"/><path d="M341.1 402.2h0M371.2 393.7h0M355.9 398.9h0M364.8 399.2h0M348.5 404.7h0M376.5 396.1h0M358 405.1h0M330.5 401.6h0M370.6 401.8h0M381 399.6h0" stroke="#287c8e" stroke-opacity="0.69"/><path d="M368 396.4h0M352.3 401.8h0M361.4 402.1h0M373.6 398.9h0M354.4 408.2h0M367.5 404.8h0M378.2 402.5h0" stroke="#287c8e" stroke-opacity="0.69"/><path d="M497.2 218.8h0M494.9 212.6h0M501 224.1h0M377.1 215.6h0M371 224.4h0" stroke="#471063" stroke-opacity="0.69"/><path d="M497.1 217.7h0M500.8 222.9h0M504.1 226.6h0" stroke="#471063" stroke-opacity="0.69"/><path d="M497 216.6h0M499.1 221.6h0M502.6 225.6h0" stroke="#471063" stroke-opacity="0.69"/><path d="M496.9 215.6h0M499 220.5h0M502.5 224.4h0" stroke="#471063" stroke-opacity="0.69"/><path d="M496.8 214.6h0M498.9 219.4h0M502.3 223.2h0" stroke="#471063" stroke-opacity="0.69"/><path d="M496.7 213.6h0M498.8 218.3h0M502.2 222.1h0" stroke="#471063" stroke-opacity="0.69"/><path d="M498.7 217.2h0M500.7 221.8h0" stroke="#471063" stroke-opacity="0.69"/><path d="M498.5 216.2h0M502 221h0" stroke="#471063" stroke-opacity="0.69"/><path d="M498.4 215.2h0M500.6 220.7h0M503.9 225.5h0" stroke="#471063" stroke-opacity="0.69"/><path d="M500.4 219.6h0M500.3 218.5h0M500.2 217.5h0M501.9 220h0M501.8 218.9h0M503.8 224.3h0M503.6 223.2h0" stroke="#471063" stroke-opacity="0.69"/><path d="M501.9 231.8h0M504 236.3h0M506.1 241.3h0M509.2 245.7h0" stroke="#481d6f" stroke-opacity="0.69"/><path d="M503.8 234.8h0M507.7 243.4h0" stroke="#481d6f" stroke-opacity="0.69"/><path d="M505.5 237.4h0M508.6 241.6h0" stroke="#481d6f" stroke-opacity="0.69"/><path d="M505.3 235.9h0M508.3 240.1h0" stroke="#481d6f" stroke-opacity="0.69"/><path d="M507.1 239.4h0" stroke="#481d6f" stroke-opacity="0.69"/><path d="M506.9 237.9h0" stroke="#481d6f" stroke-opacity="0.69"/><path d="M492.7 207.2h0M488.4 203.5h0M494.8 211.7h0M391.4 203h0M380.1 210.6h0M384.4 208.2h0M500.1 216.5h0" stroke="#46095c" stroke-opacity="0.69"/><path d="M494.7 210.7h0M490.5 205.1h0M498.3 214.2h0M384.4 212h0M501.6 217.9h0" stroke="#46095c" stroke-opacity="0.69"/><path d="M494.6 209.8h0M498.2 213.3h0M385.8 211h0" stroke="#46095c" stroke-opacity="0.69"/><path d="M494.6 208.9h0M498.1 212.4h0M501.5 216.9h0" stroke="#46095c" stroke-opacity="0.69"/><path d="M496.6 212.6h0M492.8 206.9h0M501.4 215.9h0" stroke="#46095c" stroke-opacity="0.69"/><path d="M496.5 211.7h0M500 215.5h0" stroke="#46095c" stroke-opacity="0.69"/><path d="M496.4 210.8h0M499.8 214.5h0" stroke="#46095c" stroke-opacity="0.69"/><path d="M495.4 209.1h0M499.7 213.6h0" stroke="#46095c" stroke-opacity="0.69"/><path d="M498 211.4h0M493.4 208.2h0" stroke="#46095c" stroke-opacity="0.69"/><path d="M496.2 210.7h0" stroke="#46095c" stroke-opacity="0.69"/><path d="M441 371.3h0M461 365.2h0M450.1 369.2h0M467.1 365.4h0M323.4 371.7h0M472.2 365.9h0M446.6 374.2h0M463.3 370.4h0M457.3 372.9h0M453.3 376.5h0M473.1 371h0M449.7 379.8h0M325.4 378.2h0" stroke="#2e6d8e" stroke-opacity="0.69"/><path d="M443.4 370.9h0M458.7 366.2h0M452.1 368.6h0M464.4 365.7h0M448.4 373.7h0M471.7 367.3h0M322.9 368.3h0M465.1 371.8h0M460 374h0M446.4 378.5h0M452.6 376.7h0M475.3 370.9h0M470 373.8h0" stroke="#2e6d8e" stroke-opacity="0.69"/><path d="M459.9 367.7h0M446.8 372.1h0M453.3 370.2h0M465.1 367.5h0M475.1 366.4h0M471.3 369.7h0M464.7 374.1h0M459.6 376.3h0M454.8 378.1h0M477.3 372h0" stroke="#2e6d8e" stroke-opacity="0.69"/><path d="M449 371.5h0M461.6 369.1h0M447.1 376.2h0M453.2 374.4h0M475.1 368.7h0" stroke="#2e6d8e" stroke-opacity="0.69"/><path d="M466.2 368h0M453.6 372.1h0M448.5 375.8h0M474.6 372.5h0" stroke="#2e6d8e" stroke-opacity="0.69"/><path d="M502.5 352.3h0M509.5 350.1h0M527 345h0M518.7 348.1h0M515.9 352.5h0M508.5 355h0M522.5 354.9h0M514.7 357.8h0M321.3 358.5h0" stroke="#32648e" stroke-opacity="0.69"/><path d="M511.6 350.9h0M504.5 353.2h0M521 348.7h0M518 353.3h0M510.5 355.9h0M516.8 358.7h0" stroke="#32648e" stroke-opacity="0.69"/><path d="M513.7 351.7h0M506.5 354.1h0M523.3 349.4h0M520.3 354.1h0M512.6 356.8h0" stroke="#32648e" stroke-opacity="0.69"/><path d="M471.5 362h0M485.8 357.7h0M497.5 354.9h0M492.3 357.1h0M477.9 362.4h0M503 357.9h0M482.7 364.9h0M497.5 360.6h0M491.9 362.9h0M322.3 365h0M487.7 366.3h0M480.8 369.8h0M508.9 361.2h0M502.9 364.2h0" stroke="#31688e" stroke-opacity="0.69"/><path d="M475.8 361.5h0M483.7 359.4h0M499.3 355.9h0M494 358.3h0M488.9 360.2h0M481 363.7h0M505 359h0M499.3 361.8h0M493.5 364.2h0M321.8 361.7h0M489.1 367.7h0M483.8 370.3h0" stroke="#31688e" stroke-opacity="0.69"/><path d="M474.6 362.3h0M485.4 360.5h0M479.6 363.5h0M501.2 356.9h0M495.7 359.4h0M490.3 361.6h0M506.9 360.1h0M501.1 363h0M495.1 365.5h0" stroke="#31688e" stroke-opacity="0.69"/><path d="M479 366.2h0M486.8 364.4h0" stroke="#31688e" stroke-opacity="0.69"/><path d="M483.1 365.8h0" stroke="#31688e" stroke-opacity="0.69"/><path d="M393.4 386.2h0M404.7 383h0M382.1 390.8h0M327.6 393.1h0M398.5 387.5h0M388.7 391.3h0M409.2 387.8h0M402.9 389.8h0M394.2 392.8h0M383.6 396.7h0M330 397.6h0M399 395.2h0M389.6 398.3h0M406.9 393.1h0" stroke="#2a778e" stroke-opacity="0.69"/><path d="M400.2 384.9h0M391.1 388.7h0M379.3 393.4h0M327 389.2h0M396.4 390.1h0M406.1 387.4h0M386.2 394h0M401 392.5h0M391.9 395.5h0M411.9 389.3h0" stroke="#2a778e" stroke-opacity="0.69"/><path d="M405 384.5h0M410.4 390.6h0" stroke="#2a778e" stroke-opacity="0.69"/><path d="M410.8 392h0" stroke="#2a778e" stroke-opacity="0.69"/><path d="M315.6 302.6h0M522.5 310.8h0M315.4 313.6h0" stroke="#3d4c8a" stroke-opacity="0.69"/><path d="M314.7 310.5h0M523 313.5h0" stroke="#3d4c8a" stroke-opacity="0.69"/><path d="M314.7 264.4h0M513.8 269.2h0M516.4 276h0" stroke="#46337f" stroke-opacity="0.69"/><path d="M515.2 272.4h0" stroke="#46337f" stroke-opacity="0.69"/><path d="M506.6 245.6h0M509 252.5h0" stroke="#482576" stroke-opacity="0.69"/><path d="M508.3 247.7h0M511.3 252.7h0" stroke="#482576" stroke-opacity="0.69"/><path d="M509.8 250.1h0" stroke="#482576" stroke-opacity="0.69"/><path d="M318.7 339.6h0M527.1 347.1h0" stroke="#355d8d" stroke-opacity="0.69"/><path d="M318.2 336.7h0" stroke="#355d8d" stroke-opacity="0.69"/><path d="M318.3 341.6h0" stroke="#355d8d" stroke-opacity="0.69"/><path d="M316.7 320.1h0M316.1 325.6h0M523.8 320.9h0" stroke="#3b518b" stroke-opacity="0.69"/><path d="M316 316.8h0M315.6 323h0" stroke="#3b518b" stroke-opacity="0.69"/><path d="M315.1 320.4h0" stroke="#3b518b" stroke-opacity="0.69"/><path d="M524.9 325.1h0M317.6 333.9h0M525.8 333h0M316.6 328.3h0" stroke="#38578c" stroke-opacity="0.69"/><path d="M317.1 331.1h0" stroke="#38578c" stroke-opacity="0.69"/><path d="M315 299.6h0M520.9 300.7h0M314.1 307.4h0" stroke="#404688" stroke-opacity="0.69"/><path d="M314.4 296.7h0M313.5 304.4h0M521.3 303.5h0" stroke="#404688" stroke-opacity="0.69"/><path d="M312.9 301.5h0" stroke="#404688" stroke-opacity="0.69"/><path d="M511.3 260.3h0M510.5 254.9h0M514.2 266.2h0" stroke="#472b7a" stroke-opacity="0.69"/><path d="M512.8 263.1h0M512 257.7h0" stroke="#472b7a" stroke-opacity="0.69"/><path d="M513.3 260.7h0" stroke="#472b7a" stroke-opacity="0.69"/><path d="M338.3 406.3h0M334.8 410h0M344.5 407.7h0M340.5 410.9h0M350.7 411.3h0" stroke="#27808e" stroke-opacity="0.69"/><path d="M336.2 414.2h0" stroke="#27808e" stroke-opacity="0.69"/><path d="M516.3 279.3h0M312 285.5h0" stroke="#443983" stroke-opacity="0.69"/><path d="M517.6 283.1h0M311.5 282.8h0" stroke="#443983" stroke-opacity="0.69"/><path d="M505.9 231h0M508.1 238.6h0M510.6 243.7h0M360.5 240.9h0" stroke="#48186a" stroke-opacity="0.73"/><path d="M505.7 229.7h0M507.9 237.1h0M510.4 242.1h0" stroke="#48186a" stroke-opacity="0.73"/><path d="M507.7 235.7h0M509.4 241h0M511.6 246.5h0" stroke="#48186a" stroke-opacity="0.73"/><path d="M507.5 234.4h0M509.2 239.5h0M511.4 245h0" stroke="#48186a" stroke-opacity="0.73"/><path d="M507.3 233.1h0M509 238.1h0" stroke="#48186a" stroke-opacity="0.73"/><path d="M507.1 231.8h0M508.8 236.7h0" stroke="#48186a" stroke-opacity="0.73"/><path d="M508.6 235.4h0M510.1 240.7h0" stroke="#48186a" stroke-opacity="0.73"/><path d="M508.4 234.1h0M509.9 239.3h0" stroke="#48186a" stroke-opacity="0.73"/><path d="M317.8 338.7h0M524.9 333.6h0M316.8 333.1h0M524.3 339.4h0M523 345.3h0" stroke="#38578c" stroke-opacity="0.73"/><path d="M317.3 335.9h0M318.9 343.4h0" stroke="#38578c" stroke-opacity="0.73"/><path d="M318.5 340.5h0" stroke="#38578c" stroke-opacity="0.73"/><path d="M465.4 188.8h0M484.2 201.7h0M480.1 198.7h0M471.4 192.6h0M414.7 191.2h0M421.7 187.9h0M491.7 207.7h0M401.3 200.1h0M397.8 204.5h0M408.1 196.8h0M395 209.9h0M475.6 196.3h0M497.6 213.7h0M413.6 196.1h0M403.8 204.5h0M426.7 187.2h0M420.1 192.6h0" stroke="#440154" stroke-opacity="0.73"/><path d="M467.2 189.9h0M476.7 196.2h0M411.5 194h0M472.5 193.4h0M486 203.3h0M481.6 200h0M423 187.4h0M416.7 190.4h0M494.4 210.2h0M405 198.3h0M490.3 207.3h0M399.9 206.9h0M395.1 211.6h0M428.1 186.6h0M409.9 200.8h0" stroke="#440154" stroke-opacity="0.73"/><path d="M469.2 191.1h0M473.9 194.3h0M478 197.3h0M413.8 193h0M424.2 186.9h0M483.3 201.4h0M488.1 205.2h0M418.4 189.7h0M402.2 202.2h0M492.9 209.8h0M408.7 198.7h0M400 208.5h0M464.8 188.7h0M497.2 213h0" stroke="#440154" stroke-opacity="0.73"/><path d="M466.4 189.3h0M475.1 195.2h0M479.4 198.5h0M415.8 192.1h0M419.9 189.1h0M485.1 203.1h0M405.7 200.3h0M410.8 195.6h0M424.6 187.2h0M489.1 207.2h0M493.1 210.4h0M403.9 206h0M470 192.8h0" stroke="#440154" stroke-opacity="0.73"/><path d="M468.2 190.5h0M473.6 194.3h0M477.6 197.3h0M417.6 191.3h0M482.5 201.4h0M422.5 188h0M487 205h0M413.1 194.5h0M407.1 202.5h0M427.4 186.9h0M412.3 199.4h0" stroke="#440154" stroke-opacity="0.73"/><path d="M470.3 191.9h0M465.6 188.9h0M476.3 196.2h0M480.9 199.9h0M421.3 188.5h0M411.3 197.3h0M415.1 193.5h0M486.1 205h0" stroke="#440154" stroke-opacity="0.73"/><path d="M467.4 190h0M472.3 193.4h0M478.9 198.5h0M419.2 190.6h0M423.6 187.6h0M484.2 203.1h0M415.5 195.1h0M489.4 207.7h0" stroke="#440154" stroke-opacity="0.73"/><path d="M469.2 191.2h0M474.8 195.2h0M420.6 190h0M480.3 199.9h0M425.6 186.8h0M417.2 194.2h0M486.3 205.5h0M464.9 188.9h0" stroke="#440154" stroke-opacity="0.73"/><path d="M471.3 192.6h0M466.6 189.5h0M475.9 196.2h0M421.9 189.4h0M481.8 201.4h0M416.9 192.6h0" stroke="#440154" stroke-opacity="0.73"/><path d="M468.3 190.6h0M470.2 191.9h0M465.8 189h0M467.5 190.1h0M469.2 191.3h0M471.2 192.7h0M466.7 189.6h0M473.4 194.3h0M468.4 190.8h0M470.2 192h0M466 189.2h0M472.2 193.5h0M467.6 190.2h0M465.4 188.8h0M474.5 195.3h0M469.3 191.4h0M466.8 189.8h0M477.2 197.3h0M471.1 192.8h0M468.4 190.9h0M473.2 194.4h0M466.2 189.4h0M470.1 192.2h0M467.7 190.4h0M465.6 189h0M472.1 193.7h0M478.4 198.6h0M469.3 191.6h0M423 188.9h0M466.9 190h0M474.3 195.4h0M471 193h0M468.5 191.1h0M466.3 189.5h0M424 188.4h0M476.8 197.5h0M473 194.6h0M470.1 192.4h0M467.7 190.6h0M465.7 189.2h0M425 188h0M418.4 191.9h0M479.8 200h0M475.3 196.5h0M465.1 188.8h0M467 190.2h0M471.9 193.8h0M469.3 191.8h0M425.9 187.6h0M466.4 189.8h0M419.8 191.2h0M483.4 203.1h0M468.5 191.3h0M470.9 193.2h0M478 198.7h0M474 195.6h0M465.8 189.4h0M467.8 190.8h0M421.1 190.6h0M470 192.6h0M472.9 194.8h0M465.3 189h0M476.4 197.6h0M418.8 193.3h0M481.2 201.5h0M467.1 190.4h0M469.2 192h0M422.3 190h0M471.8 194.1h0M466.5 190h0M475 196.6h0M468.5 191.5h0M479.3 200.1h0M423.3 189.5h0M465.9 189.6h0M470.8 193.4h0M467.8 191h0M421.4 191.9h0M473.8 195.8h0M465.4 189.2h0M424.3 189.1h0M477.6 198.9h0M467.1 190.6h0M483.7 203.6h0" stroke="#440154" stroke-opacity="0.73"/><path d="M519 359.7h0M526.4 353.1h0M525.5 362.2h0M323.5 364.6h0M523.3 368.2h0" stroke="#33638d" stroke-opacity="0.73"/><path d="M521.2 360.7h0M524.6 356.2h0M323 361.4h0" stroke="#33638d" stroke-opacity="0.73"/><path d="M523.5 361.7h0" stroke="#33638d" stroke-opacity="0.73"/><path d="M510.9 362.3h0M496.8 366.9h0M490.7 369.2h0M504.8 365.4h0M485.2 371.9h0M324.4 371.3h0M517.1 365.7h0M502 371.1h0M495.4 373.8h0M510.6 369.3h0M521.5 368.1h0M327.3 375.5h0M507.6 375.5h0" stroke="#31688e" stroke-opacity="0.73"/><path d="M512.9 363.4h0M498.5 368.3h0M492.2 370.7h0M506.7 366.7h0M486.5 373.5h0M323.9 367.9h0M519.3 366.9h0M503.8 372.5h0M497 375.4h0M512.6 370.7h0" stroke="#31688e" stroke-opacity="0.73"/><path d="M515 364.5h0M500.3 369.7h0M493.8 372.2h0M508.6 368h0M487.9 375.2h0M505.7 374h0M514.6 372h0M498.7 377h0" stroke="#31688e" stroke-opacity="0.73"/><path d="M503.5 222.1h0M505.6 228.5h0M371.2 227h0M374.1 231.2h0" stroke="#471063" stroke-opacity="0.73"/><path d="M503.3 221h0M505.4 227.3h0" stroke="#471063" stroke-opacity="0.73"/><path d="M505.2 226.1h0" stroke="#471063" stroke-opacity="0.73"/><path d="M505.1 225h0M506.9 230.5h0" stroke="#471063" stroke-opacity="0.73"/><path d="M504.9 223.9h0M506.7 229.3h0" stroke="#471063" stroke-opacity="0.73"/><path d="M504.8 222.8h0M506.6 228.1h0" stroke="#471063" stroke-opacity="0.73"/><path d="M506.4 227h0" stroke="#471063" stroke-opacity="0.73"/><path d="M364.3 407.9h0M375.4 405.5h0M384.8 404.2h0M334.2 407.8h0M357.5 414.4h0M369.5 411.9h0M390.5 406.9h0M379.6 410.4h0M339.1 415.7h0M363.2 418.7h0" stroke="#287c8e" stroke-opacity="0.73"/><path d="M360.9 411.1h0M372.5 408.7h0M382.2 407.3h0M366.4 415.2h0M388.3 410.1h0M376.9 413.7h0M338.7 411.5h0" stroke="#287c8e" stroke-opacity="0.73"/><path d="M375.7 210.9h0M380.7 211.1h0M499.4 213.7h0M503.2 220h0M381.3 218.2h0M389 213.5h0M387.9 221.9h0" stroke="#46085b" stroke-opacity="0.73"/><path d="M503.1 219h0M380.7 216.9h0M497.4 213.1h0M387.1 216.9h0M384.4 221.3h0" stroke="#46085b" stroke-opacity="0.73"/><path d="M502.9 218h0M381.4 220.4h0M389.1 215.4h0M387.4 223.7h0" stroke="#46085b" stroke-opacity="0.73"/><path d="M502.8 217h0M504.6 221.7h0M384.5 219.2h0" stroke="#46085b" stroke-opacity="0.73"/><path d="M504.5 220.7h0M381.8 215.5h0" stroke="#46085b" stroke-opacity="0.73"/><path d="M504.3 219.7h0M380.7 217.4h0" stroke="#46085b" stroke-opacity="0.73"/><path d="M503.3 217.8h0M384.7 218.6h0" stroke="#46085b" stroke-opacity="0.73"/><path d="M502.6 216.8h0" stroke="#46085b" stroke-opacity="0.73"/><path d="M334.7 412h0M346.9 414.7h0M342.9 418.1h0M353.9 417.8h0M350.2 421.4h0" stroke="#277f8e" stroke-opacity="0.73"/><path d="M461 378h0M453.8 380.7h0M324.9 374.7h0M470 376.1h0M475.1 374.5h0M480.1 375.2h0M469.2 381.3h0M463.4 384h0M328.1 382.5h0M489.4 376.9h0M476.3 381.2h0M483.8 380.6h0" stroke="#2e6d8e" stroke-opacity="0.73"/><path d="M459.5 378.6h0M479 373.5h0M464.6 378.7h0M469.9 378.5h0M475.3 379.3h0M459.4 385.6h0M482.6 378.8h0M327.7 379h0M490.8 378.6h0M470.8 385.4h0M464.6 388.4h0" stroke="#2e6d8e" stroke-opacity="0.73"/><path d="M459 381.1h0M474.3 377.4h0M464.3 381.2h0M481.3 377h0M470 383.3h0M464 386.1h0M477.4 383.2h0M485.1 382.5h0" stroke="#2e6d8e" stroke-opacity="0.73"/><path d="M310.9 280.1h0M517 277.2h0" stroke="#463480" stroke-opacity="0.73"/><path d="M310.4 277.5h0M517.4 280.1h0" stroke="#463480" stroke-opacity="0.73"/><path d="M440.6 384.4h0M418 392h0M429.2 388.7h0M435.2 387.8h0M329 389.9h0M450.7 384h0M425.2 394.2h0M447.1 387.4h0M431.8 393.3h0M454.8 387.3h0M437.9 394.6h0M332.9 395.8h0M444.6 393h0M451.2 391h0M430.4 398.7h0" stroke="#2c728e" stroke-opacity="0.73"/><path d="M442.1 384.1h0M437.7 387.3h0M428.7 391.2h0M328.6 386.2h0M454.5 385.1h0M437.3 392.3h0M445.6 390.2h0M424.3 396.9h0M431.1 395.9h0M437.5 397.3h0" stroke="#2c728e" stroke-opacity="0.73"/><path d="M443.3 386.1h0M430 391h0M451.1 386.2h0M457.7 388.7h0" stroke="#2c728e" stroke-opacity="0.73"/><path d="M434.9 390.3h0" stroke="#2c728e" stroke-opacity="0.73"/><path d="M518.1 284.1h0M310.7 290.1h0M368.2 292.5h0M519.2 293.1h0" stroke="#443983" stroke-opacity="0.73"/><path d="M518.6 287h0M310.1 287.4h0" stroke="#443983" stroke-opacity="0.73"/><path d="M329.5 393.7h0M397 398h0M387.2 401.2h0M405.2 395.9h0M412.4 394.8h0M418.8 394.7h0M392.8 403.9h0M333.7 403.7h0M401.7 401.6h0M409.4 400.4h0M416.3 400.2h0M423.4 399.7h0M397.9 407.7h0M406.2 406.4h0" stroke="#2a778e" stroke-opacity="0.73"/><path d="M394.9 400.9h0M403.5 398.7h0M410.9 397.5h0M417.6 397.4h0M333.3 399.7h0M399.8 404.6h0M407.8 403.3h0M415.1 403.2h0" stroke="#2a778e" stroke-opacity="0.73"/><path d="M510.6 248.2h0M509.7 242.5h0M512.9 254.1h0" stroke="#481e70" stroke-opacity="0.73"/><path d="M509.9 244.1h0M511.8 251h0" stroke="#481e70" stroke-opacity="0.73"/><path d="M511.1 246.8h0" stroke="#481e70" stroke-opacity="0.73"/><path d="M510.9 245.2h0" stroke="#481e70" stroke-opacity="0.73"/><path d="M512.1 249.8h0" stroke="#481e70" stroke-opacity="0.73"/><path d="M511.9 248.1h0" stroke="#481e70" stroke-opacity="0.73"/><path d="M312.3 298.6h0M519.9 294.7h0M311.2 292.9h0M520.5 301.2h0" stroke="#423f85" stroke-opacity="0.73"/><path d="M311.8 295.7h0M311.9 303.2h0" stroke="#423f85" stroke-opacity="0.73"/><path d="M311.5 300.9h0" stroke="#423f85" stroke-opacity="0.73"/><path d="M311.1 298.6h0" stroke="#423f85" stroke-opacity="0.73"/><path d="M314.6 317.8h0M523 321.9h0M315.4 325.1h0" stroke="#3d4c8a" stroke-opacity="0.73"/><path d="M314.1 315.3h0M315 322.5h0" stroke="#3d4c8a" stroke-opacity="0.73"/><path d="M314.5 320h0" stroke="#3d4c8a" stroke-opacity="0.73"/><path d="M515.4 269.7h0M514.5 264h0" stroke="#472c7b" stroke-opacity="0.73"/><path d="M515.9 271h0M515 265.4h0" stroke="#472c7b" stroke-opacity="0.73"/><path d="M516.4 273.8h0" stroke="#472c7b" stroke-opacity="0.73"/><path d="M512.5 255.6h0M514.2 260.3h0" stroke="#482575" stroke-opacity="0.73"/><path d="M513.6 258.8h0" stroke="#482575" stroke-opacity="0.73"/><path d="M522.1 310.4h0M313.7 312.8h0M312.8 308h0M362.2 314.3h0" stroke="#404688" stroke-opacity="0.73"/><path d="M313.2 310.4h0M521.4 311.8h0" stroke="#404688" stroke-opacity="0.73"/><path d="M312.3 305.6h0" stroke="#404688" stroke-opacity="0.73"/><path d="M316.3 330.4h0M358.2 330.7h0M522.4 327.6h0M318 337.7h0" stroke="#3b518b" stroke-opacity="0.73"/><path d="M315.9 327.7h0" stroke="#3b518b" stroke-opacity="0.73"/><path d="M319.4 346.3h0M523.8 350.6h0M322.6 358.3h0" stroke="#365d8d" stroke-opacity="0.73"/><path d="M422.5 191.3h0M472.7 195h0M407.2 203.9h0M466.5 190.2h0M414.4 198.1h0M481.5 202h0M492.9 209.9h0M426.8 187.9h0M486.4 205.2h0M502.2 216.3h0M396.9 214.7h0M419.4 196h0M401.4 211.4h0M431.9 186.3h0M447.4 189.1h0M476.5 198.2h0M406.4 209.8h0M412.1 205.4h0M395.2 221.3h0M426.8 194.1h0M417.3 203.1h0M437 186.2h0M431.4 191.4h0M423.9 199.2h0M402.7 218h0M442 185.9h0M414.4 210h0" stroke="#440154" stroke-opacity="0.77"/><path d="M425.2 188.6h0M469.2 192.3h0M464.4 188.6h0M476.1 197.8h0M416.3 197h0M410 202.1h0M489.3 207.4h0M420.7 194.3h0M429.9 186.4h0M483.8 203.4h0M497 212.6h0M405.2 208.6h0M449.2 189.7h0M398.4 216h0M502 215.9h0M434.8 186.1h0M416.3 202.2h0M426 194.7h0M404.5 213.6h0M410.9 208.4h0M429.9 191.6h0M421.7 199.4h0M397.9 222.3h0M439.8 185.6h0M434.9 191.3h0M416.6 207.9h0" stroke="#440154" stroke-opacity="0.77"/><path d="M423.5 190.8h0M471.6 194.3h0M466 189.8h0M427.5 187.5h0M479.5 200.6h0M417.9 196h0M412.4 200.5h0M492.8 209.6h0M432.3 186.1h0M408.4 206.3h0M447.9 189.3h0M486.4 205.1h0M402.8 212.6h0M496.9 212.4h0M423.2 196.9h0M400.4 217.1h0M428.2 193h0M413.3 206.4h0M419 201.7h0M437.2 186h0M432.9 191.1h0M409.8 211.7h0M501.8 215.8h0" stroke="#440154" stroke-opacity="0.77"/><path d="M426 188.3h0M468.4 191.7h0M474.7 196.9h0M464 188.5h0M419.3 195.1h0M414.5 199.2h0M481.6 201.8h0M431 186.8h0M424 193.1h0M489.4 207.1h0M411.1 204.4h0M408 210.8h0M429.4 192.1h0M436 186.4h0M420.4 200.5h0M424.9 198.3h0M416.8 205.4h0M496.8 212.3h0M441 185.6h0M434.6 191.7h0" stroke="#440154" stroke-opacity="0.77"/><path d="M465.4 189.5h0M424.5 190.3h0M470.7 193.6h0M477.8 199.4h0M428.8 186.9h0M416.3 198h0M420.7 195.2h0M413.4 202.7h0M483.9 203.3h0M433.8 186.3h0M409.5 207.4h0M492.8 209.5h0M425.8 196h0M429.9 192.6h0M439.1 185.6h0M422.7 200.2h0M418.6 203.9h0M406.6 214.5h0M437.1 190.1h0" stroke="#440154" stroke-opacity="0.77"/><path d="M467.7 191.3h0M425.3 189.8h0M473.5 196h0M429.4 186.6h0M421.8 193.6h0M463.7 188.5h0M418 197h0M479.7 200.5h0M415.4 201.3h0M434.5 186.3h0M489.4 207h0M483.9 203.2h0M422.9 198.5h0M427.4 194.7h0M431.9 191h0M414.8 207.2h0M439.6 185.8h0M420.1 204.5h0" stroke="#440154" stroke-opacity="0.77"/><path d="M464.9 189.1h0M469.9 193h0M428.1 187.2h0M476.3 198.3h0M422.9 192.9h0M481.7 201.7h0M417.2 200h0M433.1 186.7h0M486.4 205h0M428.8 192.5h0M415.5 204.6h0M438.2 185.8h0M425.8 197.4h0M412.5 209.3h0M492.7 209.4h0M422.8 201.9h0M434.3 192h0" stroke="#440154" stroke-opacity="0.77"/><path d="M467.1 190.8h0M426.2 189.4h0M472.4 195.2h0M431.4 186.6h0M421.9 194.4h0M478 199.2h0M462.9 188.2h0M418.8 198.8h0M414.3 203.7h0M436.5 186h0M428.1 194.2h0M432.5 191.5h0M483.9 203.2h0M489.3 207h0M426 198.9h0M441.6 185.7h0M421.5 203.1h0" stroke="#440154" stroke-opacity="0.77"/><path d="M464.5 188.8h0M469.1 192.5h0M426.9 189h0M475 197.3h0M423 193.7h0M432 187.4h0M479.8 200.4h0M420.2 197.8h0M436.7 185.8h0M428.7 193.6h0M486.4 205h0M425 199.8h0M433.9 192.4h0M418.4 206.1h0M441.9 186.1h0" stroke="#440154" stroke-opacity="0.77"/><path d="M466.5 190.4h0M466 190.1h0M468.4 192h0M465.5 189.7h0M471.4 194.5h0M427.6 188.6h0M467.7 191.5h0M465 189.4h0M470.5 193.9h0M428.2 188.3h0M467.1 191.1h0M464.5 189.1h0M428.9 187.9h0M464.1 188.8h0M469.7 193.3h0M466.5 190.7h0M429.4 187.6h0M465.9 190.3h0M473.8 196.4h0M469 192.8h0M430 187.4h0M465.4 190h0M423.9 192.3h0M468.2 192.2h0M472.7 195.6h0M465 189.6h0M430.5 187.1h0M467.6 191.8h0M424.8 191.8h0M464.5 189.3h0M471.7 194.9h0M467 191.3h0M425.7 191.3h0M464.1 189h0M470.7 194.2h0M466.4 190.9h0M463.7 188.7h0M426.4 190.8h0M463.3 188.4h0M469.9 193.6h0M465.9 190.6h0M427.1 190.4h0M465.4 190.2h0M469.1 193.1h0M427.8 190h0M464.9 189.9h0M468.4 192.6h0M428.4 189.6h0M475.1 197.2h0M464.4 189.5h0M467.8 192.1h0M424.9 192.5h0M464 189.2h0M429 189.2h0M473.9 196.3h0M467.1 191.6h0M463.6 188.9h0M425.7 192h0M429.6 188.9h0M463.2 188.7h0M466.6 191.2h0M430.1 188.6h0M472.8 195.6h0M426.5 191.5h0M462.9 188.4h0M466 190.8h0M430.6 188.3h0M462.5 188.1h0M427.2 191h0M471.8 194.8h0M465.5 190.4h0M431.1 188h0M427.9 190.6h0M470.9 194.2h0M465 190.1h0M431.5 187.7h0M428.5 190.2h0M464.6 189.8h0M470.1 193.6h0M429.1 189.8h0M464.1 189.5h0M432.4 187.2h0M469.3 193h0M432.8 187h0M463.7 189.2h0M429.6 189.5h0M463.3 188.9h0M468.6 192.5h0M430.2 189.1h0M433.5 186.5h0M463 188.6h0M467.9 192h0M430.7 188.8h0M478.1 199.2h0M462.6 188.3h0M431.1 188.5h0M467.3 191.6h0M434.2 186.1h0M462.3 188.1h0M431.6 188.2h0M476.6 198.1h0M466.7 191.2h0M432 188h0M421.4 196.9h0M466.1 190.8h0M475.3 197.1h0M432.4 187.7h0M465.6 190.4h0M432.8 187.4h0M422.6 196.1h0M465.1 190h0M474.1 196.3h0M433.2 187.2h0M464.7 189.7h0M423.6 195.3h0M433.5 187h0M473 195.5h0M464.2 189.4h0M433.9 186.8h0M424.6 194.6h0M434.2 186.5h0M463.8 189.1h0M471.9 194.8h0M463.4 188.8h0M425.4 194h0M471 194.1h0M463 188.5h0M426.3 193.4h0M435.1 186h0M462.6 188.3h0M470.2 193.5h0M427 192.9h0M469.4 193h0M427.7 192.4h0M418 200.9h0M468.6 192.4h0M428.4 191.9h0M468 192h0M429 191.5h0M419.5 199.7h0M467.3 191.5h0M429.5 191h0M420.8 198.7h0M466.7 191.1h0M430.1 190.7h0M466.2 190.7h0M430.6 190.3h0M422.1 197.7h0M465.6 190.3h0M431.1 189.9h0M465.1 190h0M431.5 189.6h0M464.7 189.6h0M432 189.3h0M424.2 196.1h0M432.4 189h0M464.2 189.3h0M425.1 195.4h0M481.8 201.7h0M432.8 188.7h0M463.8 189h0M433.1 188.4h0M463.4 188.7h0M433.5 188.2h0M463 188.4h0M479.9 200.3h0M433.9 187.9h0M462.6 188.2h0M434.2 187.7h0M427.5 193.5h0M478.2 199.1h0M434.5 187.4h0M434.8 187.2h0M476.7 198.1h0M435.1 187h0M435.4 186.8h0M475.3 197.1h0M435.7 186.6h0M474.1 196.2h0M436.2 186.2h0M430.5 191.2h0M431 190.8h0M473 195.5h0M431.4 190.5h0M472 194.7h0M431.9 190.1h0M432.3 189.8h0M471 194.1h0M432.7 189.5h0M470.2 193.5h0M433.1 189.2h0M433.5 188.9h0M469.4 192.9h0M433.8 188.6h0M468.6 192.4h0M434.2 188.4h0M467.9 191.9h0M434.5 188.1h0M434.8 187.9h0M467.3 191.4h0M435.1 187.7h0M466.7 191h0M435.4 187.4h0M435.7 187.2h0M466.1 190.6h0M424 197.6h0M435.9 187h0M465.6 190.2h0M436.2 186.8h0M465.1 189.9h0M424.9 196.8h0M436.5 186.6h0M464.6 189.5h0M436.7 186.4h0M464.1 189.2h0M426.6 195.4h0M463.7 188.9h0M437.4 185.8h0M463.3 188.6h0M462.9 188.3h0M429.4 193.1h0M430.5 192.2h0M431 191.8h0M432.3 190.6h0M432.7 190.3h0M433.1 190h0M433.5 189.7h0M433.9 189.4h0M434.2 189.1h0M434.5 188.8h0M434.8 188.6h0M435.2 188.3h0M435.4 188.1h0M435.7 187.8h0M436 187.6h0M436.3 187.4h0M436.5 187.2h0M436.8 187h0M437 186.8h0M437.3 186.6h0M437.5 186.4h0M437.7 186.2h0M437.9 186h0M438.4 185.7h0M438.9 185.8h0M438.7 186h0M438.5 186.2h0M438.3 186.3h0M438 186.5h0M437.8 186.7h0M437.6 186.9h0M437.4 187.1h0M437.1 187.3h0M436.9 187.6h0M436.7 187.8h0M436.4 188h0M436.1 188.2h0M435.9 188.5h0M435.6 188.7h0M435.3 189h0M435 189.3h0M434.7 189.5h0M434.3 189.8h0M434 190.1h0M433.6 190.5h0M433.3 190.8h0M432 191.9h0M431.6 192.3h0M431.1 192.7h0M430.6 193.2h0M430 193.7h0M429.4 194.2h0M428.8 194.8h0M428.1 195.3h0M427.4 196h0M426.6 196.7h0M421.5 201.3h0M420.1 202.5h0M462.7 188.2h0M463.1 188.5h0M463.5 188.8h0M463.9 189.1h0M464.4 189.4h0M464.9 189.7h0M465.4 190.1h0M466 190.5h0M466.5 190.9h0M467.2 191.3h0M467.8 191.8h0M468.5 192.3h0M469.3 192.8h0M470.1 193.4h0M470.9 194h0M471.9 194.7h0M472.9 195.4h0M474 196.2h0M475.2 197.1h0M476.6 198h0M478.1 199.1h0M479.8 200.3h0M481.7 201.6h0M439.4 185.9h0M439.2 186.1h0M439 186.3h0M438.8 186.5h0M438.6 186.7h0M438.4 186.9h0M438.2 187.1h0M438 187.3h0M437.8 187.5h0M437.6 187.7h0M437.3 187.9h0M437.1 188.1h0M436.9 188.4h0M436.6 188.6h0M436.4 188.9h0M436.1 189.1h0M435.8 189.4h0M435.5 189.7h0M435.2 190h0M434.9 190.3h0M434.6 190.6h0M434.2 190.9h0M433.9 191.2h0M433.5 191.6h0M433.1 192h0M440.5 185.5h0M432.7 192.4h0M440.3 185.7h0M440.2 185.9h0M432.3 192.8h0M440 186h0M431.8 193.2h0M439.8 186.2h0M431.3 193.7h0M439.6 186.4h0M439.5 186.6h0M430.8 194.2h0M439.3 186.8h0M430.3 194.7h0M439.1 187h0M438.9 187.2h0M429.7 195.3h0M438.7 187.4h0M429 195.9h0M438.5 187.6h0M438.3 187.8h0M428.4 196.6h0M438.1 188h0M437.9 188.3h0M427.6 197.3h0M437.6 188.5h0M426.8 198h0M437.4 188.7h0M440.9 185.8h0M437.2 189h0M440.7 186h0M436.9 189.2h0M440.6 186.1h0M436.7 189.5h0M440.4 186.3h0M436.4 189.8h0M440.2 186.5h0M436.1 190.1h0M424 200.8h0M440.1 186.7h0M435.9 190.4h0M439.9 186.9h0M435.6 190.7h0M439.7 187.1h0M435.3 191h0M439.6 187.3h0M462.8 188.3h0M439.4 187.5h0M439.2 187.7h0M463.2 188.6h0M441.5 185.8h0M439 187.9h0M463.6 188.9h0M441.3 186h0M438.8 188.1h0M441.2 186.2h0M464.1 189.2h0M438.6 188.4h0M441 186.4h0M433.5 192.8h0M438.4 188.6h0M464.6 189.6h0M440.9 186.6h0M438.2 188.8h0M433.1 193.2h0M440.7 186.8h0M465.1 190h0M438 189.1h0M432.7 193.7h0M440.6 187h0M437.8 189.3h0M465.7 190.4h0M440.4 187.2h0M432.2 194.2h0M437.5 189.6h0M440.2 187.4h0M466.3 190.8h0M437.3 189.9h0M431.7 194.7h0M440.1 187.6h0M441.8 186.3h0M466.9 191.2h0M439.9 187.8h0M431.2 195.2h0M441.6 186.4h0M436.8 190.4h0M439.7 188h0M467.6 191.7h0M441.5 186.6h0M430.7 195.8h0M436.5 190.7h0M439.6 188.2h0M441.4 186.8h0" stroke="#440154" stroke-opacity="0.77"/><path d="M492.3 380.4h0M478.4 385.2h0M471.7 387.5h0M465.2 390.7h0M486.4 384.5h0M332.1 388.3h0M497 385.9h0M481.8 391.6h0M474.4 394.3h0M337.3 395.4h0M490.5 390.5h0M500.2 389.8h0" stroke="#2e6d8e" stroke-opacity="0.77"/><path d="M493.8 382.2h0M479.5 387.3h0M472.6 389.7h0M465.8 393h0M331.8 384.6h0M487.7 386.4h0M498.6 387.9h0M483 393.8h0M337 391.7h0M475.3 396.6h0M491.9 392.6h0" stroke="#2e6d8e" stroke-opacity="0.77"/><path d="M495.4 384h0M480.7 389.4h0M473.5 392h0M489.1 388.5h0" stroke="#2e6d8e" stroke-opacity="0.77"/><path d="M385.9 413.4h0M374.1 417.1h0M395.9 410.9h0M344.6 418.8h0M380.9 420.3h0M368.2 424.3h0M391.7 417.5h0M401.1 416h0M375.6 427.7h0M387.2 424.7h0" stroke="#287c8e" stroke-opacity="0.77"/><path d="M383.4 416.8h0M371.2 420.7h0M393.8 414.1h0M378.3 423.9h0M389.5 421.1h0M399.3 419.5h0" stroke="#287c8e" stroke-opacity="0.77"/><path d="M458.1 391.1h0M332.5 392h0M444.5 395.6h0M451.4 393.5h0M437.1 400h0M458.8 396h0M451.6 398.6h0M444.2 400.9h0M337.6 399.3h0M466.5 395.4h0M436.2 405.7h0M316.5 406.1h0M459.7 401.1h0M451.9 404h0M443.9 406.5h0M343.7 406.1h0M467.9 400.4h0" stroke="#2c728e" stroke-opacity="0.77"/><path d="M458.5 393.5h0M444.3 398.2h0M451.5 396h0M436.7 402.8h0M459.2 398.5h0M451.8 401.3h0M444.1 403.7h0M467.2 397.8h0" stroke="#2c728e" stroke-opacity="0.77"/><path d="M314.1 317.5h0M349.1 311.9h0M520.8 317.2h0M313.3 312.5h0M372.2 313.4h0M372 320.9h0M519.6 322.8h0M384.4 316h0M339.2 317.3h0M352.8 321h0" stroke="#404588" stroke-opacity="0.77"/><path d="M313.7 315h0M519 319h0M315.6 321.9h0" stroke="#404588" stroke-opacity="0.77"/><path d="M518.5 315.3h0M315.3 319.4h0" stroke="#404588" stroke-opacity="0.77"/><path d="M314.9 316.9h0" stroke="#404588" stroke-opacity="0.77"/><path d="M518 285.8h0M389.4 286.9h0M516.9 292.6h0M382.9 296h0" stroke="#463480" stroke-opacity="0.77"/><path d="M517.5 287.8h0" stroke="#463480" stroke-opacity="0.77"/><path d="M519.9 302.9h0M312.9 310.1h0M519.4 308.1h0M328.2 308.9h0M355.5 309.1h0" stroke="#423f86" stroke-opacity="0.77"/><path d="M312.5 307.8h0M517.9 311.8h0" stroke="#423f86" stroke-opacity="0.77"/><path d="M312.1 305.4h0M517.4 308.4h0" stroke="#423f86" stroke-opacity="0.77"/><path d="M322.1 355.2h0M521.7 356.6h0M325.7 362.4h0M518.7 362.5h0" stroke="#365d8d" stroke-opacity="0.77"/><path d="M321.7 352.2h0M325.3 359.3h0M518 357.1h0" stroke="#365d8d" stroke-opacity="0.77"/><path d="M422.4 402.5h0M413.7 406.2h0M338.3 407.3h0M429.7 401.5h0M404.6 409.5h0M420.3 408.5h0M411 412.4h0M428.3 407.3h0M344.3 414.5h0M435.8 408.7h0M418.2 414.9h0" stroke="#2a778e" stroke-opacity="0.77"/><path d="M421.4 405.5h0M338 403.2h0M412.4 409.3h0M429 404.4h0M402.9 412.7h0M419.3 411.7h0M409.6 415.7h0M344 410.2h0M427.6 410.4h0" stroke="#2a778e" stroke-opacity="0.77"/><path d="M511.1 243.5h0M512.8 252.2h0M373.3 244.2h0" stroke="#48186a" stroke-opacity="0.77"/><path d="M512.1 248.1h0" stroke="#48186a" stroke-opacity="0.77"/><path d="M511.9 246.5h0" stroke="#48186a" stroke-opacity="0.77"/><path d="M512.5 250.6h0" stroke="#48186a" stroke-opacity="0.77"/><path d="M512.3 249h0" stroke="#48186a" stroke-opacity="0.77"/><path d="M512 247.5h0" stroke="#48186a" stroke-opacity="0.77"/><path d="M511.8 246h0" stroke="#48186a" stroke-opacity="0.77"/><path d="M513.4 255.6h0M512.4 249.7h0M514.2 263h0" stroke="#481e6f" stroke-opacity="0.77"/><path d="M512.7 251.3h0M513.8 258.3h0" stroke="#481e6f" stroke-opacity="0.77"/><path d="M513.1 253.9h0" stroke="#481e6f" stroke-opacity="0.77"/><path d="M513.4 258.4h0" stroke="#481e6f" stroke-opacity="0.77"/><path d="M513.2 256.6h0" stroke="#481e6f" stroke-opacity="0.77"/><path d="M516.7 373.4h0M500.4 378.6h0M326.8 372.1h0M509.5 377.1h0M513.5 380.3h0M331.4 381.1h0M505.7 383.8h0" stroke="#30688e" stroke-opacity="0.77"/><path d="M502.1 380.3h0M511.5 378.7h0M331.1 377.6h0M507.5 385.6h0" stroke="#30688e" stroke-opacity="0.77"/><path d="M503.9 382.1h0" stroke="#30688e" stroke-opacity="0.77"/><path d="M383.8 224.1h0M391.1 218.8h0M390.4 225.2h0" stroke="#46075b" stroke-opacity="0.77"/><path d="M386 225.6h0M393 220.2h0M389.8 229.8h0" stroke="#46075b" stroke-opacity="0.77"/><path d="M384.5 225.4h0M391.9 227.6h0" stroke="#46075b" stroke-opacity="0.77"/><path d="M383 223.7h0M388.7 226.7h0" stroke="#46075b" stroke-opacity="0.77"/><path d="M386.7 226.2h0" stroke="#46075b" stroke-opacity="0.77"/><path d="M522.2 340.3h0M321.3 349.2h0M520.9 351.3h0M520.2 346.2h0M325 356.2h0" stroke="#38588c" stroke-opacity="0.77"/><path d="M320.9 346.3h0M517.4 352.1h0" stroke="#38588c" stroke-opacity="0.77"/><path d="M359.9 422.3h0M365.1 428.1h0" stroke="#277f8e" stroke-opacity="0.77"/><path d="M522.5 362.3h0M326.5 368.8h0M519.5 368.1h0M330.7 374.2h0" stroke="#33628d" stroke-opacity="0.77"/><path d="M326.1 365.6h0" stroke="#33628d" stroke-opacity="0.77"/><path d="M310.6 296.4h0M518.6 294.9h0M383.8 290.9h0M369 294.2h0M518.1 300h0M311.7 303.1h0M346.8 298.9h0M394 301.4h0" stroke="#443983" stroke-opacity="0.77"/><path d="M310.2 294.1h0M311.4 300.8h0" stroke="#443983" stroke-opacity="0.77"/><path d="M317.6 335h0M521.5 335.6h0M320.6 343.4h0M519.5 341.5h0" stroke="#3b528b" stroke-opacity="0.77"/><path d="M317.2 332.3h0M320.2 340.6h0M518.9 336.9h0" stroke="#3b528b" stroke-opacity="0.77"/><path d="M319.8 337.9h0" stroke="#3b528b" stroke-opacity="0.77"/><path d="M515.5 268.2h0M514.6 263h0" stroke="#482677" stroke-opacity="0.77"/><path d="M515 267.9h0" stroke="#482677" stroke-opacity="0.77"/><path d="M516.9 279.3h0M515.9 273.4h0M387.3 275.5h0M318 280.4h0M380.4 282.5h0" stroke="#472c7b" stroke-opacity="0.77"/><path d="M516.4 281.3h0M515.5 275.4h0" stroke="#472c7b" stroke-opacity="0.77"/><path d="M376.8 232.7h0M431.7 241.1h0M395.6 238.6h0M395.3 233.1h0M384 234.6h0" stroke="#470f62" stroke-opacity="0.77"/><path d="M380.1 233.8h0M395.5 234.4h0" stroke="#470f62" stroke-opacity="0.77"/><path d="M359.1 325h0M520.8 331.1h0M316.8 329.6h0M371.4 325.3h0M316 324.4h0M319.5 335.2h0" stroke="#3d4c8a" stroke-opacity="0.77"/><path d="M520.2 326.9h0M316.4 327h0M518.3 332.6h0" stroke="#3d4c8a" stroke-opacity="0.77"/><path d="M439.4 188.4h0M468.3 192.2h0M430.1 196.4h0M411.9 212.4h0M435.7 191.7h0M405.4 218.6h0M426.3 200.3h0M472.7 195.3h0M401 222.8h0M462.4 188.1h0M421.8 205h0M477.9 199.1h0M483.7 203.2h0M416.6 210.4h0M444.2 186.5h0M451.2 186.6h0M489.1 207h0M391.5 224.9h0M496.6 212.3h0M435.3 196.8h0M501.5 215.9h0M447.5 190.4h0M432.4 201.2h0M427.5 206h0M411.8 219h0M442.7 192.1h0M453 191.5h0M408.3 222.9h0M456.5 186.9h0M417.5 215.8h0M423.9 211h0M449.6 195.3h0M441 197h0M454.9 196.6h0M415.8 222.2h0M437.7 201.6h0M445.9 198.8h0M412.7 226.5h0M459.3 192.1h0M453.3 201.4h0M433.8 206.5h0M429.2 211.8h0M424.2 216.9h0M458.8 200.1h0M448.8 203.7h0M443.7 203.8h0M458.4 206h0M464 194.9h0M439.2 207h0M452.8 207.3h0M435.8 211.3h0M446.9 208.7h0M460.1 210.7h0M417.5 227.9h0" stroke="#440154" stroke-opacity="0.81"/><path d="M436.3 191h0M441.2 187h0M469 192.7h0M429.4 197.1h0M409 215.2h0M425.4 201.3h0M473.8 196.1h0M462.8 188.4h0M420.3 206.6h0M479.6 200.3h0M486.2 205h0M414.4 212.8h0M434.9 195.8h0M450 186.8h0M492.5 209.4h0M404.6 223h0M446 189.7h0M441.7 192.3h0M452.9 191.2h0M431.8 202.1h0M426.5 207.5h0M419.6 213.2h0M455 186.7h0M415.1 218.9h0M448.5 194.1h0M439.6 197.2h0M454.7 196.1h0M408.4 227.2h0M444.7 197.5h0M458.2 190.7h0M501.1 215.9h0M450 199.3h0M437.3 202.6h0M456.5 200.8h0M419.8 220.3h0M425.7 214.3h0M433.1 207.9h0M443.8 202.8h0M462.7 193.5h0M454.2 205.4h0M448.8 204.7h0M414.3 228.6h0M458.9 207.4h0M441.1 207.4h0M496.6 212.9h0M425 219.3h0M466.3 197.4h0M451.1 210h0M432.2 214.6h0" stroke="#440154" stroke-opacity="0.81"/><path d="M439.2 188.7h0M435.4 192.1h0M469.8 193.3h0M428.8 197.8h0M424.3 202.4h0M475 197h0M463.2 188.7h0M418.6 208.4h0M481.5 201.6h0M443.7 186.4h0M411.7 215.6h0M451.3 186.8h0M434.1 196.9h0M417 213.1h0M429.3 203.5h0M447.5 190.1h0M440 193.9h0M453.2 191.8h0M425.3 209.1h0M485.8 205h0M456.7 187.2h0M422.3 213.2h0M445.2 194.5h0M492.1 209.5h0M412.1 222.6h0M434.5 202.1h0M451 196.4h0M438.8 199.2h0M418.4 218.7h0M496.2 212.4h0M455.6 198.5h0M444.4 199.4h0M431.2 208.2h0M458 192.8h0M450.3 201.6h0M457.5 203.7h0M417.3 224.1h0M441.9 203.7h0M428 214h0M463.3 194.2h0M437.5 206.5h0M452.6 206h0M447 206h0M459.5 209h0M442.8 208.9h0" stroke="#440154" stroke-opacity="0.81"/><path d="M436 191.4h0M441.1 187.2h0M470.7 193.9h0M428 198.5h0M432.7 195.1h0M423.1 203.7h0M476.4 198h0M463.7 189.1h0M450.6 186.7h0M408.5 218.9h0M420.7 208.8h0M446.1 189h0M414.6 215.8h0M433 200.3h0M428.5 204.7h0M441.6 192.6h0M481.2 201.6h0M451.1 191.7h0M437.7 196.3h0M455.7 187.5h0M488.7 207h0M446.3 194.1h0M454.5 195.6h0M420.5 215.7h0M426.5 210.2h0M449.9 198h0M443.2 198h0M439.4 201.2h0M458.9 191.6h0M434.5 205.2h0M454.8 200.8h0M447.1 202.7h0M457.9 204.8h0M465.7 193.9h0M431.4 211.4h0M441.4 206.1h0M426.6 216.4h0M460.5 196.6h0M450.8 207h0M420.1 223.6h0M455.2 209.5h0M438.3 210.1h0" stroke="#440154" stroke-opacity="0.81"/><path d="M439 188.9h0M435.1 192.4h0M471.6 194.6h0M427.2 199.4h0M431.7 196.2h0M443.2 186.3h0M464.2 189.4h0M424.8 204.1h0M450.1 187.1h0M419 210.8h0M476 197.9h0M445.8 190.6h0M439.8 194.3h0M452.1 191.6h0M431.1 203.1h0M483.3 203.2h0M455.2 186.9h0M436.3 198.8h0M427.6 208.5h0M448.5 195.4h0M453.6 196.7h0M423.6 214.5h0M441.6 199.2h0M458.5 191.1h0M447.2 200.2h0M456.8 201.7h0M436.4 204.7h0M488.9 207.3h0M452.2 203.7h0M441.7 204.8h0M422.3 219.9h0M461.7 195h0M433.9 210.5h0M454.8 208h0M447 207.3h0M429.3 215.8h0M461.5 205.7h0M440.4 210.5h0" stroke="#440154" stroke-opacity="0.81"/><path d="M440.9 187.4h0M434.7 192.8h0M431.2 196.8h0M464.7 189.8h0M427.8 200.7h0M469.4 193.2h0M423.6 205.5h0M451.4 187h0M445.8 186.8h0M474.7 196.9h0M439.9 192.4h0M479.3 200.2h0M421.4 211h0M448.4 191.2h0M453.3 192.2h0M437.1 197.5h0M433.7 201.2h0M429.6 205.5h0M457 187.5h0M443.9 195.3h0M449.7 196.3h0M455.1 197.2h0M421.9 217.2h0M483.3 203.3h0M427.1 212.1h0M441.1 200.7h0M451.7 200.9h0M459.7 192.6h0M457.1 202.6h0M435.9 205.9h0M447.1 203.7h0M492.4 209.9h0M464.7 195.6h0M443.1 207.4h0M450.9 208.4h0M433.1 212.5h0M457.2 208.8h0" stroke="#440154" stroke-opacity="0.81"/><path d="M438.8 189.2h0M434.4 193.2h0M442.8 186.2h0M430.6 197.5h0M465.3 190.2h0M426.9 201.8h0M470.3 193.8h0M450.7 186.9h0M422.3 207h0M477.6 199h0M445.9 190h0M435.6 198.1h0M451.2 192h0M439.6 194.8h0M455.9 187.8h0M428.7 206.9h0M432.5 203.2h0M445.1 194.9h0M452.4 197.2h0M425.2 212.2h0M460.1 190.8h0M441.4 199.9h0M447.2 199.5h0M457.3 197h0M485.9 205.2h0M453.5 202.2h0M438.4 204.1h0M443.5 204.9h0M434.6 208.8h0M459.7 202h0M448.9 205.9h0M462.2 195.8h0M456.8 207.3h0M430.4 213.4h0" stroke="#440154" stroke-opacity="0.81"/><path d="M442.4 186.1h0M438.6 189.4h0M434 193.7h0M430 198.2h0M465.9 190.6h0M425.9 202.9h0M448.8 186.9h0M471.3 194.5h0M452.6 190.3h0M423 209h0M445 190.5h0M435.1 198.8h0M441.1 193.8h0M458.5 187.4h0M449.6 194.4h0M475.8 197.9h0M431.8 204.3h0M455.9 194.2h0M440.3 198.9h0M452.6 198.4h0M481.1 201.7h0M445.9 198.2h0M428.3 210.1h0M436.9 203.6h0M461.1 191.8h0M455.4 202.6h0M448.7 202.7h0M443.3 206.1h0M436.4 209.5h0M462.9 196.5h0M460.9 204.3h0M448.9 208.6h0M486 205.5h0M455.6 211.3h0" stroke="#440154" stroke-opacity="0.81"/><path d="M440.8 187.6h0M433.6 194.1h0M429.3 199h0M466.5 191.1h0M438.5 192h0M462.4 188.2h0M450.1 187.3h0M472.3 195.2h0M426.6 204.4h0M445.1 190.2h0M452.2 192h0M434.7 199.6h0M455.5 187.2h0M442.9 194.7h0M477.4 199h0M448.5 195.9h0M453.8 197.3h0M440 199.6h0M432.7 205.4h0M457.3 191.8h0M445.7 200.2h0M430.2 209.9h0M453.7 203.2h0M458.4 199.2h0M438 205.3h0M445.1 206.1h0M483.3 203.6h0M465.4 196.5h0M453 208.8h0M457.7 210.5h0" stroke="#440154" stroke-opacity="0.81"/><path d="M442.3 186.3h0M440.6 187.8h0M438.4 189.7h0M442.2 186.4h0M440.5 188.1h0M438.2 189.9h0M440.3 188.3h0M442.1 186.6h0M438 190.2h0M440.2 188.5h0M441.9 186.8h0M437.8 190.5h0M440 188.7h0M441.8 187h0M437.5 190.8h0M439.8 189h0M441.7 187.2h0M439.7 189.2h0M437.3 191.1h0M441.5 187.4h0M433.2 194.6h0M439.5 189.4h0M441.4 187.6h0M437 191.4h0M439.3 189.7h0M441.3 187.9h0M436.8 191.7h0M442.7 186.4h0M439.1 190h0M441.1 188.1h0M436.5 192.1h0M442.6 186.6h0M432.2 195.6h0M438.9 190.2h0M441 188.3h0M436.2 192.4h0M442.4 186.8h0M438.7 190.5h0M440.8 188.5h0M435.9 192.8h0M442.3 187h0M440.7 188.7h0M438.5 190.8h0M442.2 187.2h0M435.6 193.2h0M440.5 189h0M438.3 191.1h0M442.1 187.4h0M440.4 189.2h0M435.3 193.6h0M438.1 191.4h0M441.9 187.6h0M440.2 189.5h0M437.9 191.7h0M434.9 194h0M443.1 186.5h0M441.8 187.8h0M440 189.7h0M437.6 192h0M443 186.7h0M434.6 194.5h0M441.7 188h0M439.9 190h0M437.4 192.4h0M442.9 186.9h0M441.5 188.3h0M434.2 195h0M439.7 190.2h0M437.1 192.7h0M442.8 187.1h0M441.4 188.5h0M439.5 190.5h0M433.8 195.5h0M428.6 199.8h0M442.7 187.3h0M436.8 193.1h0M441.3 188.7h0M439.3 190.8h0M442.5 187.6h0M433.3 196h0M441.1 189h0M443.6 186.6h0M436.5 193.5h0M439.1 191.1h0M442.4 187.8h0M441 189.2h0M443.5 186.8h0M436.2 193.9h0M438.9 191.4h0M432.9 196.6h0M442.3 188h0M440.8 189.5h0M443.4 187.1h0M438.7 191.7h0M435.9 194.3h0M442.2 188.2h0M432.4 197.2h0M440.7 189.7h0M467.2 191.5h0M443.3 187.3h0M435.6 194.8h0M442 188.4h0M440.5 190h0M444.1 186.8h0M443.2 187.5h0M431.9 197.9h0M438.3 192.4h0M467.9 192h0M441.9 188.7h0M440.3 190.2h0M435.3 195.3h0M444 187h0M443 187.7h0M438 192.7h0M441.8 188.9h0M440.2 190.5h0M444.7 186.7h0M431.3 198.6h0M443.9 187.2h0M442.9 187.9h0M468.6 192.6h0M437.8 193.1h0M441.6 189.2h0M440 190.8h0M444.6 186.9h0M443.8 187.4h0M442.8 188.2h0M430.7 199.4h0M434.5 196.3h0M441.5 189.4h0M437.5 193.5h0M439.8 191.1h0M444.6 187.1h0M443.7 187.6h0M442.7 188.4h0M445.3 186.7h0M441.4 189.7h0M437.3 193.9h0M439.6 191.4h0M444.5 187.3h0M443.6 187.8h0M442.6 188.6h0M430 200.2h0M445.2 187h0M441.2 189.9h0M439.4 191.7h0M437 194.3h0M444.4 187.5h0M443.5 188.1h0M442.5 188.9h0M445.1 187.2h0M433.6 197.5h0M462.8 188.5h0M449.4 186.9h0M441.1 190.2h0M446.4 186.9h0M451.5 187.3h0M450.8 187.2h0M439.2 192.1h0M445.8 187h0M448.2 187h0M429.3 201.1h0M444.3 187.7h0M443.4 188.3h0M442.4 189.1h0M447.6 187h0M436.7 194.8h0M447 186.9h0M445.1 187.4h0M448.9 187.2h0M450.2 187.5h0M449.5 187.1h0M440.9 190.5h0M446.4 187.1h0M463.3 188.9h0M433.2 198.2h0M451.5 187.5h0M450.8 187.4h0M445.7 187.2h0M439 192.4h0M448.2 187.2h0M444.2 188h0M443.3 188.5h0M442.2 189.4h0M447.6 187.2h0M447 187.1h0M445 187.6h0M436.4 195.3h0M448.9 187.4h0M450.2 187.7h0M449.5 187.3h0M440.8 190.8h0M446.4 187.3h0M428.5 202.1h0M451.6 187.7h0M450.9 187.6h0M445.7 187.5h0M443.2 188.8h0M444.1 188.2h0M448.3 187.4h0M442.1 189.6h0M438.8 192.8h0M463.8 189.2h0M447.6 187.4h0M447 187.4h0M432.6 198.9h0M444.9 187.8h0M448.9 187.6h0M450.3 187.9h0M449.5 187.5h0M440.6 191.1h0M436 195.8h0M446.3 187.5h0M452.1 186.3h0M451.7 187.9h0M451 187.8h0M443.1 189h0M444.1 188.4h0M445.6 187.7h0M442 189.9h0M448.3 187.6h0M438.6 193.1h0M447.6 187.6h0M447 187.6h0M444.9 188.1h0M448.9 187.8h0M450.3 188.2h0M449.6 187.8h0M440.4 191.4h0M464.3 189.6h0M446.3 187.8h0M427.6 203.2h0M432.1 199.7h0M451.8 188.2h0M435.7 196.3h0M451 188.1h0M452.2 186.5h0M443 189.3h0M444 188.7h0M441.8 190.2h0M445.6 187.9h0M448.3 187.8h0M438.3 193.5h0M447.6 187.8h0M446.9 187.8h0M444.8 188.3h0M448.9 188.1h0M450.4 188.4h0M473.4 196h0M449.6 188h0M440.2 191.7h0M446.3 188h0M451.9 188.4h0M442.9 189.5h0M451.1 188.3h0M443.9 188.9h0M441.7 190.5h0M445.5 188.2h0M448.3 188.1h0M464.9 190h0M452.3 186.7h0M447.6 188.1h0M446.9 188h0M444.7 188.5h0M438.1 193.9h0M449 188.3h0M450.4 188.7h0M431.5 200.5h0M449.7 188.2h0M440.1 192.1h0M446.2 188.2h0M452 188.7h0M442.8 189.8h0M451.2 188.5h0M443.8 189.2h0M441.6 190.7h0M445.5 188.4h0M448.3 188.3h0M452.4 186.9h0M447.6 188.3h0M446.9 188.3h0M444.7 188.8h0M450.5 188.9h0M449 188.5h0M437.8 194.4h0M449.7 188.5h0M434.9 197.4h0M465.5 190.4h0M446.2 188.5h0M452.1 188.9h0M442.7 190.1h0M443.7 189.4h0M451.2 188.8h0M445.4 188.6h0M441.4 191h0M448.3 188.5h0M430.8 201.4h0M447.6 188.5h0M446.9 188.5h0M444.6 189h0M452.5 187.2h0M450.5 189.1h0M449 188.8h0M449.7 188.7h0M446.1 188.7h0M437.6 194.8h0M439.7 192.8h0M452.2 189.2h0M442.5 190.4h0M443.6 189.7h0M451.3 189h0M448.3 188.8h0M445.4 188.9h0M425.6 205.8h0M434.5 198.1h0M441.3 191.4h0M466.1 190.9h0M447.6 188.8h0M446.9 188.8h0M444.5 189.3h0M450.6 189.4h0M449 189h0M452.6 187.4h0M449.8 189h0M439.5 193.1h0M452.3 189.4h0M437.3 195.3h0M443.5 190h0M442.4 190.7h0M451.4 189.3h0M448.3 189h0M445.3 189.1h0M430.1 202.4h0M441.1 191.7h0M447.6 189h0M446.8 189h0M450.6 189.7h0M444.4 189.6h0M449.1 189.3h0M434 198.8h0M449.8 189.2h0M452.8 187.7h0M446.1 189.2h0M466.8 191.4h0M443.4 190.2h0M452.4 189.7h0M442.3 191h0M451.5 189.6h0M448.3 189.3h0M445.2 189.4h0M439.3 193.5h0M440.9 192h0M437 195.8h0M447.6 189.3h0M446.8 189.3h0M450.7 189.9h0M449.1 189.5h0M444.3 189.8h0M424.3 207.3h0M449.9 189.5h0M452.9 187.9h0M446 189.5h0M443.3 190.5h0M448.3 189.5h0M452.5 190h0M451.6 189.8h0M442.2 191.3h0M445.2 189.7h0M433.5 199.5h0M439 193.9h0M447.6 189.6h0M440.8 192.4h0M446.8 189.5h0M450.8 190.2h0M449.1 189.8h0M444.3 190.1h0M467.5 191.9h0M436.7 196.3h0M449.9 189.7h0M453 188.2h0M448.3 189.8h0M462.3 188.2h0M443.2 190.8h0M451.6 190.1h0M445.1 189.9h0M442 191.6h0M447.5 189.8h0M446.8 189.8h0M450.8 190.5h0M440.6 192.7h0M449.1 190.1h0M438.8 194.4h0M444.2 190.4h0M449.9 190h0M436.3 196.9h0M453.1 188.4h0M448.3 190.1h0M443.1 191.1h0M451.7 190.4h0M452.7 190.6h0M441.9 191.9h0M468.3 192.4h0M446.7 190.1h0M449.2 190.3h0M450.9 190.8h0M444.1 190.7h0M440.4 193.1h0M462.8 188.6h0M438.5 194.8h0M450 190.3h0M445.9 190.3h0M448.3 190.4h0M451.8 190.7h0M453.3 188.7h0M443 191.5h0M452.8 190.9h0M435.9 197.5h0M446.7 190.3h0M449.2 190.6h0M451 191.1h0M444 191h0M440.2 193.5h0M450 190.6h0M438.3 195.3h0M463.3 189h0M448.4 190.7h0M469.1 193h0M444.9 190.8h0M451.9 191h0M442.8 191.8h0M453.4 189h0M447.5 190.7h0M446.7 190.6h0M449.2 190.9h0M451 191.4h0M443.9 191.3h0M450.1 190.9h0M445.8 190.9h0M448.4 190.9h0M438 195.8h0M444.8 191.1h0M452 191.3h0M447.5 190.9h0M453.8 186.4h0M446.6 190.9h0M453.5 189.3h0M449.2 191.2h0M441.4 193h0M463.8 189.3h0M443.8 191.6h0M450.1 191.2h0M445.7 191.2h0M470 193.7h0M444.8 191.4h0M447.5 191.3h0M442.6 192.5h0M449.3 191.5h0M446.6 191.2h0M453.7 189.6h0M441.3 193.4h0M453.9 186.7h0M443.7 191.9h0M450.2 191.5h0M445.7 191.5h0M448.4 191.6h0M464.4 189.8h0M444.7 191.7h0M447.5 191.6h0M442.5 192.8h0M449.3 191.8h0M446.6 191.5h0M451.3 192.4h0M453.8 189.9h0M443.6 192.3h0M437.4 196.9h0M450.2 191.8h0M470.9 194.4h0M454.1 187h0M445.6 191.8h0M448.4 191.9h0M444.6 192.1h0M439.3 195.2h0M447.5 191.9h0M452.3 192.3h0M449.3 192.2h0M446.5 191.9h0M442.3 193.2h0M453.4 192.5h0M451.3 192.7h0M465 190.2h0M443.5 192.6h0M454 190.2h0M450.3 192.1h0M440.9 194.2h0M430.4 204.3h0M445.6 192.2h0M448.4 192.2h0M454.3 187.2h0M434.2 200.4h0M444.5 192.4h0M447.5 192.2h0M452.4 192.7h0M449.4 192.5h0M446.5 192.2h0M439.1 195.7h0M451.4 193.1h0M442.2 193.6h0M453.6 192.9h0M472 195.1h0M443.4 193h0M450.4 192.5h0M454.2 190.5h0M440.7 194.6h0M445.5 192.5h0M448.4 192.6h0M465.7 190.7h0M454.5 187.5h0M447.5 192.6h0M444.5 192.8h0M436.7 198.1h0M449.4 192.9h0M446.5 192.6h0M452.5 193h0M451.5 193.4h0M442 194h0M453.7 193.3h0M438.8 196.3h0M450.4 192.9h0M443.3 193.4h0M445.5 192.9h0M454.3 190.9h0M440.5 195.1h0M448.4 192.9h0M447.4 192.9h0M444.4 193.2h0M449.4 193.2h0M446.4 192.9h0M452.6 193.4h0M454.7 187.8h0M451.6 193.8h0M473.2 196h0M441.9 194.4h0M453.9 193.7h0M450.5 193.2h0M466.3 191.2h0M443.2 193.8h0M462.2 188.3h0M438.6 196.8h0M445.4 193.2h0M454.5 191.2h0M448.4 193.3h0M440.3 195.6h0M447.4 193.3h0M444.3 193.5h0M449.5 193.6h0M433.1 202.1h0M446.4 193.3h0M452.8 193.8h0M451.7 194.3h0M454.9 188.1h0M454 194.1h0M450.5 193.6h0M441.7 194.9h0M443 194.2h0M445.3 193.6h0M448.5 193.7h0M454.7 191.6h0M435.9 199.5h0M438.3 197.4h0M447.4 193.7h0M462.7 188.6h0M440.1 196.1h0M467.1 191.7h0M444.2 194h0M446.4 193.7h0M449.5 194h0M452.9 194.3h0M474.4 196.9h0M451.8 194.7h0M457.3 187.8h0M450.6 194h0M454.2 194.6h0M455.1 188.4h0M456.2 188.1h0M441.5 195.4h0M445.3 194h0M454.9 192h0M447.4 194.1h0M438 198h0M444.1 194.4h0M439.9 196.6h0M435.5 200.3h0M453 194.7h0M451.9 195.1h0M458.9 187.7h0M463.2 189h0M450.7 194.4h0M467.8 192.3h0M454.3 195.1h0M457.6 188.1h0M441.4 195.9h0M442.8 195.1h0M455.3 188.7h0M448.5 194.5h0M456.4 188.4h0M455 192.4h0M447.4 194.5h0M446.3 194.5h0M449.6 194.9h0M444 194.8h0M453.2 195.2h0M437.6 198.7h0M452 195.6h0M450.7 194.9h0M435 201.2h0M459.2 188h0M442.6 195.6h0M448.5 194.9h0M441.2 196.4h0M463.8 189.5h0M455.5 189h0M457.9 188.4h0M456.7 188.8h0M447.4 195h0M455.2 192.8h0M446.2 195h0M468.7 192.9h0M453.3 195.7h0M452.1 196.1h0M439.3 197.8h0M450.8 195.4h0M437.3 199.4h0M445 195.4h0M461.1 187.9h0M442.5 196.1h0M459.6 188.4h0M447.4 195.4h0M455.7 189.4h0M458.3 188.8h0M457 189.1h0M455.5 193.2h0M446.2 195.4h0M449.7 195.8h0M431.1 205.5h0M443.8 195.8h0M464.4 189.9h0M453.5 196.2h0M452.2 196.6h0M450.9 195.8h0M445 195.9h0M439.1 198.5h0M469.6 193.5h0M442.3 196.7h0M436.9 200.2h0M447.3 195.9h0M461.6 188.3h0M440.8 197.6h0M456 189.7h0M446.2 195.9h0M455.7 193.7h0M460 188.7h0M443.6 196.3h0M457.2 189.5h0M458.6 189.1h0M434 203.1h0M465 190.4h0M444.9 196.4h0M448.5 196.4h0M430.2 206.9h0M442.1 197.2h0M447.3 196.4h0M446.1 196.4h0M440.5 198.2h0M449.8 196.9h0M456.2 190.1h0M436.5 201h0M443.5 196.8h0M462.1 188.7h0M457.5 189.8h0M470.6 194.3h0M460.5 189.1h0M479.1 200.3h0M459 189.5h0M451.1 196.9h0M452.5 197.8h0M444.8 196.9h0M448.6 196.9h0M447.3 197h0M465.7 190.9h0M442 197.8h0M433.4 204.2h0M455.4 197.8h0M438.4 199.9h0M446 197h0M449.9 197.4h0M456.5 190.5h0M443.4 197.4h0M456.2 194.7h0M457.9 190.2h0M436.1 201.9h0M462.6 189.1h0M451.2 197.5h0M459.3 189.9h0M460.9 189.5h0M429.3 208.4h0M454 197.9h0M448.6 197.5h0M447.3 197.5h0M471.7 195h0M441.8 198.5h0M446 197.6h0M438.1 200.7h0M456.7 190.9h0M456.4 195.2h0M466.4 191.4h0M451.3 198.1h0M454.2 198.6h0M452.8 199.1h0M448.6 198.1h0M444.6 198.1h0M459.7 190.4h0M461.4 190h0M463.2 189.5h0M435.6 202.9h0M447.3 198.1h0M450 198.6h0M455.9 199.2h0M443.1 198.7h0M457 191.3h0M456.7 195.8h0M439.7 200.3h0M472.8 195.9h0M451.4 198.7h0M467.2 192h0M448.6 198.7h0M444.5 198.8h0M454.4 199.3h0M452.9 199.8h0M447.3 198.8h0M461.9 190.4h0M463.8 190h0M432 206.7h0M435 204h0M456.2 200h0M442.9 199.4h0M457 196.4h0M451.5 199.4h0M448.6 199.4h0M453.1 200.5h0M454.6 200h0M460.6 191.3h0M468.1 192.6h0M445.8 199.5h0M474.1 196.8h0M462.4 190.9h0M450.1 200h0M464.4 190.5h0M442.8 200.1h0M457.7 192.3h0M451.6 200.2h0M448.7 200.2h0M439.1 202.1h0M444.3 200.2h0M450.2 200.8h0M463 191.4h0M440.9 201.5h0M469 193.3h0M442.6 200.9h0M457.6 197.7h0M465.1 191h0M448.7 200.9h0M475.6 197.9h0M444.1 201h0M438.8 203h0M447.2 201h0M455.1 201.7h0M445.6 201h0M461.6 192.3h0M458.4 193.3h0M440.6 202.4h0M463.6 192h0M442.4 201.8h0M458 198.4h0M451.9 201.8h0M470 194h0M465.8 191.6h0M448.7 201.8h0M444 201.8h0M460.1 193.1h0M447.2 201.8h0M445.6 201.9h0M462.1 192.9h0M450.4 202.5h0M477.2 199.1h0M458.7 193.9h0M440.3 203.4h0M442.2 202.7h0M464.2 192.6h0M452 202.7h0M466.6 192.2h0M460.6 193.7h0M471.1 194.9h0M454 204.2h0M445.5 202.8h0M455.7 203.7h0M450.4 203.5h0M459.1 194.5h0M440 204.5h0M432.3 209.5h0M435.3 207.3h0M464.9 193.2h0M479 200.4h0M461.1 194.3h0M467.5 192.9h0M445.4 203.8h0M456 204.8h0M450.5 204.6h0M472.3 195.7h0M459.6 195.1h0M459.3 201h0M439.6 205.7h0M452.4 204.8h0M447.1 204.8h0M445.3 204.9h0M468.4 193.6h0M454.5 206.6h0M456.4 206h0M460 195.8h0M450.7 205.7h0M481 201.9h0M437 208h0M473.6 196.7h0M466.5 194.7h0M469.4 194.4h0M460.3 203.1h0M448.9 207.2h0M475.1 197.8h0M467.4 195.5h0M438.8 208.5h0M445 207.4h0M461.1 197.4h0M470.5 195.2h0M463.5 197.4h0M440.7 208.9h0M468.4 196.4h0M476.7 199h0M461.7 198.3h0M444.9 208.9h0M471.8 196.2h0M464.3 198.3h0M449 210.2h0" stroke="#440154" stroke-opacity="0.81"/><path d="M324.6 353.2h0M513.7 357.7h0M329.5 361.3h0M509.1 363h0" stroke="#38578c" stroke-opacity="0.81"/><path d="M324.3 350.3h0M513.1 352.9h0M329.2 358.3h0" stroke="#38578c" stroke-opacity="0.81"/><path d="M328.9 355.3h0" stroke="#38578c" stroke-opacity="0.81"/><path d="M408.1 419.1h0M426.8 413.6h0M435.3 411.8h0M351 418.9h0M417 418.2h0M443.6 412.5h0M425.1 420.2h0M434.4 418.2h0M358.7 420.2h0M443.3 418.9h0" stroke="#2a778e" stroke-opacity="0.81"/><path d="M426 416.8h0M434.9 414.9h0M350.8 414.5h0M415.9 421.7h0M443.5 415.6h0M424.3 423.7h0M433.9 421.5h0" stroke="#2a778e" stroke-opacity="0.81"/><path d="M512.9 254.9h0M511.8 248.6h0M382.2 252.7h0M511.9 260.8h0" stroke="#48176a" stroke-opacity="0.81"/><path d="M512.6 253.3h0M511.6 247.1h0M511.6 259.1h0" stroke="#48176a" stroke-opacity="0.81"/><path d="M512.3 251.7h0M512.4 256.9h0" stroke="#48176a" stroke-opacity="0.81"/><path d="M512.1 250.1h0M512.2 255.3h0" stroke="#48176a" stroke-opacity="0.81"/><path d="M511.9 253.7h0" stroke="#48176a" stroke-opacity="0.81"/><path d="M511.7 252.1h0M511.3 257.4h0" stroke="#48176a" stroke-opacity="0.81"/><path d="M511.4 250.5h0M511.1 255.8h0" stroke="#48176a" stroke-opacity="0.81"/><path d="M330.4 370.9h0M515.6 373.8h0M336.2 380.9h0M510.7 379h0M335.7 374.1h0" stroke="#33628d" stroke-opacity="0.81"/><path d="M335.9 377.4h0" stroke="#33628d" stroke-opacity="0.81"/><path d="M517.7 328.5h0M319.1 332.5h0M515.6 338.3h0M323.4 341.7h0M322.8 336.3h0M512.1 343.9h0" stroke="#3d4c8a" stroke-opacity="0.81"/><path d="M318.8 329.9h0M515 334.1h0M323.1 339h0M511.6 339.7h0" stroke="#3d4c8a" stroke-opacity="0.81"/><path d="M376 297.4h0M516.9 305.2h0M411.5 307.5h0M516 299.1h0M313.5 307.3h0M389.3 301.7h0M515.1 310.5h0M397.1 307.3h0M381.3 303.7h0M370.4 311.5h0" stroke="#443983" stroke-opacity="0.81"/><path d="M516.5 302.1h0M514.7 307.3h0" stroke="#443983" stroke-opacity="0.81"/><path d="M514.3 304.3h0" stroke="#443983" stroke-opacity="0.81"/><path d="M514.6 270h0M404.4 273.3h0M379.4 272.9h0M513.3 281.1h0M344.7 277.5h0M310.4 281.5h0M512.3 274.5h0" stroke="#482676" stroke-opacity="0.81"/><path d="M514 274.3h0" stroke="#482676" stroke-opacity="0.81"/><path d="M512.9 278.8h0" stroke="#482676" stroke-opacity="0.81"/><path d="M512.6 276.6h0" stroke="#482676" stroke-opacity="0.81"/><path d="M336.7 388h0M342.8 390.6h0M505.2 386.7h0" stroke="#31678e" stroke-opacity="0.81"/><path d="M336.4 384.4h0M342.6 387h0" stroke="#31678e" stroke-opacity="0.81"/><path d="M484.2 396.1h0M476.3 399.1h0M502 391.9h0M493.4 394.8h0M343.2 398.2h0M486.7 400.8h0M496.4 399.3h0M350.3 402.2h0M489.3 405.8h0" stroke="#2e6d8e" stroke-opacity="0.81"/><path d="M485.4 398.4h0M477.2 401.5h0M503.7 394h0M494.9 397h0M343 394.4h0M488 403.3h0" stroke="#2e6d8e" stroke-opacity="0.81"/><path d="M397.4 423.1h0M384.9 428.5h0M406.6 422.7h0M393.4 430.6h0M358.8 424.8h0M414.6 425.3h0M403.3 430.1h0" stroke="#287c8e" stroke-opacity="0.81"/><path d="M395.4 426.7h0M382.4 432.4h0M405 426.3h0M391.3 434.5h0M413.4 429h0" stroke="#287c8e" stroke-opacity="0.81"/><path d="M314.5 314.5h0M360.1 313.8h0M358.6 309.1h0M516.1 317.2h0M335.2 310.4h0M317.5 319.7h0M513.5 322.7h0M391.5 316.2h0" stroke="#423f85" stroke-opacity="0.81"/><path d="M314.2 312.1h0M515.6 313.8h0M361.7 317.9h0M317.2 317.3h0M513.1 319.2h0" stroke="#423f85" stroke-opacity="0.81"/><path d="M313.8 309.7h0M512.6 315.8h0" stroke="#423f85" stroke-opacity="0.81"/><path d="M460.1 403.8h0M452 406.8h0M443.8 409.5h0M343.5 402.1h0M468.6 402.9h0M350.7 410.3h0M461 409.3h0M478.3 404.1h0M452.4 412.7h0M470 408.3h0M358.6 415.8h0" stroke="#2c728e" stroke-opacity="0.81"/><path d="M460.5 406.5h0M452.2 409.7h0M469.3 405.6h0M350.5 406.2h0M461.4 412.2h0M479.3 406.7h0M452.5 415.8h0M470.8 411.2h0" stroke="#2c728e" stroke-opacity="0.81"/><path d="M395.6 228.1h0M388.5 234.9h0M393.6 234.5h0M404.1 227.7h0M398.8 233.8h0M403.9 232.9h0M408.9 231.8h0M404 238.6h0M398.5 240.1h0M509.8 240.6h0" stroke="#46085c" stroke-opacity="0.81"/><path d="M399.8 228h0M392 234.1h0M410.5 234.4h0M509.6 239.3h0" stroke="#46085c" stroke-opacity="0.81"/><path d="M394.6 234.9h0" stroke="#46085c" stroke-opacity="0.81"/><path d="M390.5 234.6h0" stroke="#46085c" stroke-opacity="0.81"/><path d="M515.9 286h0M379.9 278.3h0M514.9 279.9h0M372.7 278.6h0M385.2 287.8h0M332.7 284.2h0M333.3 289.2h0M337.8 291.6h0" stroke="#472c7b" stroke-opacity="0.81"/><path d="M514.4 288.2h0M513.6 283.4h0M387.3 287.2h0" stroke="#472c7b" stroke-opacity="0.81"/><path d="M514 285.8h0" stroke="#472c7b" stroke-opacity="0.81"/><path d="M516.8 347.3h0M324 347.4h0M328.7 352.3h0" stroke="#3b528b" stroke-opacity="0.81"/><path d="M516.2 342.7h0M323.7 344.5h0M512.6 348.3h0" stroke="#3b528b" stroke-opacity="0.81"/><path d="M372.7 431.6h0" stroke="#277f8e" stroke-opacity="0.81"/><path d="M517.1 324.6h0M318.4 327.3h0M373.3 326.7h0M514.5 330.1h0M317.8 322.2h0M322.5 333.6h0" stroke="#404688" stroke-opacity="0.81"/><path d="M516.6 320.8h0M318.1 324.7h0M514 326.3h0" stroke="#404688" stroke-opacity="0.81"/><path d="M378.9 244.1h0M511.3 245.6h0M385.4 243.1h0M391.8 241.8h0M396.2 244.6h0M390.1 250.2h0" stroke="#471063" stroke-opacity="0.81"/><path d="M511.1 244.2h0M398 240.3h0M391.5 242.4h0M397.5 247.5h0" stroke="#471063" stroke-opacity="0.81"/><path d="M510.9 242.8h0M511.2 249h0" stroke="#471063" stroke-opacity="0.81"/><path d="M510.9 247.5h0M510 242h0" stroke="#471063" stroke-opacity="0.81"/><path d="M510.7 246.1h0" stroke="#471063" stroke-opacity="0.81"/><path d="M510.4 244.7h0" stroke="#471063" stroke-opacity="0.81"/><path d="M510.2 243.3h0" stroke="#471063" stroke-opacity="0.81"/><path d="M360.7 293.2h0M354.4 295.9h0M324.9 298.6h0M515.6 296.2h0M514.8 290.8h0M390.6 300.1h0M346.4 297.6h0M513.8 301.3h0" stroke="#46337f" stroke-opacity="0.81"/><path d="M515.2 293.5h0M513.4 298.5h0M326.6 295.6h0" stroke="#46337f" stroke-opacity="0.81"/><path d="M513.1 295.8h0" stroke="#46337f" stroke-opacity="0.81"/><path d="M330.1 367.7h0M514.9 368.1h0M514.3 362.8h0M510.2 373.4h0M509.6 368.1h0M335.4 370.8h0" stroke="#365d8d" stroke-opacity="0.81"/><path d="M329.8 364.5h0M335.2 367.5h0" stroke="#365d8d" stroke-opacity="0.81"/><path d="M513.8 265h0M391.4 267.9h0M512.7 258.7h0" stroke="#481f70" stroke-opacity="0.81"/><path d="M513 260.4h0M513.2 269.2h0" stroke="#481f70" stroke-opacity="0.81"/><path d="M512.4 264.4h0" stroke="#481f70" stroke-opacity="0.81"/><path d="M512.2 262.6h0" stroke="#481f70" stroke-opacity="0.81"/><path d="M453.3 210.4h0M469.5 197.3h0M442.6 210.5h0M462.3 199.2h0M435 213.3h0M501.7 216.7h0M423.2 222.8h0M427.9 218.6h0M478.6 200.4h0M460.8 212.6h0M462.2 207.2h0M489.2 207.8h0M456.5 215.4h0M449.1 214h0M433.3 218.2h0M467 201.7h0M483.1 203.7h0M462.6 217.4h0M473.4 201h0M438.9 216.9h0M444.1 216.8h0M418.1 232h0M428.3 223.6h0M451.9 218.5h0M457.7 220.8h0M497.4 213.8h0M465 223.9h0M446.5 222.2h0M437.5 223h0M470.7 206.4h0M433.6 226.1h0M467.6 218.2h0M452.5 225h0M429.2 229.4h0M475.6 207.3h0M424.4 232.8h0M459.5 228.4h0M493 211.1h0M508 236.1h0M443.1 226.5h0M481.7 208.5h0M470.7 211.8h0M449.6 229.9h0M464.2 232h0M435.5 231.6h0M507 230.2h0M471.2 225.5h0M453.4 234.4h0M476.3 213.4h0M430.5 236.4h0M446 235.7h0M466 238h0M438.2 236.8h0M473.6 230.4h0" stroke="#440154" stroke-opacity="0.85"/><path d="M446.9 210.3h0M437.8 212h0M467.2 198.4h0M473.1 197.2h0M456 213.2h0M431.1 217.2h0M480.7 201.9h0M426.3 221.8h0M461.7 214.8h0M463.1 208.8h0M420.9 226.9h0M451.7 215.9h0M492.9 210.5h0M464.6 202.7h0M446.7 216.5h0M441.5 216.8h0M470.7 202.1h0M435.6 219.1h0M460.5 219.8h0M485.9 205.8h0M452.2 221.5h0M430.8 225h0M426.6 227.7h0M440.6 222.7h0M467.8 207.4h0M502.9 217.8h0M462.7 227.2h0M446.4 225.9h0M455.9 226.3h0M436.6 226.9h0M507.8 234.9h0M469.2 221.5h0M432.2 230.7h0M477.8 209.6h0M427.3 234.8h0M460.6 233.5h0M439.2 231.1h0M468.5 233.2h0M497.8 214.6h0M506.8 229h0M484.7 211.2h0M472.5 214.5h0M449.8 235.2h0M434.1 237.4h0M442.2 236.6h0" stroke="#440154" stroke-opacity="0.85"/><path d="M444.7 210.5h0M451.2 211.7h0M458.3 212.4h0M465.1 199.3h0M439.9 212.4h0M470.6 198.4h0M434.2 215.6h0M429.8 220.1h0M464 210.7h0M476.3 199.7h0M457.1 217.9h0M449.2 216.3h0M424.4 225.6h0M463.7 220.4h0M438.2 219.7h0M472.1 203.6h0M443.8 219.5h0M466.6 205.6h0M422.1 230.3h0M466.2 215.3h0M480.5 202.9h0M449.4 221.9h0M458.5 224.3h0M489.1 208.2h0M466.6 228.1h0M439.9 226.5h0M452.9 229.2h0M507.6 233.7h0M474.1 210.7h0M446.2 230.3h0M480.3 212.3h0M506.7 227.9h0M457.6 236.4h0M503.7 219h0" stroke="#440154" stroke-opacity="0.85"/><path d="M449.1 212h0M463 200.3h0M442.3 212.3h0M437.2 214h0M468.3 199.5h0M474.6 198.4h0M458.9 214.5h0M453.9 214.3h0M432.1 221.3h0M465 212.8h0M449.3 218.9h0M454.8 219.4h0M441.1 219.5h0M469.3 204.7h0M477 204.2h0M461.5 223.2h0M483 204.9h0M449.5 225.5h0M507.4 232.5h0M456.6 230.8h0M442.7 231h0M489.6 210h0" stroke="#440154" stroke-opacity="0.85"/><path d="M453.6 212.2h0M446.8 212.1h0M466 200.5h0M439.4 214.5h0M472 199.6h0M459.7 217h0M478.3 201.2h0M446.6 219.1h0M434.7 222.3h0M473.7 205.3h0M455.3 222.5h0M479.2 206.2h0M469.2 209.5h0M486 207.2h0M507.2 231.3h0" stroke="#440154" stroke-opacity="0.85"/><path d="M444.5 212.4h0M451.4 213.7h0M463.8 201.4h0M469.4 200.7h0M436.4 216.4h0M475.1 202.5h0M443.5 222.7h0M472.3 208.4h0" stroke="#440154" stroke-opacity="0.85"/><path d="M446.8 214.2h0M454.3 216.6h0M468.1 203.1h0" stroke="#440154" stroke-opacity="0.85"/><path d="M441.9 214.4h0M465.5 204.1h0" stroke="#440154" stroke-opacity="0.85"/><path d="M444.3 214.4h0" stroke="#440154" stroke-opacity="0.85"/><path d="M365.7 272.7h0M512 272.5h0M378.9 264.2h0M511.1 266.7h0M371.9 273.6h0M334.5 276.9h0M330.7 269.5h0M395.5 272.4h0M507.8 279.2h0" stroke="#481f70" stroke-opacity="0.85"/><path d="M511.7 270.5h0M510.4 276.9h0" stroke="#481f70" stroke-opacity="0.85"/><path d="M511.4 268.6h0M510.1 274.8h0" stroke="#481f70" stroke-opacity="0.85"/><path d="M509.8 272.8h0" stroke="#481f70" stroke-opacity="0.85"/><path d="M509.5 270.9h0" stroke="#481f70" stroke-opacity="0.85"/><path d="M509.2 269h0" stroke="#481f70" stroke-opacity="0.85"/><path d="M480.4 409.4h0M461.9 415.2h0M358.5 411.6h0M471.6 414.1h0M367.3 418.4h0M462.9 421.5h0M376.8 422.2h0" stroke="#2c728e" stroke-opacity="0.85"/><path d="M481.5 412.2h0M462.4 418.3h0M472.4 417.1h0M367.3 414h0M463.4 424.8h0M376.8 417.7h0" stroke="#2c728e" stroke-opacity="0.85"/><path d="M512.7 293.1h0M394.6 294.2h0M512 288.1h0M370.4 289.5h0M385.7 288.5h0M330.9 289.5h0M345.9 293.4h0M319.6 292.3h0M326.2 294.2h0M311.6 294.2h0M387.4 293.7h0M334.7 294.8h0M506.9 300.3h0" stroke="#472c7b" stroke-opacity="0.85"/><path d="M512.3 290.6h0M510 295.5h0" stroke="#472c7b" stroke-opacity="0.85"/><path d="M511.6 285.7h0M509.6 292.9h0" stroke="#472c7b" stroke-opacity="0.85"/><path d="M509.3 290.5h0" stroke="#472c7b" stroke-opacity="0.85"/><path d="M401.6 434h0M412.1 432.8h0M421.5 434.8h0" stroke="#287c8e" stroke-opacity="0.85"/><path d="M399.9 438h0M410.7 436.8h0" stroke="#287c8e" stroke-opacity="0.85"/><path d="M423.4 427.3h0M367.4 427.5h0M452.7 418.9h0M433.4 425h0M443.1 422.2h0M376.9 431.7h0M453 425.6h0M432.3 432.3h0M442.8 429.2h0M386.9 432.5h0M387 427.5h0" stroke="#2a778e" stroke-opacity="0.85"/><path d="M367.4 422.9h0M422.5 431h0M452.8 422.2h0M432.8 428.6h0M443 425.6h0M376.8 426.9h0M453.2 429.1h0M431.7 436.2h0M442.6 432.9h0" stroke="#2a778e" stroke-opacity="0.85"/><path d="M342.4 383.4h0M504.7 381h0M498.1 385.3h0M349.7 387.1h0M490.7 391.6h0" stroke="#33628d" stroke-opacity="0.85"/><path d="M342.2 380h0M349.6 383.5h0" stroke="#33628d" stroke-opacity="0.85"/><path d="M509.4 238.1h0M405.6 241.7h0M414.2 233.3h0M509.2 243.9h0M414.6 238.3h0M395.3 238.7h0M419.3 236.1h0M410.1 246.6h0M399.9 245.2h0M415.6 243.6h0M357.4 241.2h0M424.8 241.6h0M405 247.7h0M462 239.7h0M470.8 239.6h0" stroke="#46075b" stroke-opacity="0.85"/><path d="M509.2 236.8h0M410 240.2h0M509 242.5h0M421.7 239.2h0" stroke="#46075b" stroke-opacity="0.85"/><path d="M508.8 241.2h0M508.2 247.2h0" stroke="#46075b" stroke-opacity="0.85"/><path d="M508.6 239.9h0M507.9 245.8h0" stroke="#46075b" stroke-opacity="0.85"/><path d="M508.4 238.6h0M507.7 244.5h0" stroke="#46075b" stroke-opacity="0.85"/><path d="M508.2 237.3h0M507.5 243.1h0" stroke="#46075b" stroke-opacity="0.85"/><path d="M507.3 241.8h0" stroke="#46075b" stroke-opacity="0.85"/><path d="M507.1 240.4h0" stroke="#46075b" stroke-opacity="0.85"/><path d="M328.4 349.4h0M508.1 353.6h0M334.5 358.2h0M502.9 360.9h0M334.1 352.3h0M341.3 363.6h0" stroke="#3b528b" stroke-opacity="0.85"/><path d="M507.6 349.2h0M334.3 355.2h0M502.5 356.3h0" stroke="#3b528b" stroke-opacity="0.85"/><path d="M510.8 254.2h0M388.6 259.9h0M510.8 264.8h0M510 259.6h0M332.8 268.2h0" stroke="#48186a" stroke-opacity="0.85"/><path d="M510.6 263h0M509.8 257.9h0" stroke="#48186a" stroke-opacity="0.85"/><path d="M510.3 261.3h0M509 267.1h0" stroke="#48186a" stroke-opacity="0.85"/><path d="M508.7 265.3h0M508 260.1h0" stroke="#48186a" stroke-opacity="0.85"/><path d="M508.4 263.6h0" stroke="#48186a" stroke-opacity="0.85"/><path d="M508.2 261.8h0" stroke="#48186a" stroke-opacity="0.85"/><path d="M397.9 248.2h0M510.6 252.6h0M402.9 243.5h0M509.6 246.7h0M404.5 249.3h0M375.7 256.6h0M404 257.7h0M507.7 258.5h0" stroke="#471063" stroke-opacity="0.85"/><path d="M510.3 251.1h0M396.6 244.9h0M399.2 251.5h0M509.4 245.3h0M509.5 256.3h0" stroke="#471063" stroke-opacity="0.85"/><path d="M510.1 249.6h0M509.3 254.7h0M398.5 250.1h0" stroke="#471063" stroke-opacity="0.85"/><path d="M509.9 248.1h0M509.1 253.2h0" stroke="#471063" stroke-opacity="0.85"/><path d="M508.8 251.6h0" stroke="#471063" stroke-opacity="0.85"/><path d="M508.6 250.1h0" stroke="#471063" stroke-opacity="0.85"/><path d="M508.4 248.7h0" stroke="#471063" stroke-opacity="0.85"/><path d="M511.1 335.6h0M322.2 331h0M510.2 328.1h0M327.4 338.3h0M506 333.3h0M327 333h0" stroke="#404688" stroke-opacity="0.85"/><path d="M510.6 331.8h0M321.9 328.4h0M506.4 337h0M327.2 335.6h0" stroke="#404688" stroke-opacity="0.85"/><path d="M390.9 313.3h0M512.2 312.6h0M511.4 306.5h0M321.5 307.2h0M509 317.8h0M385.5 315.7h0" stroke="#443982" stroke-opacity="0.85"/><path d="M511.8 309.5h0M508.6 314.6h0" stroke="#443982" stroke-opacity="0.85"/><path d="M508.2 311.6h0" stroke="#443982" stroke-opacity="0.85"/><path d="M508.6 358.2h0M334.9 364.4h0M503.4 365.6h0M341.6 369.9h0M497 370h0" stroke="#38578c" stroke-opacity="0.85"/><path d="M334.7 361.3h0M341.5 366.7h0" stroke="#38578c" stroke-opacity="0.85"/><path d="M350.1 398.2h0M358.4 407.4h0M491.4 403h0M367.2 409.7h0M483 408.4h0" stroke="#2f6c8e" stroke-opacity="0.85"/><path d="M358.3 403.3h0" stroke="#2f6c8e" stroke-opacity="0.85"/><path d="M377.2 315.5h0M362.4 319h0M386.4 318.9h0M321.6 325.9h0M356.7 324.1h0M509.8 324.5h0M505.6 329.7h0M504.9 322.9h0" stroke="#423f85" stroke-opacity="0.85"/><path d="M387.4 317.5h0M321.4 323.4h0M509.4 321.1h0M505.2 326.2h0" stroke="#423f85" stroke-opacity="0.85"/><path d="M311.8 300.1h0M404.3 300h0M511 303.6h0M329 300.6h0M510.3 298.1h0M507.9 308.6h0M398.4 306.8h0" stroke="#46327f" stroke-opacity="0.85"/><path d="M510.7 300.8h0M507.5 305.8h0" stroke="#46327f" stroke-opacity="0.85"/><path d="M507.2 303h0" stroke="#46327f" stroke-opacity="0.85"/><path d="M328.1 346.5h0M507.2 345h0M327.7 341h0M502.1 352h0M333.9 349.4h0" stroke="#3d4c8a" stroke-opacity="0.85"/><path d="M327.9 343.7h0M506.8 340.9h0M501.8 347.9h0M333.7 346.6h0" stroke="#3d4c8a" stroke-opacity="0.85"/><path d="M504.2 375.6h0M503.8 370.5h0M342 376.6h0M497.7 380h0M497.3 374.9h0M349.5 380h0" stroke="#365d8d" stroke-opacity="0.85"/><path d="M341.8 373.2h0" stroke="#365d8d" stroke-opacity="0.85"/><path d="M498.9 396.7h0M350 394.4h0M498.5 390.8h0M358.2 399.4h0M491.1 397.2h0M367.2 405.6h0" stroke="#31678e" stroke-opacity="0.85"/><path d="M349.8 390.7h0M358.1 395.5h0" stroke="#31678e" stroke-opacity="0.85"/><path d="M511.3 283.4h0M348.1 285.6h0M315.6 279h0M334.3 286.3h0M337 281.5h0M320.4 284.8h0M372.6 281h0M394.9 283.4h0M509 288.1h0" stroke="#482576" stroke-opacity="0.85"/><path d="M511 281.2h0M508.7 285.8h0" stroke="#482576" stroke-opacity="0.85"/><path d="M510.7 279h0M508.4 283.5h0" stroke="#482576" stroke-opacity="0.85"/><path d="M508.1 281.4h0" stroke="#482576" stroke-opacity="0.85"/><path d="M418.1 247.4h0M454.1 240.8h0M428.4 243.6h0M445.8 242.4h0M458.7 243.4h0M437.1 243.9h0M468.3 245.7h0M506.6 250.7h0M473.9 247.9h0M454.9 249h0M505.8 245h0M425.6 252.9h0M445.5 251.2h0M460.2 252.5h0M435.6 253.1h0M440.6 252.8h0M480.4 244.4h0M361.2 254.3h0" stroke="#46085b" stroke-opacity="0.89"/><path d="M450 241.8h0M432.4 244.8h0M441.5 243.6h0M463.8 247.7h0M421.6 250.4h0M506.4 249.2h0M505.6 243.6h0M450.3 250.3h0M504.5 254.3h0" stroke="#46085b" stroke-opacity="0.89"/><path d="M506.2 247.8h0M504.3 252.7h0" stroke="#46085b" stroke-opacity="0.89"/><path d="M506 246.4h0M504.1 251.2h0" stroke="#46085b" stroke-opacity="0.89"/><path d="M503.9 249.8h0" stroke="#46085b" stroke-opacity="0.89"/><path d="M503.7 248.3h0" stroke="#46085b" stroke-opacity="0.89"/><path d="M503.5 246.9h0" stroke="#46085b" stroke-opacity="0.89"/><path d="M506.9 239.1h0M478.8 216.6h0M488.2 214.4h0M493.8 213.3h0M506.2 234.2h0M477.3 221.6h0M486.9 219.4h0M476.5 236.6h0M492.6 218.4h0M499.1 217.4h0M505.3 228.3h0M370.4 240.4h0M387.9 233.9h0M480.4 226.3h0M504.4 222.7h0M485.6 225.2h0M491.4 224.2h0M498 223.3h0M364.7 232.9h0M484.3 232.2h0M350.2 242.2h0M490.4 231.2h0M503.3 245.5h0M372.6 245.3h0" stroke="#440154" stroke-opacity="0.89"/><path d="M474.7 217.7h0M483.3 215.6h0M506.7 237.9h0M506 233h0M481.9 220.5h0M505.1 227.2h0M504.3 221.7h0M364.8 233.1h0M503.1 244.1h0" stroke="#440154" stroke-opacity="0.89"/><path d="M506.5 236.6h0M505.6 230.6h0M504.8 224.9h0M505.4 242.3h0" stroke="#440154" stroke-opacity="0.89"/><path d="M506.3 235.4h0M505.4 229.4h0M504.6 223.8h0M505.2 240.9h0" stroke="#440154" stroke-opacity="0.89"/><path d="M505.8 231.8h0M504.9 226h0M505 239.6h0" stroke="#440154" stroke-opacity="0.89"/><path d="M504.8 238.3h0M504.1 233.3h0" stroke="#440154" stroke-opacity="0.89"/><path d="M504.6 237.1h0M503.9 232.1h0M502.9 242.7h0" stroke="#440154" stroke-opacity="0.89"/><path d="M504.5 235.8h0M503.7 230.9h0M502.7 241.4h0" stroke="#440154" stroke-opacity="0.89"/><path d="M504.3 234.6h0M503.4 228.6h0" stroke="#440154" stroke-opacity="0.89"/><path d="M503.6 229.7h0" stroke="#440154" stroke-opacity="0.89"/><path d="M358 391.7h0M490.4 386.3h0M482.5 397.1h0M367.1 397.6h0M482.3 391.8h0M473.3 399.1h0M376.9 400.7h0M473.2 394h0M463.6 400.3h0" stroke="#33628d" stroke-opacity="0.89"/><path d="M357.9 388h0M367.1 393.7h0M376.9 396.7h0" stroke="#33628d" stroke-opacity="0.89"/><path d="M410.8 253.4h0M507.5 256.9h0M383.1 254.8h0M375.1 255.6h0M505.6 262.3h0M338.1 254.7h0M430.2 254.4h0M471.3 255.7h0M466.3 258.4h0M417.3 262.3h0M478 259h0M455.9 259.9h0M433.5 265.7h0M439.3 265.2h0" stroke="#471062" stroke-opacity="0.89"/><path d="M507.3 255.3h0M376 260.1h0M505.3 260.6h0M502.7 266.2h0" stroke="#471062" stroke-opacity="0.89"/><path d="M507 253.7h0M505.1 259h0M502.5 264.5h0" stroke="#471062" stroke-opacity="0.89"/><path d="M506.8 252.2h0M504.9 257.4h0M502.3 262.7h0" stroke="#471062" stroke-opacity="0.89"/><path d="M504.7 255.8h0" stroke="#471062" stroke-opacity="0.89"/><path d="M501.4 343.9h0M333.5 343.8h0M500.7 336.4h0M333.2 338.3h0M495.1 344.7h0M340.6 348.7h0M340.3 343.1h0M488.3 350.7h0" stroke="#404688" stroke-opacity="0.89"/><path d="M501.1 340.1h0M333.3 341h0M494.8 341h0M340.5 345.9h0" stroke="#404688" stroke-opacity="0.89"/><path d="M507.5 277.2h0M346.8 273.9h0M341.6 273.6h0M504.9 283.7h0M318.7 279.6h0M338.7 282.1h0M354.3 282.8h0M330.3 282.2h0M501.2 288h0" stroke="#481e70" stroke-opacity="0.89"/><path d="M507.3 275.2h0M343.1 274.3h0M504.6 281.5h0M335.7 283.4h0M500.9 285.8h0" stroke="#481e70" stroke-opacity="0.89"/><path d="M507 273.2h0M504.4 279.5h0M500.7 283.7h0" stroke="#481e70" stroke-opacity="0.89"/><path d="M504.1 277.4h0" stroke="#481e70" stroke-opacity="0.89"/><path d="M397.6 434.6h0M408.6 435.6h0M397.6 429.5h0M419.8 435.4h0M431.2 434h0M442.4 431.3h0" stroke="#2a768e" stroke-opacity="0.89"/><path d="M496.6 365.4h0M349.2 373.3h0M489.8 376.3h0M357.7 377.5h0M481.6 377.2h0M367 382.7h0" stroke="#38578c" stroke-opacity="0.89"/><path d="M349.1 370h0M489.6 371.6h0M357.7 374.1h0M481.4 372.6h0" stroke="#38578c" stroke-opacity="0.89"/><path d="M349.3 376.6h0M490.1 381.2h0M357.9 384.4h0M482 386.7h0M367.1 390h0M473 389h0M376.9 392.8h0" stroke="#365d8d" stroke-opacity="0.89"/><path d="M357.8 380.9h0M481.8 381.9h0M367 386.3h0M472.9 384.3h0" stroke="#365d8d" stroke-opacity="0.89"/><path d="M506.6 297.7h0M503 305.1h0M498.2 308.4h0" stroke="#472c7b" stroke-opacity="0.89"/><path d="M506.3 295.2h0M502.7 302.5h0" stroke="#472c7b" stroke-opacity="0.89"/><path d="M502.4 299.9h0" stroke="#472c7b" stroke-opacity="0.89"/><path d="M502.2 297.4h0" stroke="#472c7b" stroke-opacity="0.89"/><path d="M482.7 402.6h0M367.1 401.5h0M473.5 404.5h0M376.9 404.7h0M463.7 410.8h0M387.1 409.2h0M463.6 405.4h0M453.3 410.7h0M397.9 410.5h0" stroke="#31688e" stroke-opacity="0.89"/><path d="M387.2 404.9h0" stroke="#31688e" stroke-opacity="0.89"/><path d="M504.5 319.7h0M499.8 326.1h0M499.2 319.8h0" stroke="#443983" stroke-opacity="0.89"/><path d="M504.2 316.6h0M499.5 322.9h0" stroke="#443983" stroke-opacity="0.89"/><path d="M341.2 360.5h0M496.3 360.9h0M349 366.8h0M489.3 367.1h0M348.8 360.6h0M357.6 370.8h0M481.2 368.3h0" stroke="#3b518b" stroke-opacity="0.89"/><path d="M341 357.5h0M496 356.6h0M348.9 363.6h0M489 362.8h0" stroke="#3b518b" stroke-opacity="0.89"/><path d="M335.2 264.2h0M377.1 268h0M506.8 271.3h0M506 265.8h0M503.9 275.5h0M323.4 268.5h0" stroke="#481769" stroke-opacity="0.89"/><path d="M506.5 269.4h0M505.8 264h0M503.6 273.5h0" stroke="#481769" stroke-opacity="0.89"/><path d="M506.3 267.6h0M503.4 271.6h0" stroke="#481769" stroke-opacity="0.89"/><path d="M503.2 269.8h0" stroke="#481769" stroke-opacity="0.89"/><path d="M503 268h0" stroke="#481769" stroke-opacity="0.89"/><path d="M473.8 415.9h0M376.8 413.2h0M473.6 410h0M387.1 418.1h0M463.8 416.4h0M397.8 419.7h0M453.3 416.1h0M408.8 420.2h0M431.3 423h0M442.5 420.1h0M420.1 419.6h0M442.5 414.9h0M431.3 417.8h0" stroke="#2e6d8e" stroke-opacity="0.89"/><path d="M376.8 408.9h0M387.1 413.6h0M397.8 415.1h0M408.9 415.5h0" stroke="#2e6d8e" stroke-opacity="0.89"/><path d="M387 422.7h0M463.9 422.2h0M453.4 427.4h0M397.7 424.5h0M408.7 430.3h0M419.9 430h0M453.4 421.6h0M408.7 425.2h0M431.2 428.4h0M442.4 425.6h0M420 424.7h0" stroke="#2c728e" stroke-opacity="0.89"/><path d="M506 292.8h0M346.4 285.6h0M505.1 285.9h0M327.1 288.8h0M501.4 290.3h0" stroke="#482576" stroke-opacity="0.89"/><path d="M505.7 290.4h0M501.9 295h0" stroke="#482576" stroke-opacity="0.89"/><path d="M505.4 288.1h0M501.7 292.6h0" stroke="#482576" stroke-opacity="0.89"/><path d="M503.9 313.6h0M503.3 307.8h0M498.9 316.8h0M498.4 311.1h0" stroke="#46337f" stroke-opacity="0.89"/><path d="M503.6 310.7h0M498.7 313.9h0" stroke="#46337f" stroke-opacity="0.89"/><path d="M500.4 332.8h0M494.5 337.4h0M494 330.6h0" stroke="#423f85" stroke-opacity="0.89"/><path d="M500.1 329.4h0M494.3 334h0" stroke="#423f85" stroke-opacity="0.89"/><path d="M340.9 354.5h0M495.7 352.5h0M488.8 358.6h0M348.7 357.5h0" stroke="#3d4c8a" stroke-opacity="0.89"/><path d="M495.4 348.5h0M340.7 351.6h0M488.6 354.6h0" stroke="#3d4c8a" stroke-opacity="0.89"/><path d="M497.9 305.7h0M492.6 312.7h0M492.2 307.4h0M486.2 315.3h0M485.8 310h0" stroke="#472c7b" stroke-opacity="0.93"/><path d="M497.7 303.1h0M492.4 310h0M492 304.8h0M486 312.6h0" stroke="#472c7b" stroke-opacity="0.93"/><path d="M493.8 327.4h0M487.3 333.1h0M486.9 326.9h0M479.7 335.2h0" stroke="#443983" stroke-opacity="0.93"/><path d="M493.5 324.3h0M487.1 330h0M479.6 332h0" stroke="#443983" stroke-opacity="0.93"/><path d="M502.1 261.1h0M499.2 270h0M498.6 264.7h0" stroke="#470f62" stroke-opacity="0.93"/><path d="M501.9 259.4h0M499 268.2h0M498.5 263h0" stroke="#470f62" stroke-opacity="0.93"/><path d="M498.8 266.5h0" stroke="#470f62" stroke-opacity="0.93"/><path d="M348.6 354.6h0M480.9 360.1h0M357.5 361.3h0M472.3 362.9h0M367 365.9h0M463 369h0M366.9 359.6h0M377 368.1h0M462.9 361.3h0" stroke="#3e4c8a" stroke-opacity="0.93"/><path d="M480.7 356.2h0M357.4 358.3h0M472.1 359.1h0M367 362.7h0M463 365.1h0" stroke="#3e4c8a" stroke-opacity="0.93"/><path d="M387.2 400.8h0M463.5 395.3h0M453.2 400.6h0M398 401.9h0M442.5 404.9h0M409 406.3h0M420.3 405.4h0M431.5 403.3h0" stroke="#33628d" stroke-opacity="0.93"/><path d="M387.3 396.7h0M442.5 400.1h0M398.1 397.7h0M409.1 401.9h0M420.3 400.9h0" stroke="#33628d" stroke-opacity="0.93"/><path d="M502.6 240h0M376.8 228.9h0M362.1 248.8h0M496.5 238.9h0M356.8 246.5h0M500.6 248.7h0M361.9 227.5h0M373.3 247.4h0" stroke="#440255" stroke-opacity="0.93"/><path d="M502.4 238.7h0M500.4 247.2h0M496.2 249.9h0" stroke="#440255" stroke-opacity="0.93"/><path d="M502.2 237.4h0M500.2 245.8h0" stroke="#440255" stroke-opacity="0.93"/><path d="M502 236.1h0M500.1 244.4h0" stroke="#440255" stroke-opacity="0.93"/><path d="M453.3 405.6h0M420.1 414.7h0M398 406.1h0M442.5 409.8h0M409 410.8h0M431.4 412.8h0" stroke="#31678e" stroke-opacity="0.93"/><path d="M420.2 410h0M431.4 408h0" stroke="#31678e" stroke-opacity="0.93"/><path d="M488.1 346.9h0M348.5 351.6h0M348.4 345.9h0M480.5 352.4h0M357.4 355.3h0M472 355.3h0M357.3 349.4h0" stroke="#404688" stroke-opacity="0.93"/><path d="M487.9 343.3h0M348.5 348.8h0M480.3 348.7h0M357.3 352.3h0M471.9 351.7h0" stroke="#404688" stroke-opacity="0.93"/><path d="M500.5 281.6h0M496.6 291.2h0M496 284.7h0M430.5 283.9h0M491.3 295.2h0" stroke="#481e70" stroke-opacity="0.93"/><path d="M496.4 288.9h0" stroke="#481e70" stroke-opacity="0.93"/><path d="M496.2 286.8h0" stroke="#481e70" stroke-opacity="0.93"/><path d="M357.6 367.6h0M481 364.1h0M472.5 371h0M367 372.4h0M463.2 377.2h0M377 374.8h0M453.1 378.3h0M387.5 378h0" stroke="#3b518b" stroke-opacity="0.93"/><path d="M357.5 364.4h0M472.4 366.9h0M367 369.1h0M463.1 373h0M377 371.4h0M453.1 374.2h0" stroke="#3b518b" stroke-opacity="0.93"/><path d="M367 379.2h0M472.8 379.7h0M376.9 385.3h0M463.3 385.9h0M377 378.2h0M453.2 386.8h0M387.4 385.2h0M442.6 386.8h0M398.3 385.9h0M431.7 390.1h0M409.3 389.5h0M420.6 388.3h0" stroke="#38578c" stroke-opacity="0.93"/><path d="M367 375.8h0M472.6 375.3h0M376.9 381.7h0M463.2 381.5h0M453.2 382.5h0M387.5 381.6h0M442.6 382.6h0M431.7 386h0M398.4 382.2h0M409.4 385.6h0" stroke="#38578c" stroke-opacity="0.93"/><path d="M500.3 279.6h0M499.6 273.7h0M444.6 279.5h0M495.8 282.6h0M437.6 282.9h0M495.2 276.6h0" stroke="#48186b" stroke-opacity="0.93"/><path d="M500 277.6h0M499.4 271.9h0M495.6 280.6h0" stroke="#48186b" stroke-opacity="0.93"/><path d="M499.8 275.6h0M495.4 278.6h0" stroke="#48186b" stroke-opacity="0.93"/><path d="M501.7 257.8h0M501 251.6h0M498.3 261.4h0M388.1 255.9h0" stroke="#46075b" stroke-opacity="0.93"/><path d="M501.5 256.2h0M500.8 250.1h0" stroke="#46075b" stroke-opacity="0.93"/><path d="M501.3 254.7h0M498.1 259.7h0" stroke="#46075b" stroke-opacity="0.93"/><path d="M501.1 253.1h0M497.9 258.1h0" stroke="#46075b" stroke-opacity="0.93"/><path d="M497.7 256.5h0" stroke="#46075b" stroke-opacity="0.93"/><path d="M497.6 254.9h0" stroke="#46075b" stroke-opacity="0.93"/><path d="M497.4 253.4h0" stroke="#46075b" stroke-opacity="0.93"/><path d="M376.9 389h0M463.4 390.5h0M453.2 395.8h0M387.3 392.8h0M442.6 395.5h0M398.2 393.7h0M431.6 398.8h0M409.2 397.7h0M420.4 396.6h0" stroke="#365d8d" stroke-opacity="0.93"/><path d="M453.2 391.2h0M387.4 389h0M442.6 391.1h0M398.2 389.8h0M431.6 394.4h0M409.3 393.5h0M420.5 392.4h0" stroke="#365d8d" stroke-opacity="0.93"/><path d="M497.4 300.6h0M496.8 293.4h0M491.8 302.3h0" stroke="#482676" stroke-opacity="0.93"/><path d="M497.2 298.1h0M491.6 299.9h0" stroke="#482676" stroke-opacity="0.93"/><path d="M497 295.8h0M491.5 297.5h0" stroke="#482676" stroke-opacity="0.93"/><path d="M493.3 321.3h0M492.9 315.5h0M486.7 323.9h0M486.3 318.1h0" stroke="#46337f" stroke-opacity="0.93"/><path d="M493.1 318.3h0M486.5 320.9h0" stroke="#46337f" stroke-opacity="0.93"/><path d="M487.7 339.8h0M348.3 343.2h0M480.2 345.2h0M479.9 338.4h0M357.3 346.6h0M471.8 348.2h0" stroke="#424086" stroke-opacity="0.93"/><path d="M487.5 336.4h0M480 341.7h0" stroke="#424086" stroke-opacity="0.93"/><path d="M479.4 329h0M471.5 338.3h0M471.3 332.1h0M462.5 340.8h0M452.9 342.6h0" stroke="#443882" stroke-opacity="0.97"/><path d="M471.4 335.2h0M462.5 337.7h0M452.9 339.5h0" stroke="#443882" stroke-opacity="0.97"/><path d="M366.9 356.6h0M462.8 357.6h0M377.1 361.7h0M453 359.2h0M377.2 355.5h0M442.7 363.5h0M387.8 361.3h0M398.7 364.8h0M432 363.4h0M420.9 365.9h0M442.7 356.6h0M409.8 364.1h0M398.8 358.3h0M421.1 359.2h0" stroke="#404688" stroke-opacity="0.97"/><path d="M367 353.6h0M462.8 354.1h0M377.1 358.6h0M453 355.7h0M442.7 360h0M387.8 358.2h0M398.8 361.5h0M432 360h0M421 362.5h0M409.9 360.8h0" stroke="#404688" stroke-opacity="0.97"/><path d="M387.6 374.5h0M442.6 378.6h0M431.8 381.9h0M398.4 378.5h0M409.5 381.8h0M420.7 380.4h0M431.8 374.2h0M409.6 374.5h0" stroke="#3b518b" stroke-opacity="0.97"/><path d="M442.7 374.6h0M431.8 378h0M398.5 375h0M409.6 378.1h0M420.8 376.7h0" stroke="#3b518b" stroke-opacity="0.97"/><path d="M471.7 344.8h0M367 350.7h0M462.7 350.6h0M462.6 344h0M367 345h0M377.2 352.6h0M453 352.3h0M453 345.8h0M387.9 355.1h0M377.3 346.7h0M442.8 353.2h0M432.1 356.7h0M398.9 355.2h0M410 357.6h0M388 349.1h0" stroke="#424086" stroke-opacity="0.97"/><path d="M471.6 341.5h0M367 347.8h0M462.7 347.2h0M453 349h0M377.2 349.6h0M387.9 352.1h0M442.8 350h0M432.1 353.4h0" stroke="#424086" stroke-opacity="0.97"/><path d="M485.7 307.5h0" stroke="#482777" stroke-opacity="0.97"/><path d="M485.5 305h0" stroke="#482777" stroke-opacity="0.97"/><path d="M453.1 370.3h0M377.1 364.9h0M387.6 371.1h0M453.1 362.8h0M442.7 370.8h0M398.6 371.5h0M387.7 364.5h0M420.8 373h0M431.9 370.5h0M409.7 371h0" stroke="#3d4c8a" stroke-opacity="0.97"/><path d="M453.1 366.5h0M387.7 367.8h0M442.7 367.1h0M398.6 368.1h0M420.9 369.4h0M431.9 366.9h0M409.8 367.5h0" stroke="#3d4c8a" stroke-opacity="0.97"/><path d="M420.6 384.3h0" stroke="#39558c" stroke-opacity="0.97"/><path d="M479.3 326h0M479 320.3h0M471.2 329.1h0M471 323.4h0M462.4 334.6h0M462.3 328.8h0" stroke="#46327f" stroke-opacity="0.97"/><path d="M479.2 323.1h0M471.1 326.3h0M462.4 331.7h0" stroke="#46327f" stroke-opacity="0.97"/><path d="M478.9 317.6h0M470.9 320.7h0M462.3 326h0" stroke="#472e7c" stroke-opacity="0.97"/><path d="M478.8 314.9h0" stroke="#472e7c" stroke-opacity="0.97"/><path d="M370.6 237.7h0" stroke="#440154" stroke-opacity="0.97"/><path d="M442.8 346.8h0M388 346.2h0M442.8 340.7h0M432.2 347.1h0M399.1 346.2h0M410.2 348.4h0M421.3 346.7h0M432.3 341.1h0M410.3 342.5h0" stroke="#443983"/><path d="M442.8 343.7h0M388.1 343.4h0M432.2 344.1h0M399.1 343.4h0M410.2 345.4h0M421.4 343.7h0" stroke="#443983"/><path d="M421.1 356h0M398.9 352.2h0M410 354.5h0M432.2 350.2h0M421.2 349.7h0" stroke="#433f85"/><path d="M421.2 352.8h0M399 349.2h0M410.1 351.4h0" stroke="#433f85"/><path d="M452.9 336.5h0M452.9 330.7h0M442.8 337.7h0M432.3 338.2h0M421.4 340.8h0" stroke="#463480"/><path d="M452.9 333.6h0M442.8 334.8h0" stroke="#463480"/></g>
<g id="text_22">
<!-- LiDAR Point 3D Coordinate Graph -->
<g transform="translate(342.74625 71.76) scale(0.12 -0.12)">
<defs>
<path id="DejaVuSans-4c" d="M 628 4666
L 1259 4666
L 1259 531
L 3531 531
L 3531 0
L 628 0
L 628 4666
z
" transform="scale(0.015625)"/>
<path id="DejaVuSans-69" d="M 603 3500
L 1178 3500
L 1178 0
L 603 0
L 603 3500
z
M 603 4863
L 1178 4863
L 1178 4134
L 603 4134
L 603 4863
z
" transform="scale(0.015625)"/>
<path id="DejaVuSans-44" d="M 1259 4147
L 1259 519
L 2022 519
Q 2988 519 3436 956
Q 3884 1394 3884 2338
Q 3884 3275 3436 3711
Q 2988 4147 2022 4147
L 1259 4147
z
M 628 4666
L 1925 4666
Q 3281 4666 3915 4102
Q 4550 3538 4550 2338
Q 4550 1131 3912 565
Q 3275 0 1925 0
L 628 0
L 628 4666
z
" transform="scale(0.015625)"/>
<path id="DejaVuSans-41" d="M 2188 4044
L 1331 1722
L 3047 1722
L 2188 4044
z
M 1831 4666
L 2547 4666
L 4325 0
L 3669 0
L 3244 1197
L 1141 1197
L 716 0
L 50 0
L 1831 4666
z
" transform="scale(0.015625)"/>
<path id="DejaVuSans-52" d="M 2841 2188
Q 3044 2119 3236 1894
Q 3428 1669 3622 1275
L 4263 0
L 3584 0
L 2988 1197
Q 2756 1666 2539 1819
Q 2322 1972 1947 1972
L 1259 1972
L 1259 0
L 628 0
L 628 4666
L 2053 4666
Q 2853 4666 3247 4331
Q 3641 3997 3641 3322
Q 3641 2881 3436 2590
Q 3231 2300 2841 2188
z
M 1259 4147
L 1259 2491
L 2053 2491
Q 2509 2491 2742 2702
Q 2975 2913 2975 3322
Q 2975 3731 2742 3939
Q 2509 4147 2053 4147
L 1259 4147
z
" transform="scale(0.015625)"/>
<path id="DejaVuSans-50" d="M 1259 4147
L 1259 2394
L 2053 2394
Q 2494 2394 2734 2622
Q 2975 2850 2975 3272
Q 2975 3691 2734 3919
Q 2494 4147 2053 4147
L 1259 4147
z
M 628 4666
L 2053 4666
Q 2838 4666 3239 4311
Q 3641 3956 3641 3272
Q 3641 2581 3239 2228
Q 2838 1875 2053 1875
L 1259 1875
L 1259 0
L 628 0
L 628 4666
z
" transform="scale(0.015625)"/>
<path id="DejaVuSans-6f" d="M 1959 3097
Q 1497 3097 1228 2736
Q 959 2375 959 1747
Q 959 1119 1226 758
Q 1494 397 1959 397
Q 2419 397 2687 759
Q 2956 1122 2956 1747
Q 2956 2369 2687 2733
Q 2419 3097 1959 3097
z
M 1959 3584
Q 2709 3584 3137 3096
Q 3566 2609 3566 1747
Q 3566 888 3137 398
Q 2709 -91 1959 -91
Q 1206 -91 779 398
Q 353 888 353 1747
Q 353 2609 779 3096
Q 1206 3584 1959 3584
z
" transform="scale(0.015625)"/>
<path id="DejaVuSans-6e" d="M 3513 2113
L 3513 0
L 2938 0
L 2938 2094
Q 2938 2591 2744 2837
Q 2550 3084 2163 3084
Q 1697 3084 1428 2787
Q 1159 2491 1159 1978
L 1159 0
L 581 0
L 581 3500
L 1159 3500
L 1159 2956
Q 1366 3272 1645 3428
Q 1925 3584 2291 3584
Q 2894 3584 3203 3211
Q 3513 2838 3513 2113
z
" transform="scale(0.015625)"/>
<path id="DejaVuSans-74" d="M 1172 4494
L 1172 3500
L 2356 3500
L 2356 3053
L 1172 3053
L 1172 1153
Q 1172 725 1289 603
Q 1406 481 1766 481
L 2356 481
L 2356 0
L 1766 0
Q 1100 0 847 248
Q 594 497 594 1153
L 594 3053
L 172 3053
L 172 3500
L 594 3500
L 594 4494
L 1172 4494
z
" transform="scale(0.015625)"/>
<path id="DejaVuSans-43" d="M 4122 4306
L 4122 3641
Q 3803 3938 3442 4084
Q 3081 4231 2675 4231
Q 1875 4231 1450 3742
Q 1025 3253 1025 2328
Q 1025 1406 1450 917
Q 1875 428 2675 428
Q 3081 428 3442 575
Q 3803 722 4122 1019
L 4122 359
Q 3791 134 3420 21
Q 3050 -91 2638 -91
Q 1578 -91 968 557
Q 359 1206 359 2328
Q 359 3453 968 4101
Q 1578 4750 2638 4750
Q 3056 4750 3426 4639
Q 3797 4528 4122 4306
z
" transform="scale(0.015625)"/>
<path id="DejaVuSans-72" d="M 2631 2963
Q 2534 3019 2420 3045
Q 2306 3072 2169 3072
Q 1681 3072 1420 2755
Q 1159 2438 1159 1844
L 1159 0
L 581 0
L 581 3500
L 1159 3500
L 1159 2956
Q 1341 3275 1631 3429
Q 1922 3584 2338 3584
Q 2397 3584 2469 3576
Q 2541 3569 2628 3553
L 2631 2963
z
" transform="scale(0.015625)"/>
<path id="DejaVuSans-64" d="M 2906 2969
L 2906 4863
L 3481 4863
L 3481 0
L 2906 0
L 2906 525
Q 2725 213 2448 61
Q 2172 -91 1784 -91
Q 1150 -91 751 415
Q 353 922 353 1747
Q 353 2572 751 3078
Q 1150 3584 1784 3584
Q 2172 3584 2448 3432
Q 2725 3281 2906 2969
z
M 947 1747
Q 947 1113 1208 752
Q 1469 391 1925 391
Q 2381 391 2643 752
Q 2906 1113 2906 1747
Q 2906 2381 2643 2742
Q 2381 3103 1925 3103
Q 1469 3103 1208 2742
Q 947 2381 947 1747
z
" transform="scale(0.015625)"/>
<path id="DejaVuSans-61" d="M 2194 1759
Q 1497 1759 1228 1600
Q 959 1441 959 1056
Q 959 750 1161 570
Q 1363 391 1709 391
Q 2188 391 2477 730
Q 2766 1069 2766 1631
L 2766 1759
L 2194 1759
z
M 3341 1997
L 3341 0
L 2766 0
L 2766 531
Q 2569 213 2275 61
Q 1981 -91 1556 -91
Q 1019 -91 701 211
Q 384 513 384 1019
Q 384 1609 779 1909
Q 1175 2209 1959 2209
L 2766 2209
L 2766 2266
Q 2766 2663 2505 2880
Q 2244 3097 1772 3097
Q 1472 3097 1187 3025
Q 903 2953 641 2809
L 641 3341
Q 956 3463 1253 3523
Q 1550 3584 1831 3584
Q 2591 3584 2966 3190
Q 3341 2797 3341 1997
z
" transform="scale(0.015625)"/>
<path id="DejaVuSans-65" d="M 3597 1894
L 3597 1613
L 953 1613
Q 991 1019 1311 708
Q 1631 397 2203 397
Q 2534 397 2845 478
Q 3156 559 3463 722
L 3463 178
Q 3153 47 2828 -22
Q 2503 -91 2169 -91
Q 1331 -91 842 396
Q 353 884 353 1716
Q 353 2575 817 3079
Q 1281 3584 2069 3584
Q 2775 3584 3186 3129
Q 3597 2675 3597 1894
z
M 3022 2063
Q 3016 2534 2758 2815
Q 2500 3097 2075 3097
Q 1594 3097 1305 2825
Q 1016 2553 972 2059
L 3022 2063
z
" transform="scale(0.015625)"/>
<path id="DejaVuSans-47" d="M 3809 666
L 3809 1919
L 2778 1919
L 2778 2438
L 4434 2438
L 4434 434
Q 4069 175 3628 42
Q 3188 -91 2688 -91
Q 1594 -91 976 548
Q 359 1188 359 2328
Q 359 3472 976 4111
Q 1594 4750 2688 4750
Q 3144 4750 3555 4637
Q 3966 4525 4313 4306
L 4313 3634
Q 3963 3931 3569 4081
Q 3175 4231 2741 4231
Q 1884 4231 1454 3753
Q 1025 3275 1025 2328
Q 1025 1384 1454 906
Q 1884 428 2741 428
Q 3075 428 3337 486
Q 3600 544 3809 666
z
" transform="scale(0.015625)"/>
<path id="DejaVuSans-70" d="M 1159 525
L 1159 -1331
L 581 -1331
L 581 3500
L 1159 3500
L 1159 2969
Q 1341 3281 1617 3432
Q 1894 3584 2278 3584
Q 2916 3584 3314 3078
Q 3713 2572 3713 1747
Q 3713 922 3314 415
Q 2916 -91 2278 -91
Q 1894 -91 1617 61
Q 1341 213 1159 525
z
M 3116 1747
Q 3116 2381 2855 2742
Q 2594 3103 2138 3103
Q 1681 3103 1420 2742
Q 1159 2381 1159 1747
Q 1159 1113 1420 752
Q 1681 391 2138 391
Q 2594 391 2855 752
Q 3116 1113 3116 1747
z
" transform="scale(0.015625)"/>
<path id="DejaVuSans-68" d="M 3513 2113
L 3513 0
L 2938 0
L 2938 2094
Q 2938 2591 2744 2837
Q 2550 3084 2163 3084
Q 1697 3084 1428 2787
Q 1159 2491 1159 1978
L 1159 0
L 581 0
L 581 4863
L 1159 4863
L 1159 2956
Q 1366 3272 1645 3428
Q 1925 3584 2291 3584
Q 2894 3584 3203 3211
Q 3513 2838 3513 2113
z
" transform="scale(0.015625)"/>
</defs>
<use href="#DejaVuSans-4c"/>
<use href="#DejaVuSans-69" transform="translate(55.712891 0)"/>
<use href="#DejaVuSans-44" transform="translate(83.496094 0)"/>
<use href="#DejaVuSans-41" transform="translate(158.748047 0)"/>
<use href="#DejaVuSans-52" transform="translate(227.15625 0)"/>
<use href="#DejaVuSans-20" transform="translate(296.638672 0)"/>
<use href="#DejaVuSans-50" transform="translate(328.425781 0)"/>
<use href="#DejaVuSans-6f" transform="translate(385.103516 0)"/>
<use href="#DejaVuSans-69" transform="translate(446.285156 0)"/>
<use href="#DejaVuSans-6e" transform="translate(474.068359 0)"/>
<use href="#DejaVuSans-74" transform="translate(537.447266 0)"/>
<use href="#DejaVuSans-20" transform="translate(576.65625 0)"/>
<use href="#DejaVuSans-33" transform="translate(608.443359 0)"/>
<use href="#DejaVuSans-44" transform="translate(672.066406 0)"/>
<use href="#DejaVuSans-20" transform="translate(749.068359 0)"/>
<use href="#DejaVuSans-43" transform="translate(780.855469 0)"/>
<use href="#DejaVuSans-6f" transform="translate(850.679688 0)"/>
<use href="#DejaVuSans-6f" transform="translate(911.861328 0)"/>
<use href="#DejaVuSans-72" transform="translate(973.042969 0)"/>
<use href="#DejaVuSans-64" transform="translate(1012.40625 0)"/>
<use href="#DejaVuSans-69" transform="translate(1075.882812 0)"/>
<use href="#DejaVuSans-6e" transform="translate(1103.666016 0)"/>
<use href="#DejaVuSans-61" transform="translate(1167.044922 0)"/>
<use href="#DejaVuSans-74" transform="translate(1228.324219 0)"/>
<use href="#DejaVuSans-65" transform="translate(1267.533203 0)"/>
<use href="#DejaVuSans-20" transform="translate(1329.056641 0)"/>
<use href="#DejaVuSans-47" transform="translate(1360.84375 0)"/>
<use href="#DejaVuSans-72" transform="translate(1438.333984 0)"/>
<use href="#DejaVuSans-61" transform="translate(1479.447266 0)"/>
<use href="#DejaVuSans-70" transform="translate(1540.726562 0)"/>
<use href="#DejaVuSans-68" transform="translate(1604.203125 0)"/>
</g>
</g>
<g id="legend_1">
<g id="patch_6">
<path d="M 568.376875 100.438125
L 625.88 100.438125
Q 627.88 100.438125 627.88 98.438125
L 627.88 84.76
Q 627.88 82.76 625.88 82.76
L 568.376875 82.76
Q 566.376875 82.76 566.376875 84.76
L 566.376875 98.438125
Q 566.376875 100.438125 568.376875 100.438125
z
" style="fill: #ffffff; opacity: 0.8; stroke: #cccccc; stroke-linejoin: miter"/>
</g>
<g id="Path3DCollection_1">
<path d="M 580.376875 93.969505
C 580.969887 93.969505 581.538691 93.733899 581.958014 93.314576
C 582.377337 92.895253 582.612943 92.32645 582.612943 91.733438
C 582.612943 91.140425 582.377337 90.571622 581.958014 90.152299
C 581.538691 89.732976 580.969887 89.49737 580.376875 89.49737
C 579.783863 89.49737 579.215059 89.732976 578.795736 90.152299
C 578.376413 90.571622 578.140807 91.140425 578.140807 91.733438
C 578.140807 92.32645 578.376413 92.895253 578.795736 93.314576
C 579.215059 93.733899 579.783863 93.969505 580.376875 93.969505
z
" style="fill: #481467; stroke: #481467"/>
</g>
<g id="text_23">
<!-- point -->
<g transform="translate(598.376875 94.358438) scale(0.1 -0.1)">
<use href="#DejaVuSans-70"/>
<use href="#DejaVuSans-6f" transform="translate(63.476562 0)"/>
<use href="#DejaVuSans-69" transform="translate(124.658203 0)"/>
<use href="#DejaVuSans-6e" transform="translate(152.441406 0)"/>
<use href="#DejaVuSans-74" transform="translate(215.820312 0)"/>
</g>
</g>
</g>
</g>
<g id="axes_2">
<g id="patch_7">
<path d="M 205.790646 576.72
L 301.339789 576.72
L 301.339789 481.68
L 205.790646 481.68
z
" style="fill: #ffffff"/>
</g>
<defs>
<path id="m26ed521848" d="M 0 3
C 0.795609 3 1.55874 2.683901 2.12132 2.12132
C 2.683901 1.55874 3 0.795609 3 0
C 3 -0.795609 2.683901 -1.55874 2.12132 -2.12132
C 1.55874 -2.683901 0.795609 -3 0 -3
C -0.795609 -3 -1.55874 -2.683901 -2.12132 -2.12132
C -2.683901 -1.55874 -3 -0.795609 -3 0
C -3 0.795609 -2.683901 1.55874 -2.12132 2.12132
C -1.55874 2.683901 -0.795609 3 0 3
z
" style="stroke: #90ee90"/>
</defs><defs><clipPath id="cp2d"><rect x="205.79" y="481.68" width="95.55" height="95.04"/></clipPath></defs><path d="M213.4 576.1L211.4 554.3L210.8 546.6L212.7 535.1L215.3 526.1L219.8 519.7L227.5 512L236.5 507.9L245.5 505.6L253.6 504.6L262.2 505.1L271.2 507.1L280.2 512L287.9 518.4L293 526.1L295.6 533.8L297.5 546.6L296.9 564.6L295.6 576.1Z" fill="#90ee90" stroke="#90ee90" stroke-width="0.50" stroke-linejoin="round" clip-path="url(#cp2d)"/>
<g id="PathCollection_1"/>
<g id="matplotlib.axis_1">
<g id="xtick_19">
<g id="line2d_22">
<defs>
<path id="m482b6af915" d="M 0 0
L 0 3.5
" style="stroke: #000000; stroke-width: 0.8"/>
</defs>
<g>
<use href="#m482b6af915" x="211.136646" y="576.72" style="stroke: #000000; stroke-width: 0.8"/>
</g>
</g>
<g id="text_24">
<!-- −500 -->
<g transform="translate(197.403052 591.318438) scale(0.1 -0.1)">
<use href="#DejaVuSans-2212"/>
<use href="#DejaVuSans-35" transform="translate(83.789062 0)"/>
<use href="#DejaVuSans-30" transform="translate(147.412109 0)"/>
<use href="#DejaVuSans-30" transform="translate(211.035156 0)"/>
</g>
</g>
</g>
<g id="xtick_20">
<g id="line2d_23">
<g>
<use href="#m482b6af915" x="253.565217" y="576.72" style="stroke: #000000; stroke-width: 0.8"/>
</g>
</g>
<g id="text_25">
<!-- 0 -->
<g transform="translate(250.383967 591.318438) scale(0.1 -0.1)">
<use href="#DejaVuSans-30"/>
</g>
</g>
</g>
<g id="xtick_21">
<g id="line2d_24">
<g>
<use href="#m482b6af915" x="295.993789" y="576.72" style="stroke: #000000; stroke-width: 0.8"/>
</g>
</g>
<g id="text_26">
<!-- 500 -->
<g transform="translate(286.450039 591.318438) scale(0.1 -0.1)">
<use href="#DejaVuSans-35"/>
<use href="#DejaVuSans-30" transform="translate(63.623047 0)"/>
<use href="#DejaVuSans-30" transform="translate(127.246094 0)"/>
</g>
</g>
</g>
<g id="text_27">
<!-- X (cm) -->
<g transform="translate(237.030061 604.996562) scale(0.1 -0.1)">
<use href="#DejaVuSans-58"/>
<use href="#DejaVuSans-20" transform="translate(68.505859 0)"/>
<use href="#DejaVuSans-28" transform="translate(100.292969 0)"/>
<use href="#DejaVuSans-63" transform="translate(139.306641 0)"/>
<use href="#DejaVuSans-6d" transform="translate(194.287109 0)"/>
<use href="#DejaVuSans-29" transform="translate(291.699219 0)"/>
</g>
</g>
</g>
<g id="matplotlib.axis_2">
<g id="ytick_1">
<g id="line2d_25">
<defs>
<path id="mc29566de9e" d="M 0 0
L -3.5 0
" style="stroke: #000000; stroke-width: 0.8"/>
</defs>
<g>
<use href="#mc29566de9e" x="205.790646" y="571.628571" style="stroke: #000000; stroke-width: 0.8"/>
</g>
</g>
<g id="text_28">
<!-- −500 -->
<g transform="translate(171.323458 575.42779) scale(0.1 -0.1)">
<use href="#DejaVuSans-2212"/>
<use href="#DejaVuSans-35" transform="translate(83.789062 0)"/>
<use href="#DejaVuSans-30" transform="translate(147.412109 0)"/>
<use href="#DejaVuSans-30" transform="translate(211.035156 0)"/>
</g>
</g>
</g>
<g id="ytick_2">
<g id="line2d_26">
<g>
<use href="#mc29566de9e" x="205.790646" y="529.2" style="stroke: #000000; stroke-width: 0.8"/>
</g>
</g>
<g id="text_29">
<!-- 0 -->
<g transform="translate(192.428146 532.999219) scale(0.1 -0.1)">
<use href="#DejaVuSans-30"/>
</g>
</g>
</g>
<g id="ytick_3">
<g id="line2d_27">
<g>
<use href="#mc29566de9e" x="205.790646" y="486.771429" style="stroke: #000000; stroke-width: 0.8"/>
</g>
</g>
<g id="text_30">
<!-- 500 -->
<g transform="translate(179.703146 490.570647) scale(0.1 -0.1)">
<use href="#DejaVuSans-35"/>
<use href="#DejaVuSans-30" transform="translate(63.623047 0)"/>
<use href="#DejaVuSans-30" transform="translate(127.246094 0)"/>
</g>
</g>
</g>
<g id="text_31">
<!-- Y (cm) -->
<g transform="translate(165.243771 545.364063) rotate(-90) scale(0.1 -0.1)">
<use href="#DejaVuSans-59"/>
<use href="#DejaVuSans-20" transform="translate(61.083984 0)"/>
<use href="#DejaVuSans-28" transform="translate(92.871094 0)"/>
<use href="#DejaVuSans-63" transform="translate(131.884766 0)"/>
<use href="#DejaVuSans-6d" transform="translate(186.865234 0)"/>
<use href="#DejaVuSans-29" transform="translate(284.277344 0)"/>
</g>
</g>
</g>
<g id="patch_8">
<path d="M 205.790646 576.72
L 205.790646 481.68
" style="fill: none; stroke: #000000; stroke-width: 0.8; stroke-linejoin: miter; stroke-linecap: square"/>
</g>
<g id="patch_9">
<path d="M 301.339789 576.72
L 301.339789 481.68
" style="fill: none; stroke: #000000; stroke-width: 0.8; stroke-linejoin: miter; stroke-linecap: square"/>
</g>
<g id="patch_10">
<path d="M 205.790646 576.72
L 301.339789 576.72
" style="fill: none; stroke: #000000; stroke-width: 0.8; stroke-linejoin: miter; stroke-linecap: square"/>
</g>
<g id="patch_11">
<path d="M 205.790646 481.68
L 301.339789 481.68
" style="fill: none; stroke: #000000; stroke-width: 0.8; stroke-linejoin: miter; stroke-linecap: square"/>
</g>
<g id="text_32">
<!-- LiDAR Point 2D Coordinate Graph -->
<g transform="translate(153.511467 475.68) scale(0.12 -0.12)">
<use href="#DejaVuSans-4c"/>
<use href="#DejaVuSans-69" transform="translate(55.712891 0)"/>
<use href="#DejaVuSans-44" transform="translate(83.496094 0)"/>
<use href="#DejaVuSans-41" transform="translate(158.748047 0)"/>
<use href="#DejaVuSans-52" transform="translate(227.15625 0)"/>
<use href="#DejaVuSans-20" transform="translate(296.638672 0)"/>
<use href="#DejaVuSans-50" transform="translate(328.425781 0)"/>
<use href="#DejaVuSans-6f" transform="translate(385.103516 0)"/>
<use href="#DejaVuSans-69" transform="translate(446.285156 0)"/>
<use href="#DejaVuSans-6e" transform="translate(474.068359 0)"/>
<use href="#DejaVuSans-74" transform="translate(537.447266 0)"/>
<use href="#DejaVuSans-20" transform="translate(576.65625 0)"/>
<use href="#DejaVuSans-32" transform="translate(608.443359 0)"/>
<use href="#DejaVuSans-44" transform="translate(672.066406 0)"/>
<use href="#DejaVuSans-20" transform="translate(749.068359 0)"/>
<use href="#DejaVuSans-43" transform="translate(780.855469 0)"/>
<use href="#DejaVuSans-6f" transform="translate(850.679688 0)"/>
<use href="#DejaVuSans-6f" transform="translate(911.861328 0)"/>
<use href="#DejaVuSans-72" transform="translate(973.042969 0)"/>
<use href="#DejaVuSans-64" transform="translate(1012.40625 0)"/>
<use href="#DejaVuSans-69" transform="translate(1075.882812 0)"/>
<use href="#DejaVuSans-6e" transform="translate(1103.666016 0)"/>
<use href="#DejaVuSans-61" transform="translate(1167.044922 0)"/>
<use href="#DejaVuSans-74" transform="translate(1228.324219 0)"/>
<use href="#DejaVuSans-65" transform="translate(1267.533203 0)"/>
<use href="#DejaVuSans-20" transform="translate(1329.056641 0)"/>
<use href="#DejaVuSans-47" transform="translate(1360.84375 0)"/>
<use href="#DejaVuSans-72" transform="translate(1438.333984 0)"/>
<use href="#DejaVuSans-61" transform="translate(1479.447266 0)"/>
<use href="#DejaVuSans-70" transform="translate(1540.726562 0)"/>
<use href="#DejaVuSans-68" transform="translate(1604.203125 0)"/>
</g>
</g>
<g id="legend_2">
<g id="patch_12">
<path d="M 313.117246 519.03625
L 370.620371 519.03625
Q 372.620371 519.03625 372.620371 517.03625
L 372.620371 488.68
Q 372.620371 486.68 370.620371 486.68
L 313.117246 486.68
Q 311.117246 486.68 311.117246 488.68
L 311.117246 517.03625
Q 311.117246 519.03625 313.117246 519.03625
z
" style="fill: #ffffff; opacity: 0.8; stroke: #cccccc; stroke-linejoin: miter"/>
</g>
<g id="PathCollection_2">
<g>
<use href="#m26ed521848" x="325.117246" y="495.653437" style="fill: #90ee90; stroke: #90ee90"/>
</g>
</g>
<g id="text_33">
<!-- point -->
<g transform="translate(343.117246 498.278437) scale(0.1 -0.1)">
<use href="#DejaVuSans-70"/>
<use href="#DejaVuSans-6f" transform="translate(63.476562 0)"/>
<use href="#DejaVuSans-69" transform="translate(124.658203 0)"/>
<use href="#DejaVuSans-6e" transform="translate(152.441406 0)"/>
<use href="#DejaVuSans-74" transform="translate(215.820312 0)"/>
</g>
</g>
<g id="PathCollection_3">
<defs>
<path id="m7f373dbf50" d="M 0 3
C 0.795609 3 1.55874 2.683901 2.12132 2.12132
C 2.683901 1.55874 3 0.795609 3 0
C 3 -0.795609 2.683901 -1.55874 2.12132 -2.12132
C 1.55874 -2.683901 0.795609 -3 0 -3
C -0.795609 -3 -1.55874 -2.683901 -2.12132 -2.12132
C -2.683901 -1.55874 -3 -0.795609 -3 0
C -3 0.795609 -2.683901 1.55874 -2.12132 2.12132
C -1.55874 2.683901 -0.795609 3 0 3
z
" style="stroke: #0000ff"/>
</defs>
<g>
<use href="#m7f373dbf50" x="325.117246" y="510.331563" style="fill: #0000ff; stroke: #0000ff"/>
</g>
</g>
<g id="text_34">
<!-- wall -->
<g transform="translate(343.117246 512.956563) scale(0.1 -0.1)">
<defs>
<path id="DejaVuSans-77" d="M 269 3500
L 844 3500
L 1563 769
L 2278 3500
L 2956 3500
L 3675 769
L 4391 3500
L 4966 3500
L 4050 0
L 3372 0
L 2619 2869
L 1863 0
L 1184 0
L 269 3500
z
" transform="scale(0.015625)"/>
<path id="DejaVuSans-6c" d="M 603 4863
L 1178 4863
L 1178 0
L 603 0
L 603 4863
z
" transform="scale(0.015625)"/>
</defs>
<use href="#DejaVuSans-77"/>
<use href="#DejaVuSans-61" transform="translate(81.787109 0)"/>
<use href="#DejaVuSans-6c" transform="translate(143.066406 0)"/>
<use href="#DejaVuSans-6c" transform="translate(170.849609 0)"/>
</g>
</g>
</g>
</g>
<g id="axes_3">
<g id="patch_13">
<path d="M 486.469565 576.72
L 777.6 576.72
L 777.6 481.68
L 486.469565 481.68
z
" style="fill: #ffffff"/>
</g>
<g id="patch_14">
<path d="M 486.469565 576.72
L 568.893506 576.72
L 568.893506 521.987029
L 486.469565 521.987029
z
" clip-path="url(#pb28d6cc463)" style="fill: #0000ff" shape-rendering="crispEdges"/>
</g>
<g id="patch_15">
<path d="M 568.893506 576.72
L 651.317448 576.72
L 651.317448 543.597284
L 568.893506 543.597284
z
" clip-path="url(#pb28d6cc463)" style="fill: #0000ff" shape-rendering="crispEdges"/>
</g>
<g id="patch_16">
<path d="M 651.317448 576.72
L 733.741389 576.72
L 733.741389 554.817055
L 651.317448 554.817055
z
" clip-path="url(#pb28d6cc463)" style="fill: #0000ff" shape-rendering="crispEdges"/>
</g>
<g id="patch_17">
<path d="M 733.741389 576.72
L 816.16533 576.72
L 816.16533 486.205714
L 733.741389 486.205714
z
" clip-path="url(#pb28d6cc463)" style="fill: #0000ff" shape-rendering="crispEdges"/>
</g>
<g id="matplotlib.axis_3">
<g id="xtick_22">
<g id="line2d_28">
<g>
<use href="#m482b6af915" x="486.469565" y="576.72" style="stroke: #000000; stroke-width: 0.8"/>
</g>
</g>
<g id="text_35">
<!-- 0 -->
<g transform="translate(483.288315 591.318438) scale(0.1 -0.1)">
<use href="#DejaVuSans-30"/>
</g>
</g>
</g>
<g id="xtick_23">
<g id="line2d_29">
<g>
<use href="#m482b6af915" x="524.278713" y="576.72" style="stroke: #000000; stroke-width: 0.8"/>
</g>
</g>
<g id="text_36">
<!-- 100 -->
<g transform="translate(514.734963 591.318438) scale(0.1 -0.1)">
<use href="#DejaVuSans-31"/>
<use href="#DejaVuSans-30" transform="translate(63.623047 0)"/>
<use href="#DejaVuSans-30" transform="translate(127.246094 0)"/>
</g>
</g>
</g>
<g id="xtick_24">
<g id="line2d_30">
<g>
<use href="#m482b6af915" x="562.08786" y="576.72" style="stroke: #000000; stroke-width: 0.8"/>
</g>
</g>
<g id="text_37">
<!-- 200 -->
<g transform="translate(552.54411 591.318438) scale(0.1 -0.1)">
<use href="#DejaVuSans-32"/>
<use href="#DejaVuSans-30" transform="translate(63.623047 0)"/>
<use href="#DejaVuSans-30" transform="translate(127.246094 0)"/>
</g>
</g>
</g>
<g id="xtick_25">
<g id="line2d_31">
<g>
<use href="#m482b6af915" x="599.897007" y="576.72" style="stroke: #000000; stroke-width: 0.8"/>
</g>
</g>
<g id="text_38">
<!-- 300 -->
<g transform="translate(590.353257 591.318438) scale(0.1 -0.1)">
<use href="#DejaVuSans-33"/>
<use href="#DejaVuSans-30" transform="translate(63.623047 0)"/>
<use href="#DejaVuSans-30" transform="translate(127.246094 0)"/>
</g>
</g>
</g>
<g id="xtick_26">
<g id="line2d_32">
<g>
<use href="#m482b6af915" x="637.706155" y="576.72" style="stroke: #000000; stroke-width: 0.8"/>
</g>
</g>
<g id="text_39">
<!-- 400 -->
<g transform="translate(628.162405 591.318438) scale(0.1 -0.1)">
<use href="#DejaVuSans-34"/>
<use href="#DejaVuSans-30" transform="translate(63.623047 0)"/>
<use href="#DejaVuSans-30" transform="translate(127.246094 0)"/>
</g>
</g>
</g>
<g id="xtick_27">
<g id="line2d_33">
<g>
<use href="#m482b6af915" x="675.515302" y="576.72" style="stroke: #000000; stroke-width: 0.8"/>
</g>
</g>
<g id="text_40">
<!-- 500 -->
<g transform="translate(665.971552 591.318438) scale(0.1 -0.1)">
<use href="#DejaVuSans-35"/>
<use href="#DejaVuSans-30" transform="translate(63.623047 0)"/>
<use href="#DejaVuSans-30" transform="translate(127.246094 0)"/>
</g>
</g>
</g>
<g id="xtick_28">
<g id="line2d_34">
<g>
<use href="#m482b6af915" x="713.324449" y="576.72" style="stroke: #000000; stroke-width: 0.8"/>
</g>
</g>
<g id="text_41">
<!-- 600 -->
<g transform="translate(703.780699 591.318438) scale(0.1 -0.1)">
<use href="#DejaVuSans-36"/>
<use href="#DejaVuSans-30" transform="translate(63.623047 0)"/>
<use href="#DejaVuSans-30" transform="translate(127.246094 0)"/>
</g>
</g>
</g>
<g id="xtick_29">
<g id="line2d_35">
<g>
<use href="#m482b6af915" x="751.133597" y="576.72" style="stroke: #000000; stroke-width: 0.8"/>
</g>
</g>
<g id="text_42">
<!-- 700 -->
<g transform="translate(741.589847 591.318438) scale(0.1 -0.1)">
<use href="#DejaVuSans-37"/>
<use href="#DejaVuSans-30" transform="translate(63.623047 0)"/>
<use href="#DejaVuSans-30" transform="translate(127.246094 0)"/>
</g>
</g>
</g>
</g>
<g id="matplotlib.axis_4">
<g id="ytick_4">
<g id="line2d_36">
<g>
<use href="#mc29566de9e" x="486.469565" y="576.72" style="stroke: #000000; stroke-width: 0.8"/>
</g>
</g>
<g id="text_43">
<!-- 0 -->
<g transform="translate(473.107065 580.519219) scale(0.1 -0.1)">
<use href="#DejaVuSans-30"/>
</g>
</g>
</g>
<g id="ytick_5">
<g id="line2d_37">
<g>
<use href="#mc29566de9e" x="486.469565" y="552.329193" style="stroke: #000000; stroke-width: 0.8"/>
</g>
</g>
<g id="text_44">
<!-- 1000 -->
<g transform="translate(454.019565 556.128411) scale(0.1 -0.1)">
<use href="#DejaVuSans-31"/>
<use href="#DejaVuSans-30" transform="translate(63.623047 0)"/>
<use href="#DejaVuSans-30" transform="translate(127.246094 0)"/>
<use href="#DejaVuSans-30" transform="translate(190.869141 0)"/>
</g>
</g>
</g>
<g id="ytick_6">
<g id="line2d_38">
<g>
<use href="#mc29566de9e" x="486.469565" y="527.938385" style="stroke: #000000; stroke-width: 0.8"/>
</g>
</g>
<g id="text_45">
<!-- 2000 -->
<g transform="translate(454.019565 531.737604) scale(0.1 -0.1)">
<use href="#DejaVuSans-32"/>
<use href="#DejaVuSans-30" transform="translate(63.623047 0)"/>
<use href="#DejaVuSans-30" transform="translate(127.246094 0)"/>
<use href="#DejaVuSans-30" transform="translate(190.869141 0)"/>
</g>
</g>
</g>
<g id="ytick_7">
<g id="line2d_39">
<g>
<use href="#mc29566de9e" x="486.469565" y="503.547578" style="stroke: #000000; stroke-width: 0.8"/>
</g>
</g>
<g id="text_46">
<!-- 3000 -->
<g transform="translate(454.019565 507.346797) scale(0.1 -0.1)">
<use href="#DejaVuSans-33"/>
<use href="#DejaVuSans-30" transform="translate(63.623047 0)"/>
<use href="#DejaVuSans-30" transform="translate(127.246094 0)"/>
<use href="#DejaVuSans-30" transform="translate(190.869141 0)"/>
</g>
</g>
</g>
</g>
<g id="patch_18">
<path d="M 486.469565 576.72
L 486.469565 481.68
" style="fill: none; stroke: #000000; stroke-width: 0.8; stroke-linejoin: miter; stroke-linecap: square"/>
</g>
<g id="patch_19">
<path d="M 777.6 576.72
L 777.6 481.68
" style="fill: none; stroke: #000000; stroke-width: 0.8; stroke-linejoin: miter; stroke-linecap: square"/>
</g>
<g id="patch_20">
<path d="M 486.469565 576.72
L 777.6 576.72
" style="fill: none; stroke: #000000; stroke-width: 0.8; stroke-linejoin: miter; stroke-linecap: square"/>
</g>
<g id="patch_21">
<path d="M 486.469565 481.68
L 777.6 481.68
" style="fill: none; stroke: #000000; stroke-width: 0.8; stroke-linejoin: miter; stroke-linecap: square"/>
</g>
<g id="text_47">
<!-- Height Histogram -->
<g transform="translate(579.16822 475.68) scale(0.12 -0.12)">
<defs>
<path id="DejaVuSans-67" d="M 2906 1791
Q 2906 2416 2648 2759
Q 2391 3103 1925 3103
Q 1463 3103 1205 2759
Q 947 2416 947 1791
Q 947 1169 1205 825
Q 1463 481 1925 481
Q 2391 481 2648 825
Q 2906 1169 2906 1791
z
M 3481 434
Q 3481 -459 3084 -895
Q 2688 -1331 1869 -1331
Q 1566 -1331 1297 -1286
Q 1028 -1241 775 -1147
L 775 -588
Q 1028 -725 1275 -790
Q 1522 -856 1778 -856
Q 2344 -856 2625 -561
Q 2906 -266 2906 331
L 2906 616
Q 2728 306 2450 153
Q 2172 0 1784 0
Q 1141 0 747 490
Q 353 981 353 1791
Q 353 2603 747 3093
Q 1141 3584 1784 3584
Q 2172 3584 2450 3431
Q 2728 3278 2906 2969
L 2906 3500
L 3481 3500
L 3481 434
z
" transform="scale(0.015625)"/>
<path id="DejaVuSans-73" d="M 2834 3397
L 2834 2853
Q 2591 2978 2328 3040
Q 2066 3103 1784 3103
Q 1356 3103 1142 2972
Q 928 2841 928 2578
Q 928 2378 1081 2264
Q 1234 2150 1697 2047
L 1894 2003
Q 2506 1872 2764 1633
Q 3022 1394 3022 966
Q 3022 478 2636 193
Q 2250 -91 1575 -91
Q 1294 -91 989 -36
Q 684 19 347 128
L 347 722
Q 666 556 975 473
Q 1284 391 1588 391
Q 1994 391 2212 530
Q 2431 669 2431 922
Q 2431 1156 2273 1281
Q 2116 1406 1581 1522
L 1381 1569
Q 847 1681 609 1914
Q 372 2147 372 2553
Q 372 3047 722 3315
Q 1072 3584 1716 3584
Q 2034 3584 2315 3537
Q 2597 3491 2834 3397
z
" transform="scale(0.015625)"/>
</defs>
<use href="#DejaVuSans-48"/>
<use href="#DejaVuSans-65" transform="translate(75.195312 0)"/>
<use href="#DejaVuSans-69" transform="translate(136.71875 0)"/>
<use href="#DejaVuSans-67" transform="translate(164.501953 0)"/>
<use href="#DejaVuSans-68" transform="translate(227.978516 0)"/>
<use href="#DejaVuSans-74" transform="translate(291.357422 0)"/>
<use href="#DejaVuSans-20" transform="translate(330.566406 0)"/>
<use href="#DejaVuSans-48" transform="translate(362.353516 0)"/>
<use href="#DejaVuSans-69" transform="translate(437.548828 0)"/>
<use href="#DejaVuSans-73" transform="translate(465.332031 0)"/>
<use href="#DejaVuSans-74" transform="translate(517.431641 0)"/>
<use href="#DejaVuSans-6f" transform="translate(556.640625 0)"/>
<use href="#DejaVuSans-67" transform="translate(617.822266 0)"/>
<use href="#DejaVuSans-72" transform="translate(681.298828 0)"/>
<use href="#DejaVuSans-61" transform="translate(722.412109 0)"/>
<use href="#DejaVuSans-6d" transform="translate(783.691406 0)"/>
</g>
</g>
<g id="legend_3">
<g id="patch_22">
<path d="M 493.469565 504.358125
L 558.527378 504.358125
Q 560.527378 504.358125 560.527378 502.358125
L 560.527378 488.68
Q 560.527378 486.68 558.527378 486.68
L 493.469565 486.68
Q 491.469565 486.68 491.469565 488.68
L 491.469565 502.358125
Q 491.469565 504.358125 493.469565 504.358125
z
" style="fill: #ffffff; opacity: 0.8; stroke: #cccccc; stroke-linejoin: miter"/>
</g>
<g id="patch_23">
<path d="M 495.469565 498.278437
L 515.469565 498.278437
L 515.469565 491.278437
L 495.469565 491.278437
z
" style="fill: #0000ff" shape-rendering="crispEdges"/>
</g>
<g id="text_48">
<!-- Height -->
<g transform="translate(523.469565 498.278437) scale(0.1 -0.1)">
<use href="#DejaVuSans-48"/>
<use href="#DejaVuSans-65" transform="translate(75.195312 0)"/>
<use href="#DejaVuSans-69" transform="translate(136.71875 0)"/>
<use href="#DejaVuSans-67" transform="translate(164.501953 0)"/>
<use href="#DejaVuSans-68" transform="translate(227.978516 0)"/>
<use href="#DejaVuSans-74" transform="translate(291.357422 0)"/>
</g>
</g>
</g>
</g>
</g>
<defs>
<clipPath id="pb0daf45731">
<rect x="252.72" y="77.76" width="380.16" height="380.16"/>
</clipPath>
<clipPath id="p347408bc69">
<rect x="205.790646" y="481.68" width="95.549143" height="95.04"/>
</clipPath>
<clipPath id="pb28d6cc463">
<rect x="486.469565" y="481.68" width="291.130435" height="95.04"/>
</clipPath>
</defs>
</svg>

</body></html>
